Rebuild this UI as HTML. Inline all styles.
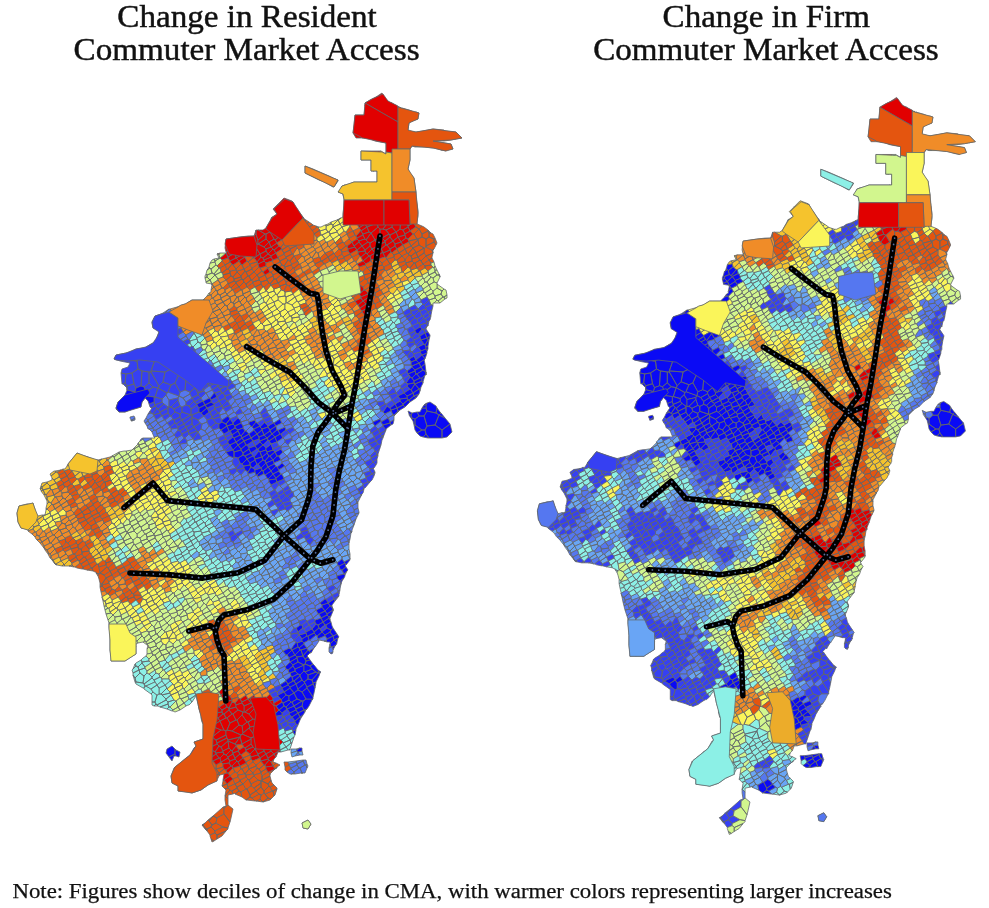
<!DOCTYPE html>
<html><head><meta charset="utf-8"><title>Change in Commuter Market Access</title>
<style>
html,body{margin:0;padding:0;background:#fff;}
svg{display:block;}
text{font-family:"Liberation Serif",serif;fill:#111;}
</style></head><body>
<svg width="989" height="908" viewBox="0 0 989 908">
<defs><path id="pRC" d="M190 783l-19-7 1 7 6 3 0 5 10 1zM190 783l2-5-18-10-3 8zM192 778l3-4 0-2-4-3-11-6-5 4-1 1zM191 769l-5-11-6 5zM208 778l-7-3-6-1-3 4-2 5-2 9 4 1 9-3 7-5 2-1zM70 546l-2-3-2-1-4 5 1 2zM71 549l-1-3-7 3 0 1 2 2zM216 781l-6-3-2 0 2 6zM93 571l-1-3-1 0-4 2zM99 574l-3-1 2 3zM102 586l0-1 0-1-2-1 0 4zM105 591l0-2-3-3-2 1 1 5zM200 750l3-3 2-11 0-1-2-1 0 5-9 3 2 4-2 2zM219 774l0-1-3-4 0-1-15 7 7 3 2 0zM216 781l1-1 2-4 1-1-1-1-9 4zM216 781l1 0 0-1zM224 780l-1 0 0 1zM227 784l-3-4-1 1-1 5zM222 786l3 3 3-1 0-1-1-3zM225 796l5-6-2-2-3 1 1 1zM230 790l-5 6 3 3 0-4 5-1-1-3zM91 568l1 0 5-4-2-3-6 3zM95 572l1 0 0 1 3 1 1-1-1-6-1-3-1 0-5 4 1 3zM105 589l6-3-2-3-7 2 0 1zM107 594l1 0 4-5-1-2 0-1-6 3 0 2zM115 590l-3-1-4 5 2 2 5-3 1-1zM223 767l0-3-2-2-5 3 0 3 0 1zM219 773l5-4-1-2-7 2zM227 773l-1-3-2-1-5 4 0 1 1 1 4-1zM235 784l-2-5-6 5 1 3zM86 545l6-3-2-3-5 3zM105 561l-2-1-5 4 1 3 7-2 0-2zM104 575l2 3 6-3-2-4zM109 582l5-3 0-1-2-3-6 3zM119 586l-4 4 1 2 6-2zM124 594l-1-1-5 4 3 4 5-4zM128 599l-1-2-1 0-5 4 0 1 1 1 6-2zM205 717l-4-2 0 3zM208 718l0-1-3 0-4 1 1 4zM202 722l1 2 0 10 2 1 5-9-2-8zM230 776l5-4-2-4-5 5zM61 480l-5 3 2 4 5-3 1-1zM58 487l0 1 2 3 1 0 4-4-2-3zM109 556l-4 5 1 2 6-2zM114 563l-2-2-6 2 0 2 1 2 1 1zM110 571l2 4 6-4 0-1-2-2zM123 593l1 1 6-4-3-3-5 3zM134 597l0-2-1-1-1-1-5 4 1 2zM131 604l5-4-2-3-6 2 0 2 2 3zM205 701l-3-3-2 0-3 2 1 4zM209 703l-4-2-7 3 1 5zM209 703l-10 6 2 6 4 2 3 0 2-3 0-10zM240 766l-7 2 2 4 2 1 4-4zM260 799l-4 2 7 1zM61 479l6-3-2-4-6 3 0 2zM69 480l0-1-2-3-6 3 0 1 3 3zM63 484l2 3 2 0 4-3-2-4-5 3zM72 484l-1 0-4 3 1 4 6-4 0-1zM91 526l5-3-2-4-6 4zM92 530l1 0 6-3-3-4-5 3 0 3zM101 531l-2-3 0-1-6 3 2 4zM134 597l2 3 6-3-1-2-7 0zM140 604l3-5-1-2-6 3 3 4zM242 769l6-3-2-3-6 3 1 3zM268 798l-3-4-1-1-3 2-1 4 3 3zM268 798l-5 4 7-2 1-1zM64 471l1 1 2 4 5-5 0-3zM69 479l6-2 0-1-3-5-5 5zM91 512l-1 1 2 3 6-3-2-4zM98 513l-6 3 2 3 6-3-1-3zM102 519l-2-3-6 3 2 4 7-3zM236 746l3 4 5-3-2-3-6 1zM243 758l7-3 0-1-4-3-5 4zM246 762l5-3 0-2-1-2-7 3zM246 763l2 3 5-4 0-1-2-2-5 3zM254 775l7-2 0-1-2-3-2-1-4 5 0 1zM268 798l3 1 3-3-1-5-1 0-7 3zM91 501l2 3 5-3-1-4zM101 505l-1-2-2-2-5 3 0 1 3 4zM104 508l-2-3-1 0-5 4 2 4 1 0zM147 578l-2-3-6 3 0 1 3 4zM150 581l-2-2-1-1-5 5 2 3 6-4zM256 765l0 1 1 2 2 1 5-4-3-4zM266 767l-1-2-1 0-5 4 2 3 5-3zM266 769l-5 3 0 1 1 3 6-4zM270 787l2 4 1 0 4-2 0-1-3-3zM273 791l1 5 1-1 2-6zM95 481l-2-2-5 4 3 4 4-5zM95 482l-4 5 2 3 6-3-3-4zM275 769l-6 3 1 3 0-1zM98 471l-2-3-7-3 1 7 2 3 5-2zM100 476l-3-3-5 2 0 2 1 2 2 2zM103 480l-7 3 3 4 1 0 4-5zM271 762l2 4 3-3-3-1 1-3zM273 766l2 3 2-2 3-2-4-2zM275 769l2-1 0-1zM310 823l-2-3-6 3 1 3zM303 826l0 2 5 1 3-5-1-1zM123 497l-1-1-5 6 1 2 6-3zM241 688l-2-3-6 3 0 1 1 3 2 1zM291 769l0-1-2-3-4 2 0 3 2 2zM118 491l1 3 1 1 5-5-2-3zM125 490l-5 5 2 1 1 1 5-3 0-1-2-2zM222 273l5-4-2-4-5 3 1 4zM223 275l7-2 0-2-2-2-1 0-5 4zM223 277l3 3 5-4-1-3-7 2zM234 279l-1-2-2-1-5 4 2 3 0 1 6-3zM236 282l-2-1-6 3 2 3 1 1 5-5zM231 288l1 2 1 0 6-3-3-4zM230 271l0 2 1 3 2 1 4-5 0-1-1-1zM237 272l-4 5 1 2 7-2 0-1zM242 279l-1-2-7 2 0 2 2 1zM243 280l-1-1-6 3 0 1 3 4 5-5zM247 287l-1-3-2-2-5 5 2 3 1 0zM237 272l4 4 4-5-1-2-7 2zM248 276l-2-4-1-1-4 5 0 1 1 2 1 1zM251 280l-2-4-1 0-5 4 1 2 2 2zM253 283l0-1-1-2-1 0-5 4 1 3zM244 269l1 2 1 1 6-3 0-1-2-3zM246 272l2 4 1 0 5-4-2-3zM257 275l-3-3-5 4 2 4 1 0zM298 261l-6 3-1 1 2 3 1 0 5-4zM294 268l1 3 6-3 1 0-2-4-1 0zM297 261l5-5-1-2-1 0-6 2zM304 238l-2-3-6 4 0 7 1 2 2 2 5-3zM330 261l2 2 6-3-1-3-1-1zM342 254l-5 3 1 3 6-2 0-1zM358 284l7-5-1-4-12 5-1 3 1 1zM359 267l0 2 2 2 2 1 4-5-2-2z"/><path id="pRD" d="M206 829l-3-4-1 0 3 4zM207 829l-1 0-1 0 2 2zM203 825l2-2-3 2zM203 825l3 4 1 0 4-2 1-2-3-4-1-1-3 3zM207 831l3 4 5-2 0-2-4-4-4 2zM209 821l4-5-5 4zM213 816l-4 5 3 4 4-2 1-5zM216 823l-4 2-1 2 4 4 8-4zM224 808l-1-1-1 1-9 8 4 2 7-4zM66 542l-1-3-6 2 0 1 3 4 0 1zM83 568l0-1-2-3-1-1-5 4 2 1 5 1zM68 543l5-5-2-3-6 3 0 1 1 3zM83 569l4 1 4-2-2-4-6 3 0 1zM89 564l6-3 0-2-2-2-6 3zM237 773l1 2 7-1-3-5-1 0zM57 472l2 3 6-3-1-1-1-2-2 1zM76 490l-6 4 2 2 6-2-1-3zM245 774l4-5-1-3-6 3zM253 774l0-1-4-4-4 5 1 1zM68 464l-1 2 2-1zM77 479l-2-2-6 2 0 1 2 4 1 0zM82 487l-2-3-6 2 0 1 2 3 1 1zM248 766l1 3 7-3 0-1-3-3zM253 773l4-5-1-2-7 3zM81 463l1-2-9-3-5 6 1 1 3 2zM80 484l5-5 0-1-1-2-1 0-5 3zM90 472l-6 4 1 2 7-1 0-2zM255 287l-2-4-6 4 3 3zM317 227l-8 6 5 1 6-4-2-2zM320 231l0-1-6 4 3 4 4-3z"/><path id="pRG" d="M211 839l1 3 2-1zM217 835l-2-2-5 2 0 1 1 3 3 2 3-2zM223 827l-8 4 0 2 2 2 9-4 2-2 0-1zM217 835l0 4 5-3 4-5zM224 814l-7 4-1 5 7 4 5 1 2-6zM224 808l0 6 6 8 1-4 2-9-5-4zM216 765l-3-4-4-2-8 0-6 13 0 2 6 1 15-7zM100 583l2 1 4-6-2-3-4-2-1 1-1 2 1 3zM102 584l0 1 7-2 0-1-3-4zM107 567l-1-2-7 2 1 6zM107 567l-7 6 4 2 6-4-2-3zM237 773l-2-1-5 4 3 3 5-2 0-2zM116 567l-2-4-6 5 2 3 6-3zM112 575l2 3 6-3 0-1-2-3zM132 593l-2-3-6 4 2 3 1 0zM118 570l6-3-2-3-6 3 0 1zM118 571l2 3 6-3-2-4-6 3zM128 574l-1-3-1 0-6 3 0 1 2 3 1 0zM128 574l-5 4 2 3 6-3zM125 581l0 3 2 2 6-4-2-4zM138 590l-2-4-1 0-5 4 2 3 1 1zM134 595l7 0-1-2-2-3-5 4zM124 567l2 4 1 0 5-4-2-3zM136 571l-3-3-1-1-5 4 1 3 7-2zM131 578l5-4-1-2-7 2zM133 582l6-3 0-1-3-4-5 4zM136 586l6-3-3-4-6 3 2 4zM138 590l6-4-2-3-6 3zM132 567l1 1 5-5-2-3-6 3 0 1zM220 640l-2-3-7 3 2 4 7-3zM210 626l5-5-1-2-6 2 0 2zM228 284l0-1-5 5 2 2 5-3zM249 316l-2-3-6 3 2 4 1 1zM245 323l0 1 3 3 5-3 0-1-2-3zM256 328l-3-4-5 3 0 1 2 4zM241 290l-2-3-6 3 2 4zM230 262l0-1-2-3-6 2 0 1 3 4zM227 269l1 0 4-5-2-2-5 3zM233 265l-1-1-4 5 2 2 6-1 0-1zM241 264l-2-3-6 4 3 4zM236 270l1 1 7-2-2-4-1-1-5 5zM250 265l0-1-2-2-1-1-5 4 2 4zM259 280l0-2-2-3-5 5 1 2zM253 283l2 4 6-3 0-2-2-2-6 2zM261 284l-6 3 3 5 1 0 4-5zM252 269l2 3 5-5-1-3-6 4zM254 272l3 3 5-4-2-3-1-1zM265 275l-2-3-1-1-5 4 2 3zM265 275l-6 3 0 2 2 2 6-2 0-1zM264 287l5-4-2-3-6 2 0 2 2 3zM262 271l1 1 5-4-2-2-6 2zM273 275l-2-3-1 0-5 3 2 4 6-3zM274 279l-1-3-6 3 0 1 2 3 1 1zM276 279l-2 0-4 5 1 1 7-2zM279 272l-2-3-1-1-5 4 2 3zM279 273l0-1-6 3 0 1 1 3 2 0 5-4zM284 277l-3-2-5 4 2 4 6-4zM278 283l2 3 6-2 0-2-2-3zM286 284l-6 2 0 1 1 3 3 1 3-6zM288 274l0-1-3-5-6 5 2 2 3 2zM286 282l6-3-2-4-2-1-4 3 0 2zM294 282l-2-3-6 3 0 2 1 1 2 1zM296 286l-1-3-1-1-5 4 2 3zM291 291l2 3 6-5-2-2-1-1-5 3zM293 268l-5 5 0 1 2 1 5-3 0-1-1-3zM298 276l-3-4-5 3 2 4zM295 283l5-4-2-3-6 3 2 3zM296 286l1 1 6-5-3-3-5 4zM297 287l2 2 6-2 0-1-2-4zM307 290l-2-3-6 2 2 4zM306 275l-2-3-1 0-5 4 2 3zM310 294l5-3 0-1-2-3-6 3 2 4zM310 268l-6 4 2 3 6-3zM312 272l2 3 6-4-1-3-1 0zM319 257l-6 2 0 2 2 3 6-3-1-3zM318 268l1 0 5-4-2-3-1 0-6 3 0 1zM320 258l1 3 1 0 6-4-3-4zM328 257l-6 4 2 3 1 0 5-3zM334 253l-2-3-7 3 3 4zM330 261l6-5-2-2 0-1-6 4zM346 261l-2-3-6 2 2 4 0 1zM358 254l-6 3 2 4 2 1 4-6zM347 234l6-3-3-5-4 6zM352 242l5-3 0-1-1-2-1-1-6 3 0 1zM389 201l7-5-5-16-13 0 8 19z"/><path id="pyM" d="M26 519l0-1 0-1-1 0-8-3 1 8 2 4zM26 519l-6 7 1 2 5 1zM53 560l-2-3-1 1 2 2zM55 564l-2-4-1 0zM29 509l0-2-2-3-8 2-2 7 0 1 8 3 1-1zM60 558l-1-1-6 3 2 4 1 0 5-3zM29 507l1-3-3 0zM29 509l-3 7 9-5 0-2-1-2zM26 516l-1 1 1 0 7 1 4-3-2-4zM33 518l4 2 6-4-1-1-4 1-1-1zM37 520l2 4 5-5-1-3zM80 535l-3-4-6 4 2 3zM82 538l-2-3-7 3 3 3zM91 554l5-5-2-3-5 3 0 2 1 2zM159 465l1 0 5-5-2-2-7 1zM168 463l-3-3-5 5 2 3 6-4zM170 468l-2-4-6 4 1 2zM175 463l-2-2-5 2 0 1 2 4z"/><path id="pyD" d="M33 529l1-2-8-9 0 1 0 10 2 1 0 1zM56 564l-1 0 1 1 1 0zM39 524l-2-4-4-2-7-1 0 1 8 9 5-2zM36 532l5-4 0-1-2-2-5 2-1 2 2 3zM64 564l-3-3-5 3 1 1 5 1zM62 566l3 0-1-1 0-1zM34 507l-1-4-3 1-1 3 0 2zM72 565l0-2-2-2-1-1-5 5 1 1 4 0zM42 488l0-1-1-1-1 3zM43 490l-1-2-2 1 1 1 0 1zM45 494l-2-4-2 1 3 4zM47 499l0-2-1-2-1-1-1 1 2 4zM49 502l-2-3-1 0 1 2 0 3zM47 509l5-5-1-1-2-1-2 2-1 4zM42 487l5-4 0-1-5 1-1 3zM50 488l0-2-3-3-5 4 0 1 1 2zM51 489l-1-1-7 2 2 4 1 1zM47 499l2 3 2 1 4-6-1-2-7 2zM52 478l0 2-5 2 0 1 3 3 6-3-2-3zM56 483l-6 3 0 2 1 1 1 1 6-2 0-1zM82 538l5-3-2-4-5 4zM55 471l-1 0-4 3 1 2 5-4zM59 475l-2-3-1 0-5 4 1 2 2 2 5-3zM61 479l-2-2-5 3 2 3 5-3zM61 470l-6 1 1 1 1 0zM69 465l-2 1-2 3-2 0 1 2 8-3 0-1zM80 484l-2-5-1 0-5 5 2 2zM72 468l0 3 3 5 6-5 0-8-9 4zM78 479l5-3-2-5-6 5 0 1 2 2zM88 483l-3-4-5 5 2 3zM82 461l0-6-5-2-4 5zM90 472l-1-7-7-4-1 2 0 8 2 5 1 0zM109 516l6-3 0-1-3-4-5 5zM109 516l2 4 6-3 0-1-2-3zM125 515l-1-2-7 3 0 1 2 2 1 1 5-4zM82 461l6-4-6-2zM82 461l7 4 7-5-8-3zM89 465l7 3 5-4-2-3-1-1-2 0zM101 464l-5 4 2 3 6-2 0-2-2-2zM99 461l2 3 1 1 5-5-1-2-4 1z"/><path id="pOD" d="M35 532l-2-3-5 2 4 3zM46 534l-2-3-1 0-4 5 1 2 6-2zM53 535l-2-4-5 3 0 2 2 2zM69 531l-7 3 0 1 3 3 6-3zM71 535l6-4-2-3-2-1-4 4zM83 528l-3-5-1 0-4 5 2 3zM139 552l1 1 6-3 0-1-3-3-5 3zM142 556l1 0 4-4-1-2-6 3zM154 548l-5 5 1 3 6-3zM153 560l5-4-2-3-6 3 0 1zM163 549l-1-1-6 5 2 3 7-4zM245 309l6-3-3-4-1-1-4 4zM254 299l0-1-6 4 3 4 5-5z"/><path id="pOL" d="M37 535l-1-3-1 0-3 2 3 3zM44 548l0-2-2-4-2 1zM49 554l-2-4-3-2 1 2 3 4zM51 543l-1 0-6 3 0 2 3 2 6-4 0-1zM55 549l-2-3-6 4 2 4 1 0zM55 549l-5 5 1 2 6-3zM53 546l2 3 7-3-3-4-6 3zM50 512l5-3-2-4-1-1-5 5zM52 490l-1-1-5 6 1 2 7-2zM52 504l1 1 6-3-3-5-1 0-4 6zM61 505l-2-3-6 3 2 4zM58 513l5-4 0-1-2-3-6 4zM58 488l-6 2 2 5 6-4zM54 495l1 2 1 0 6-1 0-3-1-2-1 0zM69 520l1 1 6-4 0-1-2-2-6 3zM78 519l-2-2-6 4 2 3 6-4zM75 528l4-5-1-3-6 4 1 3zM77 506l-6 2 0 2 3 3 4-5zM85 505l-2-3-6 2 0 2 1 2 2 1zM102 545l0 1 6-4-2-3-6 2 0 2zM110 546l0-1-2-3-6 4 2 3 1 0zM110 545l6-4-2-3 0-1-6 5zM136 574l7-2 0-2-1-2-1-1-5 4-1 1zM145 574l-2-2-7 2 3 4 6-3zM95 495l2 2 6-1 0-3-1-3-1 0zM103 496l-6 1 1 4 2 2 5-6zM108 501l0-1-1-2-2-1-5 6 1 2 1 0zM110 506l0-2-2-3-6 4 2 3 1 0zM149 567l-3-3-4 4 1 2 6-2zM143 570l0 2 2 2 6-4-2-2zM145 574l0 1 2 3 1 1 6-5-2-3-1-1zM109 491l-6 2 0 3 2 1 2 1 4-4zM154 574l6-3-3-4-5 4zM167 582l-1-1-5 5 2 3 1 0 5-3zM164 589l1 3 0 1 6-2 0-3-2-2zM118 504l0 1 2 3 1 1 5-4 0-1-2-3zM126 505l-5 4 3 4 5-5zM126 505l3 3 5-4-2-3-6 3zM295 271l0 1 3 4 5-4-2-4zM305 261l-5 3 2 4 6-3 0-1zM309 279l2 4 6-4-3-3zM309 254l-5 3 1 4 6-4zM313 259l-1-1-1-1-6 4 3 3 5-3zM315 264l-2-3-5 3 0 1 2 3 5-3zM352 309l-4-4-4 4 2 3zM317 238l-3-4-5-1-6 0-1 2 2 3 5 4 8-2zM317 240l-8 2 3 5 1 0 5-6zM315 249l0 1 1 2 2 1 5-3-2-4zM353 298l-6 3 0 1 1 2 7-3zM324 239l-5 3 2 4 5-4zM326 242l-5 4 2 4 5-4-1-4zM328 246l1 1 6-5-2-3-6 3zM339 235l2 2 0 1 6-4-1-2-2-1z"/><path id="pOM" d="M39 536l-2-1-2 2 1 2 1 1 3-1 0-1zM37 540l3 3 2-1-2-3zM51 557l0-1-1-2-1 0-1 0 2 4zM41 528l-5 4 1 3 2 1 4-5zM46 536l-6 2 0 1 2 3 6-4zM48 538l-6 4 2 4 6-3zM51 556l0 1 2 3 6-3-1-4-1 0zM51 531l-1-3-1-1-5 4 2 3zM50 543l1 0 5-6-2-2-1 0-5 3zM59 542l0-1-2-3-1-1-5 6 2 2zM72 565l-3 1 5 1zM54 535l5-5-1-2-7 3 2 4zM56 537l1 1 5-3 0-1-2-4-1 0-5 5zM57 538l2 3 6-2 0-1-3-3zM72 563l0 2 2 2 1 0 5-4-1-2-1-1zM82 569l1 0 0-1zM104 601l-2-4 1 4zM56 525l2 3 4-5-1-2-6 1zM60 530l6-2 0-2-1-2-3-1-4 5 1 2zM66 528l-6 2 2 4 7-3zM61 521l6-4-1-2-6 1 0 1zM65 524l4-4-1-3-1 0-6 4 1 2zM72 524l-2-3-1-1-4 4 1 2zM73 527l-1-3-6 2 0 2 3 3zM56 497l3 5 4-4-1-2zM65 499l-2-1-4 4 2 3 6-4zM67 501l-6 4 2 3 6-3zM69 505l-6 3 0 1 3 3 5-2 0-2-1-3zM68 517l6-3 0-1-3-3-5 2 0 3 1 2zM65 487l-4 4 1 2 6-1 0-1-1-4zM68 492l-6 1 0 3 1 2 2 1 5-5zM70 494l-5 5 2 2 6-3-1-2zM103 534l-5 5 2 2 6-2 0-1zM99 528l5-5-1-3-7 3 3 4zM108 527l-4-4-5 5 2 3 1 0zM109 530l-1-3-6 4 1 3 7-2zM111 534l-1-2-7 2 3 4zM104 523l4 4 4-4-1-3zM186 652l6-5-3-3-6 3 0 1 2 4zM138 563l7-3 0-1-2-3-1 0-6 4zM192 637l-5 3 2 3 6-3-1-3zM150 556l-1-3-2-1-4 4 2 3 5-2zM145 559l0 1 2 3 6-2 0-1-3-3zM101 476l4-4-1-3-6 2-1 2 3 3zM99 461l3-2-4 1zM102 465l2 2 6-2 0-2-2-3-1 0zM107 460l1 0 5-4-1 0-2 1-4 1zM313 247l-1 0-6 3 3 4 6-4 0-1zM324 264l-5 4 1 3 7-3-2-4z"/><path id="pYL" d="M117 653l3-3 0-2-10-1 0 3 1 7zM117 653l-6 4 0 4 6 0zM112 636l-2-1 0 2zM120 648l1-1 1-9 0-1-1-1-9 0-2 1 0 3 0 7zM120 650l-3 3 0 8 8 0zM126 649l-5-2-1 1 0 2 5 11 6-4zM118 597l-6 3 0 2 1 2 8-3zM173 684l1 1 4-3 0-1-2-4-6 4zM144 612l0-1-6 3 0 1 2 3 6-3zM176 677l2 4 6-4-2-2zM184 677l-6 4 0 1 4 2 4-4-1-2zM143 599l-3 5 1 3 6-3 0-1-1-3zM141 607l3 4 0 1 5-5-2-3zM152 611l-3-4-5 5 2 3zM140 593l1 2 1 2 6-4-1-3-1 0zM149 593l-1 0-6 4 1 2 3 1 5-4zM146 600l1 3 6-3-2-4zM147 604l2 3 6-3-2-3 0-1-6 3zM149 607l3 4 6-4-2-3-1 0zM152 611l3 4 5-4 0-1-2-3zM154 589l-2-3-5 4 1 3 1 0zM153 600l0 1 6-5-2-2-6 2zM153 601l2 3 1 0 5-5-2-3zM156 604l2 3 5-3 1-1-2-3-1-1zM161 599l1 1 5-3-2-4 0-1-6 4zM170 601l-2-4-1 0-5 3 2 3zM154 563l-1-2-6 2-1 1 3 3zM151 570l1 1 5-4-2-4-1 0-5 4 0 1zM124 513l1 2 7-2 0-1-3-4zM177 586l-6 2 0 3 2 2 1 0 4-4zM188 619l2 1 5-6-2-2-6 2 0 1zM198 607l-5 4 0 1 2 2 6-3-1-3zM122 472l1-1-2-3-1-1-5 6 1 2zM124 461l-6 4 2 2 1 1 6-3zM123 471l6-2 0-2-2-2-6 3zM126 476l4-5-1-2-6 2-1 1 3 4zM143 504l0 1 2 4 1 0 5-5-1-2-1-1zM146 509l1 2 7-2-2-4-1-1zM127 465l2 2 5-2 0-1-1-3-2-1zM129 467l0 2 1 2 1 0 6-3-3-3zM150 502l4-5-2-3-5 3 0 1 2 3zM151 504l1 1 6-3 0-1-3-4-1 0-4 5zM152 493l0 1 2 3 1 0 6-4-2-3-1 0zM163 497l-2-4-6 4 3 4zM253 655l1 1 5-5-1-2-7 2zM147 456l5-3-2-4-1 0-5 4zM159 476l1 3 7-4-4-4zM167 475l-7 4 2 3 1 0 6-3 0-1zM149 449l1 0 6-2 0-2-2-3-1 0-5 4zM152 453l2 4 1 0 5-6-1-1-1-1zM170 468l-7 2 0 1 4 4 4-4 0-1zM167 475l2 3 5-3-3-4zM162 442l-2-4-1-1-5 5 2 3zM237 364l0 1 3 3 6-3 0-1-2-2zM266 291l-2-4-1 0-4 5 1 2 7-3zM266 303l1 2 7-3-3-4-1-1zM273 316l1 0 6-3 0-1-3-3-5 3zM280 313l-6 3 2 4 1 0 4-4zM266 291l1 0 1 2 6-2 0-2-3-4zM268 295l2 2 1 1 5-4-2-3-6 2zM285 304l-2 0-6 5 3 3 5-3zM285 309l-5 3 0 1 1 3 2 1 5-5zM285 320l5-4-2-4-5 5zM274 291l2 3 1 1 4-5-1-3-6 2zM284 291l-3-1-4 5 1 2 7-1 0-4zM286 297l-1-1-7 1 0 3 5 4 2 0 1-1zM285 292l0 4 1 1 7-3-2-3zM287 303l8-6-2-3-7 3 0 6zM292 305l5-4-2-4-8 6zM294 309l2 4 1 0 4-4-1-3-6 2zM305 326l1 1 5-4-2-3-6 4zM295 297l2 4 1 1 6-3-1-2-2-3zM304 299l-6 3 2 3 6-2 0-2zM333 239l-3-4-5 4-1 0 2 3 1 0zM335 242l0 1 6-6-2-2-6 4zM337 231l0 1 2 3 5-4-2-4z"/><path id="pBC" d="M175 754l0-5-3-3-5 3-1 4 3 4zM175 754l-6 3 3 4 2-5 2 0zM175 754l1 2 3 1 1-5-4-2-1-1zM191 769l4 3 6-13-1-9-6-2-4 7-4 3zM296 628l2 4 5-4-1-3-2 0zM299 635l3 4 5-3-1-3zM330 606l-5 5 2 3 6-4 0-1-2-3zM331 616l2-5 0-1-6 4 0 1 2 2zM334 599l-6 4 2 3 1 0 1 0 0-1 3-4zM331 606l2 3-1-3zM333 610l0 1 0-1 0-1z"/><path id="pCD" d="M136 682l-1-4-2-3 2 7zM144 684l-1-1-7-1-1 0 1 2 7 4 1 0 1-2zM156 704l-1-2-3 0 0 3 2 1zM157 705l-1-1-2 2 4 0zM136 666l-1-2-2 5zM136 666l-3 3-1 1 1 3 6-3-1-3zM135 678l5-5-1-3-6 3 0 2zM135 678l1 4 7 1 1-7-4-3zM153 692l-2-3-5-3-1 0-1 2 0 1 7 5zM151 694l1 1 0 7 3 0 2-7-4-3zM136 666l2 1 4-4 0-1-1-2-5 3-1 1zM139 670l6-2 0-1-3-4-4 4zM139 670l1 3 4 3 3-3 0-2-2-3zM147 673l-3 3-1 7 1 1 8-6 0-1-3-3zM146 686l9-4-1-2-2-2-8 6 1 2zM155 702l1 2 1 1 9-5 0-1-4-4-1-1-2 0-2 1zM168 704l0-2-2-2-9 5 1 1 2 1zM169 707l-1-3-8 3 7 2zM172 711l1-1-3-3-1 0-2 2zM141 660l1 2 7-1 0-2-3-3-3 2zM151 663l-2-2-7 1 0 1 3 4zM149 674l3 3 4-4-1-3zM152 677l0 1 2 2 6-3-1-3-3-1zM161 678l-1-1-6 3 1 2 2 3 5-4 0-2zM159 694l2 0 6-6-2-3-6 3zM170 693l0-1-3-3 0-1-6 6 1 1zM166 699l5-4-1-2-8 2zM166 700l2 2 6-2-3-5-5 4zM176 701l-2-1-6 2 0 2 1 3 1 0zM167 688l0 1 6-5-3-3-5 4zM165 660l-6 2 0 1 2 4 1 1 5-6zM168 663l-1-1-5 6 1 2 1 0 6-4zM172 669l-1-3-1 0-6 4 2 3zM190 699l-1 0-5 4 2 3 2-1 1 0 3-3zM173 659l-2-4-1-1-5 6 2 2 1 1zM106 539l2 3 6-5-2-2-1-1-5 4zM113 549l5-2 0-2-2-4-6 4 0 1zM186 667l2 3 6-3 0-1-2-3-6 3zM204 681l-3-4-5 4 2 3 6-1zM114 538l2 3 7-2-3-5zM124 553l6-3-4-5-5 5 2 2zM126 557l1 2 7-3-3-4zM199 659l-3-3-1-1-5 5 2 2zM192 662l0 1 2 3 6-4-1-3zM194 666l0 1 3 3 5-4-1-4-1 0zM202 666l-5 4 1 2 2 1 5-4-2-2zM207 675l-6 1 0 1 3 4 5-4zM209 677l-5 4 0 2 1 1 6-3zM160 545l-2-3-1-1-5 5 2 2zM160 545l-6 3 2 5 6-5zM167 555l0 1 2 3 1 0 5-3-1-3-1-1zM290 740l-3-4-6 4 2 2 0 1zM291 743l-1-3-7 3 3 4zM291 743l-5 4 2 3 1 0 1-1 2-6zM285 733l2 2 6-3 0-1-1-2-7 2zM290 740l4-3 1-2-2-3-6 3 0 1zM290 740l1 3 1 0 1-3 1-3zM170 534l0 1 1 3 7-4-2-4zM178 534l-7 4 3 3 0 1 6-4 0-1zM184 530l-6 4 2 3 6-3zM187 522l-1-3-2-1-4 5 2 3zM190 527l0-1-2-3-1-1-5 4 2 4zM186 534l1 0 6-3 0-2-3-2-6 3zM206 551l-3-2-4 4 0 2 7-2zM207 555l-1-2-7 2 0 1 4 3zM203 560l1 2 6-3-1-3-2-1-4 4zM205 564l1 2 1 1 5-4-1-4-1 0-6 3zM213 551l-1-2-1 0-5 2 0 2 1 2 2 1zM216 556l-5 3 1 4 1 0 5-4zM159 450l1 1 6-1-1-4-2-1zM169 453l-1-1-5 6 2 2 6-4zM171 471l3 4 6-4-2-3-7 2zM184 479l-6 3 3 4 0 1 5-5zM194 494l-3-4-5 3 0 1 2 3 0 1zM186 468l0-2-2-2-1 0-5 4 2 3 1 1zM189 472l-3-4-5 4 1 2zM191 476l0-1-2-3-7 2 0 1 2 4zM188 483l5-5-2-2-7 3 2 3zM184 464l5-4-1-3-7 2 0 1 2 4zM193 468l-1-3-6 1 0 2 3 4zM191 475l7-4-3-2-2-1-4 4zM193 478l7-2-2-5-7 4 0 1zM191 449l-5 3 2 4 5-2 0-2zM189 460l2 1 4-5-2-2-5 2 0 1zM193 452l0 2 2 2 1 0 6-3-2-4-1 0zM204 457l-5 4 0 1 1 1 7-2 0-2-2-2zM223 486l-1-1-4 6 0 1 7-1-1-3zM224 488l1 3 0 1 2 1 5-4-1-2zM245 389l0 1 1 4 2 0 5-4-2-3zM253 390l-5 4 2 3 6-3zM260 401l0-1-2-2-6 3 0 1 1 2 2 1z"/><path id="pYD" d="M45 520l-1-1-5 5 0 1 2 2 7-3zM49 527l-1-3-7 3 0 1 2 3 1 0zM46 508l0 2 1-1zM46 510l-1 5-3 0 1 1 7-3 0-1-3-3zM43 516l1 3 1 1 6-4-1-3zM52 516l-1 0-6 4 3 4 5-4zM48 524l1 3 1 1 6-3-1-3-2-2zM58 528l-2-3-6 3 1 3zM133 650l-7-1 5 8 5-3 0-3zM55 509l-5 3 0 1 1 3 1 0 6-3zM60 517l0-1-2-3-6 3 1 4zM53 520l2 2 6-1-1-4zM60 516l6-1 0-3-3-3-5 4zM125 608l-6 2 2 5 6-3zM175 688l-1-3-1-1-6 5 3 3zM178 692l-3-4-5 4 0 1 1 2zM171 695l3 5 2 1 4-3-1-3-1-3zM130 604l-2-3-6 2 3 5zM133 608l0-1-2-3-1 0-5 4 2 4zM147 630l-3-4-5 4 2 3 6-2zM182 685l0-1-4-2-4 3 1 3zM178 692l5-4-1-3-7 3zM184 689l5-5-2-3-1-1-4 4 0 1 1 3zM195 693l0-1-3-4-6 4 2 3zM184 677l1 1 5-5-2-3-6 3 0 2zM190 674l0-1-5 5 1 2 1 1 6-4zM177 640l-1-2-7 1 0 2 4 3zM116 527l-2-3-2-1-4 4 1 3zM112 535l5-5 0-1-1-2-7 3 1 2 1 2zM114 537l0 1 6-4-3-4-5 5zM181 633l-2-4-5 4 2 3zM111 520l1 3 2 1 5-5-2-2zM120 520l-1-1-5 5 2 3 5-4zM202 651l-1 0-5 5 3 3 5-5zM123 524l4-5-2-3-5 4 1 3zM129 520l3-5 0-2-7 2 0 1 2 3zM158 556l-5 4 0 1 1 2 1 0 6-3zM161 560l-6 3 2 4 6-3 0-1zM161 560l2 3 6-4-2-3zM136 452l-1 2 3 4 1 0 4-5-2-2zM260 309l1 1 6-5-1-2-2-1-5 3 0 1zM269 309l-2-4-6 5 2 2 0 1zM260 294l2 4 1 0 5-3 0-2-1-2zM268 295l-5 3 1 4 2 1 4-6zM275 305l-1-3-7 3 2 4zM277 309l-2-4-6 4 3 3zM321 235l-4 3 0 2 1 1 1 1 5-3 1 0-3-4zM328 232l-2-3-6 2 1 4 1 0zM325 239l5-4 0-1-1-2-1 0-6 3zM326 226l5-2 0-2-3 2-3 1zM329 232l4-5 0-2-2-1-5 2 0 3 2 3zM330 234l7-2 0-1-4-4-4 5zM339 235l-2-3-7 2 0 1 3 4zM338 220l-1 0-6 2 0 2 2 1zM340 224l-2-4-5 5 0 2zM337 231l5-4-2-3-7 3zM338 220l3-2-4 2zM345 215l-2-1 0 2zM345 215l-2 1 0 1-2 1-3 2 2 4 12-8z"/><path id="pRL" d="M62 547l0-1-7 3 2 4 1 0 5-3 0-1zM75 554l-2 0-5 2 0 2 1 2 1 1 6-4 0-1zM76 557l-6 4 2 2 6-3zM70 546l1 3 7-2 0-2-2-2zM78 547l-7 2 2 5 2 0 4-5zM76 556l0 1 2 3 1 1 5-4-2-3zM79 561l1 2 1 1 6-4-2-3-1 0zM89 564l-2-4-6 4 2 3zM76 543l2 2 5-4-1-3-6 3zM83 541l-5 4 0 2 1 2 2 0 5-4-1-3zM85 557l2 3 6-3-2-3-1-1zM228 787l0 1 2 2 2 1 5-3 0-1-2-3zM232 791l1 3 2-1 0 1 4-3-2-3zM241 792l-2-1-4 3 7 3zM240 780l-2-3-5 2 2 5 5-3zM240 781l-5 3 2 3 6-3zM237 787l0 1 2 3 2 1 5-3-3-5zM75 501l-2-3-6 3 2 4 1 0 5-3zM77 504l-2-2-5 3 1 3 6-2zM78 508l-4 5 0 1 2 2 6-4-2-3zM82 512l-6 4 0 1 2 2 6-2 0-2zM78 519l0 1 1 3 1 0 6-3-2-3zM86 520l-6 3 3 5 5-5zM91 529l0-3-3-3-5 5 2 3zM88 535l2 2 5-2 0-1-2-4-1 0zM243 784l5-5-2-2-6 3 0 1zM255 801l1 0 4-2 1-4-2-1-7 4zM74 487l-6 4 0 1 2 2 6-4zM73 498l2 3 5-4 0-2-2-1-6 2zM82 512l6-4-2-3-1 0-5 4zM90 513l1-1-3-4-6 4 2 3zM84 517l2 3 6-4-2-3-6 2zM88 523l6-4-2-3-6 4zM98 539l5-5-1-3-1 0-6 3 0 1 2 3zM261 781l-3-1-7 4 0 2 3 2 7-5zM254 788l2 3 5-4 0-4zM256 791l3 3 2 1 3-2 0-2-3-4zM88 508l5-3 0-1-2-3-5 4zM93 505l-5 3 3 4 5-3zM261 781l1 0 0-1 0-4-1-3-7 2 0 1 4 4zM261 787l3 4 5-5-1-2-6-3-1 0 0 2zM272 791l-2-4-1-1-5 5 0 2 1 1zM100 516l2 3 7-3-2-3-1-1zM127 559l0 1 3 3 6-3-2-3 0-1zM141 567l-3-4-5 5 3 3zM150 582l-6 4 2 4 1 0 5-4zM269 772l-1 0-6 4 0 4 8-4 0-1zM262 780l0 1 6 3 3-4-1-4zM268 784l1 2 1 1 4-2-2-2-1-3zM103 480l-2-4-1 0-5 5 0 1 1 1zM100 487l1 3 1 0 4-3-1-5-1 0zM107 487l-1 0-4 3 1 3 6-2 0-1zM107 498l1 2 6-2-3-4zM110 504l5-3-1-3-6 2 0 1zM118 505l0-1-1-2-2-1-5 3 0 2 2 2zM106 472l-1 0-4 4 2 4 5-5zM105 482l6-2-2-5-1 0-5 5 1 2zM106 487l1 0 6-4-2-2 0-1-6 2zM109 490l0 1 2 3 6-4-2-4zM111 494l3 4 5-4-1-3-1-1zM120 495l-1-1-5 4 1 3 2 1 5-6zM270 284l-1-1-5 4 2 4 5-6zM271 285l3 4 6-2 0-1-2-3zM289 286l-2-1-3 6 1 1 6-1 0-2zM355 301l-7 3 0 1 4 4 5-5z"/><path id="pOC" d="M63 550l-5 3 1 4 1 1 6-4-1-2zM60 558l1 3 7-3 0-2-2-2zM66 554l2 2 5-2-2-5-6 3zM102 597l5-3-2-3-4 1 1 4zM110 596l0 1 2 3 6-3-3-4zM85 531l-2-3-6 3 3 4zM90 539l0-2-2-2-1 0-5 3 1 3 2 1zM109 582l0 1 2 3 0 1 6-4-3-4zM119 586l0-1-1-2-1 0-6 4 1 2 3 1zM116 592l-1 1 3 4 5-4-1-3zM87 535l1 0 4-5-1-1-6 2zM117 583l1 0 4-5-2-3-6 3 0 1zM122 578l-4 5 1 2 6-1 0-3-2-3zM122 590l5-3 0-1-2-2-6 1 0 1zM83 502l0-1-2-4-1 0-5 4 0 1 2 2zM135 586l-2-4-6 4 0 1 3 3zM78 494l2 1 4-5-2-3-5 4zM84 490l-4 5 0 2 1 0 6-3-2-4zM89 497l-2-3-6 3 2 4 6-3zM86 505l5-4-2-3-6 3 0 1 2 3zM91 487l-6 3 2 4 6-4zM206 669l-1 0-5 4 1 3 6-1 0-3zM157 578l-3-4-6 5 2 2 7-2zM158 582l-1-3-7 2 0 1 2 4zM160 586l-2-4-6 4 2 3 1 1zM200 648l-3-4-5 3 2 4 6-2zM207 659l-2-5-1 0-5 5 1 3 1 0zM207 659l-6 3 1 4 1 1 6-5zM211 665l-1-2-1-1-6 5 2 2 1 0 5-3zM211 666l-5 3 1 3 6-2zM158 582l7-3 0-1-3-3-5 3 0 1zM214 659l-1-3-6 3 2 3 1 1zM217 663l0-1-1-2-2-1-4 4 1 2zM213 671l5-5-1-3-6 2 0 1 2 4zM220 681l0 1 2 3 6-3-2-4zM223 688l2 1 5-5-1-2-1 0-6 3zM230 684l-5 5 1 2 7-2 0-1-2-4zM234 692l-1-3-7 2 2 4 2 1zM202 626l-5 3 0 1 1 3 1 0 6-3zM206 632l-1-2-6 3 2 3 6-3zM223 659l-6 3 0 1 1 3 7-3 0-1-1-2zM228 682l1 0 5-6-2-2-6 2 0 2zM236 680l-2-4-5 6 1 2 1 0 5-3zM131 498l-3-4-5 3 1 4zM213 629l-3-3-5 4 1 2 7-2zM244 680l6-4-1-3-2-1-5 5 1 1zM247 683l6-3-2-3-1-1-6 4zM247 684l2 3 1 1 5-4-2-4-6 3zM133 475l-2-4-1 0-4 5 1 3 6-3zM135 479l-2-3-6 3 2 4zM131 486l6-4-2-3-6 4zM131 486l3 4 6-4-2-3-1-1zM140 486l-6 4 2 4 1 0 5-4zM141 476l-2-3-6 2 0 1 2 3zM138 483l2 3 6-3-2-4-1-1zM275 687l-2-2-2-1-4 4 1 3 6-3zM147 471l-2-3-6 3 0 2 2 3 6-4zM148 460l-1-2-7 1 0 3 2 2 1 1zM145 468l5-4-2-4-5 5zM253 323l6-3-2-4-6 3 0 1zM261 310l-1-1-5 4 2 3 6-4zM263 313l0-1-6 4 2 4 6-4zM267 319l-2-3-6 4 2 3 1 1zM286 350l5-5-2-3-5 4 0 1zM291 356l5-3-2-4-6 3 0 2 2 2zM294 334l-6 5 1 2 7-2 0-2zM312 338l-2-4-6 3 0 2 2 1zM294 256l6-2-1-4-2-2-4 6zM300 264l5-3-1-4-2-1-5 5 1 0 1 3zM330 302l-2-4-6 2 0 2 2 2zM330 302l-6 2 3 5 5-5zM342 319l-6 4 0 1 1 3 1 0 6-4zM306 250l-5 4 1 2 2 1 5-3zM309 242l-5-4 0 9 2 3 6-3zM347 302l-6 3-1 0 2 4 2 0 4-4 0-1zM354 313l0-1-2-3-6 3 2 3zM321 246l-2-4-1-1-5 6 2 2zM327 268l6-3-1-2-2-2-5 3zM357 304l-5 5 2 3 6-3 0-1-2-3zM353 278l8-7-2-2-6 2zM312 173l1-1 0-3-8-3 0 7 4 2zM312 173l-3 2 4 2zM356 262l1 2 6-3-2-4-1-1zM312 173l1 4 6 3 2-2-8-6zM319 180l5 2 2-1 0-2-5-1zM326 181l-2 1 2 1zM313 172l8 6 5 1 3-1 0-1 0-1-16-7zM329 178l-3 1 0 2 0 2 7 4zM333 187l1 0 4-6-1-1-8-3 0 1zM342 187l0-1-2 4 2-1zM342 189l-2 1-2 2 5 2 0 1 6-3zM329 177l8 3-8-4zM337 180l1 1 0-1z"/><path id="pyC" d="M61 561l3 3 0 1 5-5-1-2zM91 554l2 3 6-4-2-3-1-1zM93 557l2 2 6-2 0-1-2-3zM97 564l1 0 5-4-2-3-6 2 0 2zM94 546l2 3 1 1 5-5-2-2zM99 553l5-4-2-3 0-1-5 5zM99 553l2 3 6-2-2-5-1 0zM107 554l-6 2 0 1 2 3 2 1 4-5zM260 666l2 3 1 0 5-4-1-3-7 3zM265 673l6-4-2-3-1-1-5 4zM276 678l0-1-3-4-5 4 2 3zM259 651l3 3 0 1 6-3 0-1-2-3zM262 655l2 3 0 1 6-5-2-2zM270 655l0-1-6 5 3 3 5-4zM317 321l0-3-1-1-2-1-5 4 2 3 1 0zM316 331l5-4-2-3-6 3zM333 265l2 2 5-3-2-4-6 3zM340 264l-5 3 0 1 2 4 6-4-3-3zM343 195l1 4 0 3 4 1 1-11zM342 187l3-2-3 1zM342 187l0 2 7 3 4-2-4-6-4 1zM353 190l6 0-4-8-1 0-5 2z"/><path id="pGM" d="M111 626l-2-3 0 1 0 3zM111 626l-2 1 1 8 2 1 9 0-4-6zM108 608l-2-2-2 0 1 4zM108 608l-3 2 1 4 5-1-1-1-1-4zM113 615l-2-2-5 1 2 6zM109 623l6-3 0-3-2-2-5 5zM137 641l-6-3-4-1-5 1-1 9 5 2 7 1 3-4 0-2 2-1zM133 650l3 1 0-5zM148 645l-1-1-1-2-1-1-2 1 4 3zM152 653l0-1-2-4-1-1-2 2 0 5zM166 673l-5 5 1 1 7 0 0-3zM171 666l5-3-3-4-5 4 2 3zM174 673l0 1 6-4 0-1-1-1-1-1-6 2zM155 615l-3-4-6 4 2 4zM156 618l-1-3-7 4 2 3 6-2zM158 621l-2-1-6 2 0 1 2 2 2 2zM176 663l5-4-2-3-6 3zM181 659l-5 4 2 4 1 1 5-6zM184 662l-5 6 1 1 6-2 0-1-2-3zM180 669l0 1 2 3 6-3-2-3zM164 619l-2-3-6 2 0 2 2 1 1 1zM164 619l-5 3 2 5 6-4zM164 631l1 1 1 0 6-2-2-5-1 0zM173 646l1 1 1 1 6-3 0-1-2-4-2 0-4 4zM183 647l-2-2-6 3 2 4 6-4zM166 608l-6 2 0 1 3 3 5-2 0-1zM174 618l4-3-1-3-7 2 0 1 2 3zM174 618l1 4 6-2 0-3-2-1-1-1zM186 640l1 0 5-3-2-4-5 4zM133 540l0 2 1 2 1 1 6-3 0-1-1-3-3-1zM137 537l3 1 5-4-2-3-1-1-5 4zM141 515l-1-2-1-1-5 3 2 4zM145 519l2 4 5-4 0-1-1-2-2 0zM163 549l4-4-1-3 0-1-6 4 2 3zM170 548l-1-2-2-1-4 4 2 3 5-3zM160 530l2 4 5-4-2-4zM162 534l1 3 7-2 0-1-2-3-1-1zM171 538l-1-3-7 2 3 4 0 1zM166 542l1 3 2 1 5-5-3-3zM170 520l4-5-2-3-6 3zM180 523l-2-1-5 5 3 3 6-4zM199 556l-5 3 2 4 7-3 0-1zM196 563l0 1 2 2 7-2-1-2-1-2zM201 570l3 5 5-5-2-3-1-1zM177 504l-1 0-6 3 2 5 6-3zM189 512l-6 4 1 2 2 1 6-3zM172 486l1 1 5-5-2-2-5 1 0 3zM175 489l0 2 2 2 1 1 5-5-2-2 0-1zM207 344l0-2-2-4-5 5 1 2zM201 347l2 3 2 0 3-5-1-1-6 1zM207 353l5-2 0-1-2-4-2-1-3 5zM230 368l-4 4 2 3 5-4 0-2zM235 361l-5 3-1 1 1 3 3 1 4-4 0-1-1-2zM238 379l2 4 1 0 5-4-2-3-6 2zM327 268l2 4 6-4 0-1-2-2zM329 272l0 5 1 2 6 6 2-1-1-12-2-4zM345 288l0 10 2 3 6-3zM343 268l-6 4 1 12 6 0 1-13-1-3zM345 271l-1 13 7-1 1-3 1-2 0-7-1-2z"/><path id="pYM" d="M106 606l0-2-1-3-1 0-1 0 1 5zM104 601l1 0 5-4 0-1-2-2-1 0-5 3zM112 602l0-2-2-3-5 4 1 3zM113 605l0-1-1-2-6 2 0 2 2 2 1 0zM110 612l6-4-3-3-4 3zM117 608l-1 0-6 4 1 1 2 2 5-5zM113 604l0 1 3 3 1 0 4-6 0-1zM121 602l-4 6 1 2 1 0 6-2-3-5zM149 647l-1-2-1 4zM127 612l2 4 1 0 6-5-3-3zM131 617l1 1 6-3 0-1-2-3-6 5zM140 618l-2-3-6 3 2 4 6-2zM140 620l-6 2 2 4 6-3 0-1zM166 673l3 3 5-3-2-4zM169 676l0 3 1 2 6-4-2-3 0-1zM136 611l5-4-1-3-1 0-6 3 0 1zM146 615l-6 3 0 2 2 2 6-3zM142 622l0 1 2 3 6-3 0-1-2-3zM150 623l-6 3 3 4 5-5zM176 677l6-2 0-2-2-3-6 4zM165 632l-5 5 1 2 7-1-2-6zM169 641l0-2 0-1-1 0-7 1 0 2 2 3 3 1zM166 632l2 6 1 0 4-6-1-2zM174 633l-1-1-4 6 0 1 7-1 0-2zM172 630l6-4-3-4-5 3zM173 632l1 1 5-4-1-3-6 4zM182 633l-1 0-5 3 0 2 1 2 2 0 5-3zM178 626l5-4-2-2-6 2zM113 484l0-1-6 4 2 3 6-4zM116 475l-1-2-1 0-5 2 2 5 0 1 6-6zM119 478l-2-3-6 6 2 2 0 1 6-5zM121 482l-2-3-6 5 2 2 6-2zM121 484l-6 2 2 4 1 1 5-4zM132 512l5-3-2-4-1-1-5 4zM118 465l-1-5-2 0-5 3 0 2 2 2zM118 465l-6 2 0 2 2 4 1 0 5-6zM127 479l-1-3-1 0-6 2 0 1 2 3zM135 505l2 4 6-4 0-1-3-3zM145 509l-2-4-6 4 2 3 1 1zM152 518l6-1 0-2-2-3-1-1-4 5zM159 518l-1-1-6 1 0 1 3 4zM163 523l0-1-1-2-3-2-4 5 1 3zM158 529l2 1 5-4-2-3-7 3 0 1zM158 502l-6 3 2 4 5-4 0-1zM154 509l1 2 1 1 5-4-2-3zM156 512l2 3 6-3-2-4-1 0zM164 512l-6 3 0 2 1 1 3 2 4-5zM162 520l1 2 7-2-4-5zM165 526l6-2 0-2-1-2-7 2 0 1zM167 530l1 1 5-4-2-3-6 2zM176 530l-3-3-5 4 2 3zM165 502l-1-4-1-1-5 4 0 1 1 2zM159 505l2 3 1 0 5-3-2-3-6 2zM164 512l6-5-2-2-1 0-5 3zM164 512l2 3 6-3-2-5zM167 491l-1 0-5 2 2 4 1 1 5-4 0-1zM164 498l1 4 6-5-2-3zM167 505l1 0 5-5-2-3-6 5zM154 442l5-5-1-1-4 1 1 1-4 0 0 1 2 3zM202 505l4-5 0-1-1-1-6 2 0 1 1 3zM214 342l-4 4 2 4 5-4-1-3zM277 295l-1-1-5 4 3 4 4-2 0-3zM274 302l1 3 2 4 6-5-5-4zM292 305l-5-2-1 0-1 1 0 5 3 3 6-3 0-1zM300 306l0-1-2-3-1-1-5 4 2 3zM328 298l2 4 6-4 0-13-6 4z"/><path id="pGL" d="M109 623l2 3 6 4 0-7-2-3zM117 623l0 7 4 6 1 1 2-3 2-8 0-2-3-5-1 0zM162 616l1-2-3-3-5 4 1 3zM161 627l1 2 2 2 5-6-2-2zM158 607l2 3 6-2-3-4zM170 614l-2-2-5 2-1 2 2 3 6-4zM170 615l-6 4 3 4 5-5zM167 623l2 2 1 0 5-3-1-4-2 0zM136 560l6-4-2-3-1-1-5 5zM175 608l-1-1-6 4 0 1 2 2 7-2 0-1zM168 597l5-4-2-2-6 2 2 4zM173 593l-5 4 2 4 5-5-1-3zM176 596l-1 0-5 5 1 2 2 1 5-4 0-1zM183 609l0-2-2-3-6 4 2 3zM177 612l1 3 1 1 5-6-1-1-6 2zM181 617l6-2 0-1-2-3-1-1-5 6zM183 622l5-3-1-4-6 2 0 3zM192 622l-2-2-2-1-5 3 2 4 1 1zM180 590l-2-1-4 4 1 3 1 0 6-3 0-1zM185 599l-4 5 2 3 5-3-2-5zM184 610l1 1 5-4-2-3-5 3 0 2zM187 614l6-2 0-1-2-4-1 0-5 4zM191 607l5-4-2-3-6 4 2 3zM191 607l2 4 5-4-1-4-1 0zM204 603l-4 5 1 3 1 0 5-4 0-1-1-1zM151 516l4-5-1-2-7 2 0 1 2 4zM127 465l4-5-1-3-6 4zM194 559l-6 5 2 2 6-2 0-1zM198 578l6-3-3-5-5 5 0 1 1 2zM128 454l5-5-1 1-6 1 1 3zM133 449l1 0 5-3 0-1-1-2 0 1zM139 446l-5 3 2 3 5-1 0-2zM176 504l-1-3-2-1-5 5 2 2zM183 516l-2-4-5 4 1 2zM139 445l6-2 0-1-2-3-3 2-2 2zM147 446l-2-3-6 2 0 1 2 3zM141 451l2 2 1 0 5-4-1-3-1 0-6 3zM171 497l2 3 2 1 4-4-1-3-1-1zM182 500l-3-3-4 4 1 3 1 0 5-2zM148 446l5-4-2-3-6 3 0 1 2 3zM178 494l1 3 7-3 0-1-3-4zM188 497l-2-3-7 3 3 3zM240 369l0-1-3-3-4 4 0 2zM244 376l1-2-2-2-2-1-4 4 1 3zM241 357l-5 5 1 2 7-2 0-1-2-4zM248 367l-1 0-4 5 2 2 6-2-1 0zM253 375l-6 4 1 3 2 0 5-4zM263 379l-6 3 0 1 3 4 5-5zM277 401l-3-4-5 4 2 3zM274 396l6-2-1-4-2-1-5 4zM279 404l7-3-4-6-4 7zM296 406l-1-3-1-2-6 4 2 2zM302 324l-1-4-1-1-5 4 2 4zM299 315l0 2 1 2 1 1 5-3 0-1-2-2zM324 289l6 0 6-4-6-6-11 3 0 2 2 3zM345 298l-6 3 2 4 6-3 0-1zM419 297l5-5-1-2-7 3zM427 296l-2-3-1-1-5 5 2 3 6-3z"/><path id="pCB" d="M157 685l-2-3-9 4 5 3zM157 695l2-1 0-6-2-3-6 4 2 3zM165 685l-3-4-5 4 2 3zM270 735l7 2 8-4 0-2-1-3-1 0zM158 449l1 1 4-5-1-3-6 3 0 2zM163 445l2 1 6-3-3-4-6 3zM172 445l-1-2-6 3 1 4 1 1zM178 468l5-4-2-4-6 4zM172 352l4 6 16-12-2-3zM190 341l7-2 0-1-3-5-5 7zM195 359l-3 5 16-6-2-5zM197 338l6-3-5-9-3-2-2 7 1 2z"/><path id="pRM" d="M224 808l4-3 0-1 0-5-3-3 0 4 1 6-3 1zM73 538l-5 5 2 3 6-3 0-2zM82 552l-1-3-2 0-4 5 1 2 6-2zM82 552l7-1 0-2-3-4-5 4zM84 557l1 0 5-4-1-2-7 1 0 2zM86 545l3 4 5-3-1-4-1 0zM238 775l0 2 2 3 6-3 0-2-1-1zM249 780l-1-1-5 5 3 5 1 0 4-3 0-2zM246 777l2 2 1 1 5-4 0-1-1-1-7 1zM254 776l-5 4 2 4 7-4zM130 563l-3-3-5 4 2 3 6-3zM105 508l-1 0-5 5 1 3 6-4zM109 516l-7 3 1 1 1 3 7-3zM112 469l0-2-2-2-6 2 0 2 1 3 1 0zM109 475l5-2-2-4-6 3 2 3zM352 284l-1-1-7 1 1 4 8 10 5-4zM368 283l-1-4-2 0-7 5 5 3z"/><path id="pGD" d="M121 615l-2-5-1 0-5 5 2 2 6-1zM115 617l0 3 2 3 5-4-1-3zM145 668l2 3 6-4-2-4-6 4zM147 671l0 2 2 1 6-4-2-3zM178 707l-2-6-6 6 3 3zM172 711l1 0 2 1 5-2-2-3-5 3zM122 619l1 0 6-3-2-4-6 3 0 1zM123 619l3 5 5-7-1-1-1 0zM126 626l8-4-2-4-1-1-5 7zM136 626l-2-4-8 4-2 8 12-7zM136 627l-12 7-2 3 0 1 5-1 12-7zM141 633l-2-3-12 7 4 1 10-4zM131 638l6 3 5-5-1-2zM145 641l-1-3-2-2-5 5 1 2 5-1zM149 659l4-4-1-2-5 1-1 2zM151 663l6-4-2-4-2 0-4 4 0 2zM153 667l6-4 0-1-2-3-6 4zM153 667l2 3 6-3-2-4zM161 667l-6 3 1 3 3 1 4-4-1-2zM164 670l-1 0-4 4 1 3 1 1 5-5zM178 707l6-4-3-4-1-1-4 3zM180 710l6-4-2-3-6 4zM139 630l5-4-2-3-6 3 0 1zM141 633l0 1 1 2 2 2 5-4 0-2-2-1zM149 634l-5 4 1 3 1 1 5-4 0-1zM151 638l-5 4 1 2 7-3zM154 641l-7 3 1 1 1 2 1 1 6-2 0-2zM150 648l2 4 6-4-2-2zM158 648l-6 4 0 1 1 2 2 0 5-4-1-2zM162 655l-2-4-5 4 2 4zM163 655l-1 0-5 4 2 3 6-2zM178 692l1 3 7-3-2-3-1-1zM186 692l-7 3 1 3 1 1 7-3 0-1zM181 699l3 4 5-4-1-3zM155 629l-1-2-2-2-5 5 0 1 2 1 6-2zM149 632l0 2 2 3 5-3-1-4zM151 637l0 1 3 3 5-4-2-3-1 0zM160 637l-1 0-5 4 2 3 5-3 0-2zM161 641l-5 3 0 2 2 2 1 1 4-5zM163 644l-4 5 1 2 6-2 0-1 0-3zM160 651l2 4 1 0 6-2-3-4zM170 654l-1-1-6 2 2 5zM178 667l-2-4-5 3 1 3zM192 688l-2-4-1 0-5 5 2 3zM115 553l-2-4-6 5 2 2zM112 561l4-5-1-3-6 3zM120 560l-2-4-2 0-4 5 2 2zM122 564l-2-4-6 3 2 4zM161 627l-2-5-1-1-4 6 1 2zM156 634l1 0 5-5-1-2-6 2 0 1zM164 631l-2-2-5 5 2 3 1 0 5-5zM166 648l7-2 0-2-4-3-3 4zM166 649l3 4 5-6-1-1-7 2zM177 652l-2-4-1-1-5 6 1 1 1 1zM187 681l2 3 1 0 6-4-2-2-1-1zM196 681l0-1-6 4 2 4 5-3 1-1zM195 692l4-3-2-4-5 3zM113 549l2 4 6-4-3-2zM179 655l0 1 2 3 6-3 0-2-1-2-1 0zM189 659l-2-3-6 3 3 3 0 1zM186 666l6-3 0-1-2-2-1-1-5 4zM197 670l-3-3-6 3 2 3 0 1zM197 670l-7 4 3 3 1 1 4-6zM201 676l-1-3-2-1-4 6 2 2 0 1 5-4zM116 541l2 4 6-3 0-1-1-2zM121 549l0 1 5-5-2-3-6 3 0 2zM126 557l5-5-1-2-6 3zM179 640l2 4 5-4-1-3-1 0zM195 655l-1-2-7 1 0 2 2 3 1 1zM211 681l-6 3 3 5 1 0 4-5-1-3zM124 527l0-1-1-2-2-1-5 4 1 2zM117 530l3 4 6-3-2-4-7 2zM123 539l4-6 0-1-1-1-6 3zM128 533l-1 0-4 6 1 2 7-3zM124 541l0 1 2 3 7-3 0-2-2-2zM133 542l-7 3 4 5 4-6zM138 549l-3-4-1-1-4 6 1 2zM134 556l0 1 5-5-1-3-7 3zM130 522l-1-2-2-1-4 5 1 2 6-2zM130 524l-6 2 0 1 2 4 1 1 5-6zM127 532l0 1 1 0 6-2 0-1-2-4zM134 531l-6 2 3 5 2 2 4-3 0-3zM143 546l0-1-2-3-6 3 3 4zM134 515l-2 0-3 5 1 2 6-3zM138 523l0-1-2-3-6 3 0 2 2 2zM132 526l2 4 6-4-2-3zM134 531l3 3 5-4-1-3-1-1-6 4zM146 534l-1 0-5 4 1 3 6-2 0-2zM141 541l0 1 2 3 6-4-2-2zM143 546l3 3 6-3-3-5-6 4zM146 550l1 2 2 1 5-5-2-2-6 3zM132 515l2 0 5-3-2-3-5 3 0 1zM138 522l6-3-2-3-1-1-5 4zM140 526l1 1 6-4-2-4-1 0-6 3 0 1zM142 530l1 1 6-3 0-3-2-2-6 4zM151 530l-2-2-6 3 2 3 1 0 5-3zM154 534l-3-3-5 3 1 3 7-2zM147 537l0 2 2 2 6-3 0-2-1-1zM149 541l3 5 5-5-2-3zM165 552l-7 4 3 4 6-4 0-1zM110 463l5-3-1-3-1-1-5 4zM141 515l1 1 5-4 0-1-1-2-1 0-5 4zM147 512l-5 4 2 3 1 0 4-3zM155 523l-3-4-5 4 2 2zM156 526l-1-3-6 2 0 3 2 2 5-3zM158 529l-2-2-5 3 0 1 3 3zM155 536l7-2-2-4-2-1-4 5 0 1zM155 538l2 3 1 1 5-5-1-3-7 2zM158 542l2 3 6-4-3-4zM165 552l2 3 6-3-3-3zM114 457l5-4 0-1-7 4 1 0zM119 453l-5 4 1 3 2 0 5-3zM122 457l-5 3 1 5 6-4zM169 546l1 2 7-2-3-4 0-1zM173 552l1 1 4-5 0-2-1 0-7 2 0 1zM127 454l-1-3-2 0-5 1 0 1 3 4zM130 457l-2-3-1 0-5 3 2 4zM174 542l3 4 1 0 4-5-2-3zM185 545l-2-4-1 0-4 5 0 2 1 0 7-2zM136 452l-2-3-1 0-5 5 2 3 5-3zM133 461l5-3-3-4-5 3 1 3zM177 520l0-2-1-2-2-1-4 5 1 2zM171 524l2 3 5-5-1-2-6 2zM139 458l1 1 7-1 0-2-3-3-1 0zM178 509l-6 3 2 3 2 1 5-4 0-1-2-2zM177 518l0 2 1 2 2 1 4-5-1-2zM198 485l6-3-3-4-1-1-3 7zM204 482l5-4-1-2-7 2zM251 306l1 2 7-2 0-1-2-3-1-1zM252 308l0 1 2 3 1 1 5-4-1-3zM251 294l7-2-3-5-5 3 0 1zM254 299l6-5-1-2-1 0-7 2 3 4zM257 302l5-4-2-4-6 5 2 2zM259 305l5-3-1-4-1 0-5 4zM432 305l1 1 0-1zM438 301l-1-1-3 3 6 0z"/><path id="pCM" d="M170 681l-1-2-7 0 0 2 3 4zM139 604l-3-4-5 4 2 3zM136 611l2 3 6-3-3-4zM177 652l-6 3 2 4 6-3 0-1zM118 556l5-4-2-2 0-1-6 4 1 3zM120 560l6-3-2-4-1-1-5 4zM120 560l2 4 5-4 0-1-1-2zM183 648l-6 4 2 3 6-3zM170 601l-6 2-1 1 3 4 5-5zM175 556l-5 3 1 4 7-2-1-1zM178 548l-4 5 1 3 6-2 1-1-3-5zM175 556l2 4 6-4-2-2zM177 560l1 1 1 2 1 0 5-3-2-4zM297 750l3-2-4 1zM186 546l-7 2 3 5 5-4 0-1zM182 553l-1 1 2 2 6-3 0-2-2-2zM182 526l-6 4 2 4 6-4zM186 534l-6 3 0 1 2 3 1 0 6-3-2-4zM189 538l-6 3 2 4 6-4zM193 545l-2-4-6 4 1 1 1 2zM187 549l2 2 6-3-2-3-6 3zM191 556l6-5-1-2-1-1-6 3 0 2zM205 564l-7 2 0 1 3 3 5-4zM194 532l-1-1-6 3 2 4 5-3zM194 535l-5 3 2 3 5-3zM191 541l2 4 5-4-2-3zM207 567l2 3 7-3 0-1-3-3-1 0zM268 665l1 1 6-3 0-2-2-2-1-1-5 4zM188 523l5-4-1-3-6 3 1 3zM201 530l-3-4-5 3 0 2 1 1 7-1zM194 532l0 3 2 3 6-4 0-1-1-2zM202 534l-6 4 2 3 1 1 5-4 0-1zM282 661l-1-2-6 2 0 2 2 3 5-4zM178 482l-5 5 2 2 6-3zM178 468l-3-4 0-1-5 5 1 2zM181 472l-1-1-6 4 2 3 6-3 0-1zM182 475l-6 3 0 2 2 2 6-3zM181 487l2 2 6-3-1-3-2-1zM186 493l5-3 0-2-2-2-6 3zM196 498l-2-4-6 4 2 2 1 1zM199 501l0-1-2-2-1 0-5 3 1 3 1 0zM199 490l-1-4-7 2 0 2 3 4zM197 498l5-5-2-3-1 0-5 4 2 4zM200 477l0-1-7 2 2 4 2 2zM243 493l-2-3-6 2 0 2 2 3 6-3zM245 508l5-4-2-3-6 3 1 3zM198 342l-1-3-7 2 0 2 2 3 1 1zM200 343l-2-1-5 5 2 3 6-3 0-2zM203 350l-8 8 0 1 11-6 1 0-2-3zM208 358l-16 6-3 5 8 5 1 0 1-1 11-13zM205 338l-2-3-6 3 0 1 1 3 2 1zM208 358l2 2 1 1 5-5-2-2zM213 364l6-3-2-3-1-2-5 5zM213 365l2 3 6-3-2-4-6 3zM214 376l4 3 7-8-2-3-8 6zM221 365l1 1 5-5-2-3-6 3zM227 361l-5 5 1 1 6-2 1-1zM233 371l-5 4 0 1 2 2 6-3zM237 375l-1 0-6 3 0 1 2 3 6-3 0-1zM244 386l-2-1-4 5 1 2 6-2 0-1zM235 361l-2-4-6 4 3 3zM241 371l-1-2-7 2 3 4 1 0zM242 385l2 1 4-4-1-3-1 0-5 4zM252 386l-2-4-2 0-4 4 1 3 6-2zM262 390l-2-3-7 3 3 4zM256 394l2 4 5-5-1-3zM271 404l2 5 1 0 5-5-1-2-1-1zM275 411l1 0 6-3-3-4-5 5zM278 402l4-7-1 0-1-1-6 2 0 1 3 4zM409 308l6-3 0-2-1-3-2-1-4 6z"/><path id="pXG" d="M215 752l-6-4-6-1-3 3 1 9 8 0 7-5 0-1zM209 759l4 2 6-3-3-4zM219 758l-6 3 3 4 5-3-1-4zM224 780l6-4-2-3-1 0-3 1-1 6zM216 740l-4-3-7-1-2 11 6 1 8-4 0-1zM217 744l-8 4 6 4 4-6zM221 747l-2-1-4 6 1 1 7-1 0-1zM216 753l0 1 3 4 1 0 4-4-1-2zM223 764l6-1 1-2-2-3-7 4zM228 773l5-5-1-2-1 0-5 4 1 3zM224 730l-3 0-9 7 4 3 10-5 0-4zM226 735l-10 5 1 3 10-5zM228 740l-1-2-10 5 0 1 2 2 2 1 7-6zM221 747l2 4 6-3-1-7zM242 726l1 7 6-5 1-1-2-5-1 0zM243 733l-1 1 9 4 4-2-6-8zM253 747l2 2 8-6 4-7 0-1-1-1-11 2-4 2 0 1 0 5zM244 712l-1 0-1 3 5 7 1 0 5-3-4-5-4-2zM265 720l-12-1-5 3 2 5 16-3 0-2 0-2zM255 736l11-2 0-10-16 3-1 1zM274 754l-6 4 0 1 1 1 2 2 3-3 2-2zM239 261l6-4 0-4-9 5zM268 268l-5 4 2 3 5-3zM359 228l6-4-1-15-7 2-4 5zM361 153l8 4-1-6-7 0 0 1zM377 154l4-3-1 0-3 0zM401 156l1-12-9-1-1 5 4 5z"/><path id="pXC" d="M233 779l-3-3-6 4 3 4zM224 754l-4 4 1 4 7-4 0-1-2-2zM226 770l5-4-2-3-6 1 0 3 1 2zM212 726l-2 0-5 9 0 1 7 1 9-7zM223 751l0 1 1 2 2 1 5-5-2-2zM226 755l2 2 5-3 0-1-1-2-1-1zM228 757l0 1 2 3 5-2 0-1-2-4zM235 759l-5 2-1 2 2 3 1 0 5-5zM237 761l-5 5 1 2 7-2-2-4zM229 748l2 2 1 1 4-5 0-1-1-1-7-3zM233 753l5-2 1-1-3-4-4 5zM233 754l2 4 5-4-2-3-5 2zM243 758l-2-3-1-1-5 4 0 1 2 2 1 1zM240 766l6-3 0-1-3-4-5 4zM227 730l-1 1 0 4 1 3 1 2 12-3 1-2-9-4zM228 741l7 3 5-7-12 3zM240 737l-5 7 1 1 6-1zM244 747l-5 3-1 1 2 3 1 1 5-4 0-1-1-2zM241 735l1-1 1-1-1-7-3-1-7 6zM242 744l9-5 0-1-9-4-1 1-1 2zM251 739l-9 5 2 3 1 1 6-4zM245 748l1 2 7-3-2-3zM246 750l0 1 4 3 5-5-2-2zM258 755l0-1-3-5-5 5 0 1 1 2zM221 695l0 1 2 3 5-4-2-4zM264 751l-1-8-8 6 3 5zM260 758l6-4-2-3-6 3 0 1zM266 754l-6 4 1 3 7-2 0-1zM261 761l3 4 1 0 4-5-1-1zM273 766l-2-4-2-2-4 5 1 2zM271 751l0-8-4-7-4 7 1 8 2 3zM274 754l-3-3-5 3 2 4zM359 267l6-2 1-1-3-3-6 3z"/><path id="pRB" d="M242 797l4 3 4-3 0-2-3-6-1 0-5 3zM252 798l-2-1-4 3 1 0 8 1zM254 788l-3-2-4 3 3 6 6-4zM250 795l0 2 2 1 7-4-3-3zM209 703l1-2 1-5 0-4-2-3-1 0-6 3 0 6 3 3zM289 765l0-1-1-2-4 0 1 5zM294 773l-3 1 4 0z"/><path id="pyL" d="M92 542l1 0 4-4-2-3-5 2 0 2zM94 546l6-3 0-2-2-2-1-1-4 4zM107 554l6-5-3-3-5 3zM107 513l5-5-2-2-5 2 1 4zM115 512l5-4-2-3-6 3zM117 516l7-3-3-4-1-1-5 4 0 1zM272 645l-6 2 0 1 2 3 6-3 0-1zM268 651l0 1 2 2 0 1 5-3 0-1-1-3z"/><path id="pCC" d="M188 696l1 3 1 0 6-4-1-2-7 2zM192 702l4-6 1 4 3-2-4-3-6 4zM196 695l4 3 2 0 0-6-1-3-2 0-4 3 0 1zM271 669l-6 4 0 1 3 3 5-4 0-1-1-2zM209 570l2 4 6-3 0-2-1-2zM219 574l-2-3-6 3 3 3zM250 636l1 0 4-4-1-2-6 2 0 1zM258 637l-1-5-2 0-4 4 2 3zM254 644l1 0 5-4-2-3-5 2-1 2zM269 666l2 3 1 1 5-4-2-3zM277 666l-5 4 1 2 6-1 0-2zM257 622l-2-4-7 2 1 2 3 3zM252 626l2 3 5-3-2-4-5 3zM254 629l0 1 1 2 2 0 4-3-1-2-1-1zM259 626l1 1 5-5-2-3-6 3zM201 519l6-3 1-1-2-3 0-1-7 4 1 0zM204 522l1 1 4-4-2-3-6 3zM266 622l6-3-2-3-7 2 0 1 2 3zM274 622l-2-3-6 3 2 3zM276 626l0-2-1-1-1-1-6 3 0 1 3 3zM214 513l-6 2-1 1 2 3 1 0 6-3zM212 508l2 3 5-2 0-2-1-3zM217 518l2 2 6-5-3-3-5 4zM216 501l2 3 6-3 0-2-3-2-1-1zM218 504l1 3 7-3 0-1-2-2zM227 507l-1-3-7 3 0 2 3 2zM227 519l6-4-2-4-1 0-5 4zM236 519l-1-1-2-3-6 4 2 2zM221 497l4-5 0-1-7 1 0 2 2 2zM224 499l5-3-2-3-2-1-4 5zM233 515l6-3 0-1-3-3-5 3zM236 507l0 1 3 3 4-4-1-3zM261 375l-3-4-5 4 2 3 6-2zM294 416l-2-4-1 0-5 4 2 3zM297 408l-1-2-6 1 0 2 1 3 1 0 5-3z"/><path id="pXy" d="M220 721l-2-3-8-4-2 3 0 1 2 8 2 0zM220 721l-8 5 9 4 3 0zM260 268l6-2 0-3-2-2-6 3 1 3zM264 260l0 1 2 2 6-2 1-1-2-3zM271 256l5-3-2-3-1-1-5 5zM265 234l1 0 4-2 1-2-4-4-1 2-3 2-5 0zM271 247l2 2 1 1 5-4-2-3zM274 250l2 3 6-4-1-2-2-1zM272 217l0 1-1 1zM271 230l10-4 1-2 3-6-1-2-10 0-2 1-1 2-4 7zM275 240l6-5 0-9-10 4-1 2 4 7zM277 243l6-4-2-4-6 5zM284 216l1-2-7-10-5 5 4 5-3 2zM288 241l4-2-10-15-1 2 0 9 2 4 3 2zM303 233l-1-2-17-13-3 6 10 15 4 0 6-4zM285 214l3-1 2-5 2-5 0-2-8-3-6 6zM293 202l-1-1 0 2zM292 203l-2 5 5-2-2-4zM298 210l-3-4-5 2-2 5 4 0zM298 214l2-1-2-3-6 3zM347 246l1 3 7-2-1-1-2-4zM350 254l7-4-2-3-7 2 0 2zM361 230l-5 6 1 2 6-3 0-1-2-3zM365 239l-2-4-6 3 0 1 2 2zM365 224l-6 4 2 2 0 1 6-4z"/><path id="pYG" d="M144 586l-6 4 2 3 6-3zM169 572l-7 1 0 2 3 3 4-4zM169 586l2 2 6-2 0-1-2-4zM174 567l-3-4-5 4 3 4zM171 574l1 3 6-2 0-1-2-3zM180 578l-5 3 2 4 5-2 0-2zM184 585l-2-2-5 2 0 1 1 3 2 1zM178 561l-7 2 3 4 5-4zM174 567l2 3 6-3-2-4-1 0zM176 570l0 1 2 3 6-3-1-4-1 0zM188 578l-1-3-1-1-6 4 2 3zM190 582l-2-4-6 3 0 2 2 2 1 1zM188 589l5-4-1-2-2-1-5 4zM180 563l2 4 1 0 5-3-2-4-1 0zM190 566l-2-2-5 3 1 4 1 0 5-3zM187 575l6-4-3-3-5 3 1 3zM215 607l-5 4 2 3 0 1 6-3 0-2zM245 655l-3-4-5 4 2 3zM253 680l6-3-1-3-2-1-5 4zM253 680l2 4 1 0 5-5-1-2-1 0zM143 490l5-4-2-3-6 3 2 4zM206 579l0-1-2-3-6 3 1 3zM212 588l-1-1-4 7 1 1 7-2zM215 607l6-4-2-3-6 2 0 2zM223 607l-2-4-6 4 3 3zM250 663l6-5-2-2-1-1-5 4zM250 663l2 2 6-3-2-3 0-1zM258 662l-6 3 0 1 3 3 5-3 0-1zM255 669l0 2 1 2 2 1 4-5-2-3zM270 680l-2-3-6 4 1 2 7-2zM215 593l5-5-2-2-6 2zM216 595l1 1 6-3-3-5-5 5zM252 641l1-2-2-3-1 0-6 4 2 3 1 0zM246 629l6-3 0-1-3-3-4 5zM217 346l2 0 5-4-3-4-5 5zM219 346l1 3 6-2 0-1-2-4zM219 335l2 2 7-1 0-1-2-4-1 0zM231 340l-2-1-5 3 2 4 6-3 0-2zM226 347l1 3 2 0 4-4-1-3-6 3zM247 353l-2-3-6 3 0 1 2 3 1 0zM248 354l-1-1-5 4 2 4 6-5zM250 356l-6 5 0 1 2 2 6-4zM253 349l-2-2-6 3 2 3 1 1zM256 353l0-1-2-2-1-1-5 5 2 2zM252 360l6-4-2-3-6 3zM258 370l0 1 3 4 5-5-1-1zM285 388l-4 7 1 0 6-1 0-1-2-4zM281 383l2 4 1 0 6-5-2-3-7 3zM284 387l1 1 1 1 7-2-3-5zM288 393l6-3-1-3-7 2zM290 397l1 0 5-5-2-2-6 3 0 1zM296 379l-6 3 3 5 5-5 0-1zM297 353l2 2 6-1 0-1-2-4-1-1zM303 364l1 0 5-4-2-4-6 4zM305 354l2 2 6-3-2-4-6 4zM315 357l-1-4-1 0-6 3 2 4zM315 357l-6 3 2 4 2 1 3-6zM301 293l-2-4-6 5 2 3 6-3zM342 227l8-3 3-8-1 0-12 8zM342 227l2 4 2 1 4-6 0-2z"/><path id="pGC" d="M198 684l-1 1 2 4 2 0 4-5-1-1zM201 689l1 3 6-3-3-5zM194 651l-2-4-6 5 1 2 7-1zM221 696l0-1-2-3-8 4-1 5zM209 703l1 1 2 0 11-4 0-1-2-3-11 5zM185 626l-2-4-5 4 1 3zM187 629l-1-2-1-1-6 3 2 4 1 0zM185 637l5-4 0-1-2-2-1-1-5 4 2 4zM207 672l0 3 2 2 6-4-2-2 0-1zM218 677l-2-3-1-1-6 4 2 4 1 0zM197 630l0-1-2-3-1-1-6 5 2 2zM215 673l1 1 5-4-3-4-5 5zM224 673l-2-3-1 0-5 4 2 3 6-3zM226 676l-2-2-6 3 2 4 6-3zM186 599l2 5 6-4-1-1 0-1zM198 617l0 1 2 4 6-4-3-4zM202 601l0-1-5 3 1 4 2 1 4-5zM202 611l1 3 7-3-3-4zM203 614l3 4 6-4-2-3zM212 614l-6 4 2 3 6-2 0-2-2-2zM197 578l-1-2-8 2 2 4 2 1zM193 585l6-2 0-2-1-3-1 0-5 5zM207 606l0 1 3 4 5-4-2-3zM198 567l-5 4 3 4 5-5zM167 491l2 2 6-2 0-2-2-2-1-1zM184 504l-2-2-5 2 1 5 1 0zM185 505l-1-1-5 5 2 2 6-2 0-2zM181 511l0 1 2 4 6-4-2-3zM190 500l-2-2 0-1-6 3 0 2 2 2 1 1zM192 504l-1-3-1-1-5 5 2 2zM206 353l2 5 6-4 0-1-2-2-5 2zM220 351l0-2-1-3-2 0-5 4 0 1 2 2zM216 356l1 2 5-5-2-2-6 2 0 1zM225 358l0-2-1-2-2-1-5 5 2 3zM226 347l-6 2 0 2 2 2 2 1 3-4zM229 350l-2 0-3 4 1 2 6-2 1-1zM225 356l0 2 2 3 6-4-2-3zM254 365l0-2-2-3-6 4 0 1 1 2 1 0zM255 367l-1-2-6 2 2 5zM255 378l2 4 6-3 0-1-2-2zM266 382l-1 0-5 5 2 3 6-3 0-1zM262 390l1 3 1 0 6-2 0-2-2-2zM263 378l6-3-3-4 0-1-5 5 0 1zM263 379l2 3 1 0 5-3-2-4-6 3zM274 382l-2-3-1 0-5 3 2 4zM268 387l2 2 6-3 0-1-2-3-6 4zM270 389l0 2 2 2 5-4-1-3zM269 375l6-4-2-3-7 3zM286 323l2 4 1 1 5-6-2-1zM309 320l-3-3-5 3 1 4 1 0zM346 312l-2-3-2 0-4 4 2 3zM346 312l-6 4 2 3 6-3 0-1zM355 316l-1-3-6 2 0 1 3 4 0 1zM364 275l-1-3-2-1-8 7-1 2z"/><path id="pXO" d="M212 704l-2 0 0 10 12-2 0-2-3-3zM210 714l8 4 5-4-1-2zM224 714l-1 0-5 4 2 3 6-3zM219 707l3 3 5-3-2-4zM222 710l0 2 1 2 1 0 5-4 0-1 0-1-2-1zM229 710l-5 4 2 4 1 0 5-4zM228 695l-5 4 0 1 2 2 7-2 0-1-2-3zM227 707l2 1 3-6 0-2-7 2 0 1zM232 702l-3 6 0 1 7-2 0-2-1-2zM229 709l0 1 3 4 1 0 5-4-2-3zM235 703l1 2 6-2 0-1-2-3-1-1zM240 699l2 3 6-3-2-4zM264 712l-4-6-1-1-1 0-9 9 4 5 12 1zM280 750l-2-3-7-4 0 8 3 3zM280 750l-6 4 2 3 2-5 3 0zM281 740l-4-3-7-2-3 0 0 1 4 7 7 4 5-5zM270 694l-7 6-1 3 11-3 0-2zM274 705l0-2-1-3-11 3-2 3 4 6zM218 254l1 1 1-2-3 1zM222 260l6-2 0-1-2-4-6 5zM235 246l2-2-4-6-7 1-1 9 1 4zM235 253l0-7-9 6 1 1-1 0 2 4zM230 261l6-3-1-5-7 4 0 1zM239 261l-3-3-6 3 0 1 2 2 1 1zM247 247l-10-3-2 2 0 7 1 5 9-5zM237 244l10 3 1-5 0-6-8 1-7 1zM260 254l-5-8-8 1 6 11 1 0zM261 257l-1-3-6 4 3 4zM264 261l0-1-1-2-2-1-4 5 1 2zM258 240l-2-6-2 2-6 6-1 5 8-1 3-2zM361 298l-6 3 2 3 1 1 5-4zM363 301l-5 4 2 3 6-4zM360 308l0 1 2 2 6-3-2-4zM370 310l-2-2-6 3 0 1 3 4zM364 290l-1-3-5-3-6 0 6 10 1 0zM368 293l-3-3-1 0-5 4 2 3 7-3zM400 119l-8 10 10 1 4-10z"/><path id="pXY" d="M230 723l-3-5-1 0-6 3 4 9 2 1 1-1zM227 718l3 5 6-3-3-6-1 0zM239 725l-2-5-1 0-6 3-3 7 5 1zM251 759l2 2 7-3-2-3-7 2zM239 725l3 1 5-4-5-7-5 5zM242 703l2 3 7-3-3-4-6 3zM244 712l1 0 9-7-3-2-7 3zM251 703l3 2 4 0 1 0-5-10-6 4zM396 232l2 5 7-2 0-1-2-4-3-1zM406 238l-1-3-7 2 3 5zM416 227l-2-4-1 0-5 3 0 1 2 4z"/><path id="pRY" d="M82 487l2 3 1 0 6-3-3-4zM89 497l0 1 2 3 6-4-2-2-1-1zM260 758l-7 3 0 1 3 3 5-4zM92 477l-7 1 0 1 3 4 5-4zM99 487l-6 3 1 4 1 1 6-5-1-3zM213 644l-4 3 1 4 1 0 5-3zM209 637l0 1 1 2 1 0 7-3-3-4-1-1zM217 648l4-4-1-3-7 3 3 4zM215 621l-5 5 3 3 5-3-1-4zM215 633l6-4-2-3-1 0-5 3 0 1 1 2zM222 629l-1 0-6 4 3 4 5-4 0-1zM218 637l2 3 6-3-3-4zM226 638l0-1-6 3 0 1 1 3 1 0 6-3zM230 643l-1-2-1 0-6 3 2 3 6-3zM230 644l-6 3 0 2 2 2 6-4zM231 633l-5 5 2 3 1 0 4-4zM233 637l-4 4 1 2 6-2 0-2-1-2zM229 324l-6 3 2 4 1 0 5-3zM229 324l2 4 1 0 5-5-2-2zM240 328l-1 0-5 3 0 2 1 1 1 0 5-3zM237 308l-3-2-5 4 1 2 7-2zM239 313l-1-1-1-2-7 2 0 2 1 2 1 0zM243 320l-6 3 2 5 1 0 5-4 0-1-1-2zM242 331l6-3 0-1-3-3-5 4 1 3zM274 265l6-3 0-1-2-3-5 2-1 1zM277 269l5-4-2-3-6 3 2 3zM285 267l-1-1-2-1-5 4 2 3 0 1 6-5zM301 309l1 0 6-3-2-3-6 2 0 1zM308 306l-6 3 2 4 6-5zM310 308l-6 5 0 1 2 2 6-5zM278 257l0 1 2 3 6-3 0-1-2-3zM286 258l-6 3 0 1 2 3 2 1 4-6zM288 260l-4 6 1 1 6-2 1-1-2-3zM291 265l-6 2 0 1 3 5 5-5zM290 249l6-3 0-7-4 0-4 2 0 5zM297 248l-1-2-6 3 0 1 2 4 1 0zM367 333l-2-3-5 5 1 2zM368 334l-1-1-6 4 3 4 5-4zM298 214l-6-1-4 0-3 1-1 2 1 2 17 13 2-2 1-4 0-4-2-4zM303 217l-3-4-2 1zM305 221l1-1-3-2 0-1zM305 221l0 4 4-3-3-2zM305 225l-1 4 9-4-1-1-3-2zM316 226l-3-1-9 4-2 2 1 2 6 0 8-6zM337 257l5-3 0-2-1-2-2-1-5 5 2 2zM343 242l-2-4 0-1-6 6 2 2zM337 246l2 3 2 1 5-4-2-3-1-1-6 3zM342 252l6-1 0-2-1-3-1 0-5 4zM401 219l7 7 5-3-3-7-10 0zM410 231l3 3 1 0 5-5-3-2zM417 222l1-6-6-2-2 2 3 7 1 0zM422 226l-5-2 0-2-3 1 2 4 3 2z"/><path id="pOY" d="M87 494l2 3 5-3-1-4zM211 651l2 3 5-1 0-3-1-2-1 0zM216 660l4-5-2-2-5 1 0 2 1 3zM220 655l-4 5 1 2 6-3-2-4zM224 647l-2-3-1 0-4 4 1 2 6-1zM218 650l0 3 2 2 1 0 5-4-2-2zM221 655l2 4 1 1 5-5-3-4zM232 674l2 2 6-2 0-1-1-4-2 0zM232 647l-6 4 3 4 5-4-2-3zM239 658l-5 4 0 1 1 1 7-1zM242 663l-7 1 0 2 2 3 2 0 4-3zM239 669l1 4 7-2 0-1-3-4-1 0zM240 673l0 1 2 3 5-5 0-1zM236 641l-6 2 0 1 2 3 0 1 6-4zM224 607l-1 0-5 3 0 2 2 2 6-3 0-1zM231 619l6-4-3-4-5 4zM240 633l6-4-1-2-2-1-5 2 0 2 1 3zM170 309l6 9 6-1-5-10zM182 317l-1 11 2 4 12-9-3-8zM193 331l2-7 0-1-12 9 3 3zM182 317l10-2 1-2-6-9-1 0-1 0-8 3zM187 304l0-1-1 1zM208 331l-2-3-4-2-4 0 5 9zM211 335l-3-4-5 4 2 3zM213 340l0-2-2-3-6 3 2 4zM187 304l6 9 3-2-1-11-3 0-5 3zM196 311l6-2 1-1 1-3 0-6-1 1-8 0zM215 303l0-2-2-3-1 0-8 7-1 3zM222 313l0-1-5 4 0 1 1 2 6-2 0-1zM226 320l-5 4 0 1 1 2 1 0 6-3-2-3zM228 335l0 1 1 3 2 1 4-6-1-1zM229 310l-1-1-6 4 2 3 6-2 0-2zM230 314l-6 2 0 1 2 3 1 1 4-5zM231 316l-4 5 2 3 6-3 0-1-3-4zM251 345l-2-3-6 4 2 4 6-3zM252 335l-5 4 2 3 5-3 0-2-1-1zM254 339l-5 3 2 3 6-1 0-2zM258 345l-1-1-6 1 0 2 2 2 1 1zM261 350l-1-4-2-1-4 5 2 2zM257 330l-1-2-6 4 2 3 1 1zM257 342l0 2 1 1 2 1 5-4-2-4-1 0zM261 350l1 0 6-4-3-4-5 4zM261 335l5-4-2-2-6 1 2 5zM262 338l1 0 5-3 1-1-2-3-1 0-5 4zM263 338l2 4 6-4-3-3zM278 360l4-3-2-4-6 4 1 2zM267 331l2 3 6-2 0-1-2-4-1 0zM268 335l3 3 1 1 4-6-1-1-6 2zM277 334l-1-1-4 6 1 2 6-2zM279 339l-6 2 0 1 3 4 5-4 0-1-1-2zM284 347l0-1-3-4-5 4 0 1 1 2zM277 350l3 3 6-3-2-3-7 2zM282 357l6-3 0-2-2-2-6 3zM290 356l-2-2-6 3 3 3 1 1zM290 367l5-3-1-3-7 2 0 2 1 2zM297 368l0-1-2-3-5 3 1 5zM284 346l5-4 0-1-1-2-7 2 0 1zM328 337l-1-3-1-1-5 5 2 3 5-3zM304 299l2 2 5-4-1-3-1 0-6 3zM306 303l2 3 5-5-2-4-5 4zM316 305l-1-4-2 0-5 5 2 2zM312 311l1 1 6-3-2-4-1 0-6 3zM322 327l2 3 0 1 6-4 0-1-2-3-1 0zM333 331l-3-4-6 4 2 2 1 1zM336 338l-2-4-6 3 0 1 3 3zM311 283l-6 3 0 1 2 3 6-3zM311 297l7-3-3-3-5 3zM313 301l2 0 4-4-1-3-7 3zM317 305l5-3 0-2-2-2-1-1-4 4 1 4zM324 304l-2-2-5 3 2 4zM321 311l6-2-3-5-5 5zM333 331l4-4-1-3-6 2 0 1zM334 334l7-3 0-1-3-3-1 0-4 4zM341 345l3 4 5-4-1-4-7 3zM321 287l-2-3-6 3 2 3zM315 291l3 3 6-5-3-2-6 3zM330 289l-6 0-6 5 1 3 1 1zM322 300l6-2 2-9-10 9zM356 341l-2-3-6 3 1 4 1 1zM358 345l0-1-2-3-6 5 2 3zM304 247l-5 3 1 4 1 0 5-4zM359 319l-3-3-1 0-4 5 1 2 1 0 6-3zM332 250l5-4 0-1-2-2 0-1-6 5zM334 254l5-5-2-3-5 4 2 3zM400 279l1 3 1 0 6-2 0-2-3-3zM386 160l-1 2 17 1 0-6-1-1-5-3zM406 174l-2 3 2 4 9 5-1-8-4-5zM410 153l0-4-5-6-3 1-1 12 1 1zM402 157l0 6 1 2 7-5 0-7zM410 173l-2-4 2-9-7 5 3 9zM417 145l-2 2 2 0zM426 140l-7 0-2 5 0 2 8 0z"/><path id="pYC" d="M151 596l6-2 0-1-2-3-1-1-5 4zM181 644l0 1 2 2 6-3 0-1-2-3-1 0zM157 593l6-4-2-3-1 0-5 4zM159 596l6-4-1-3-1 0-6 4 0 1zM196 656l5-5-1-2-6 2 0 2 1 2zM162 575l0-2-1-1-1-1-6 3 3 4zM158 582l2 4 1 0 5-5-1-2zM188 630l6-5-2-3-6 5 1 2zM157 567l3 4 1 1 4-5-2-3zM166 567l-1 0-4 5 1 1 7-1 0-1zM198 618l0-1-3-3-5 6 2 2zM195 626l5-4-2-4-6 4 2 3zM200 622l-5 4 2 3 5-3 0-1zM124 501l2 3 6-3 0-1-1-2zM163 563l0 1 2 3 1 0 5-4-1-4-1 0zM174 567l-5 4 0 1 0 2 2 0 5-3 0-1zM201 611l-6 3 3 3 5-3-1-3zM208 623l0-2-2-3-6 4 2 3zM210 626l-2-3-6 2 0 1 3 4zM213 630l-7 2 1 1 2 4 5-5zM119 478l6-2-3-4-6 3 1 0zM129 483l-2-4-6 3 0 2 2 3zM123 487l2 3 1 1 5-5-2-3zM128 493l6-3-3-4-5 5zM131 498l5-4-2-4-6 3 0 1zM132 500l7-1 0-2-2-3-1 0-5 4zM132 501l2 3 1 1 5-4-1-2-7 1zM198 593l-2-3-6 3 3 5zM196 603l1 0 5-3-1-3-8 2 1 1zM139 497l0 2 1 2 7-3 0-1-2-3zM147 498l-7 3 3 3 6-3zM198 593l3 3 5-3-2-4zM145 494l2 3 5-3 0-1-2-2-5 2zM241 648l1 3 7-3-2-5-1 0-5 4zM242 651l3 4 1 1 5-5-2-3zM248 659l5-4-2-4-5 5 1 2zM149 487l1 2 7-2-3-5zM150 489l0 2 2 2 6-3-1-3zM249 648l2 3 7-2 0-1-3-4-1 0zM160 479l-6 3 3 5 5-5zM157 487l1 3 1 0 5-5-1-3-1 0zM161 493l5-2-1-5-1-1-5 5zM152 453l-5 3 0 2 1 2 6-3zM163 482l1 3 1 1 6-2 0-3-2-2zM165 486l1 5 1 0 5-5-1-2zM169 494l2 3 6-4-2-2-6 2zM218 494l-5 2 0 2 1 3 2 0 4-5zM208 345l2 1 4-4-1-2-6 2 0 2zM221 338l0-1-2-2-6 3 0 2 1 2 2 1zM234 346l-1 0-4 4 3 3 4-3zM232 353l-1 1 2 3 6-3 0-1-2-3-1 0zM239 354l-6 3 2 4 1 1 5-5zM243 372l4-5-1-2-6 3 0 1 1 2zM259 320l-6 3 0 1 3 4 5-5zM258 330l6-1 0-3-2-2-1-1-5 5 1 2zM262 324l2 2 7-2-4-5zM264 329l2 2 1 0 5-4-1-3-7 2zM294 360l-3-4-1 0-4 5 1 2 7-2zM269 309l-6 4 2 3 7-4zM272 312l-7 4 2 3 6-3zM271 324l5-4-2-4-1 0-6 3zM277 320l-1 0-5 4 1 3 1 0 5-3 0-2zM278 324l-5 3 2 4 6-3 0-1zM283 332l0-1-2-3-6 3 0 1 1 1 1 1zM281 341l7-2-2-4-1-1-5 5zM288 352l6-3-2-4-1 0-5 5zM299 356l0-1-2-2-1 0-5 3 3 4zM301 360l-2-4-5 4 0 1 1 3zM285 320l-2-3-2-1-4 4 1 2 7-1zM285 321l-7 1 0 2 3 3 5-4zM281 327l0 1 2 3 5-4-2-4zM285 334l1 1 5-4 0-1-2-2-1-1-5 4 0 1zM288 339l6-5-3-3-5 4zM296 339l-7 2 0 1 2 3 1 0 6-3 0-1zM292 345l2 4 6-3 0-1-2-3zM300 346l-6 3 2 4 1 0 5-5zM307 356l-2-2-6 1 0 1 2 4zM292 321l0-3-1-2-1 0-5 4 0 1 1 2zM295 323l-1-1-5 6 2 2 6-3zM291 330l0 1 3 3 4-4-1-3zM302 334l-2-3-2-1-4 4 2 3zM304 339l0-2-2-3-6 3 0 2 2 2zM298 342l2 3 6-3 0-2-2-1-6 2zM300 346l2 2 1 1 5-4-2-3-6 3zM288 312l2 4 1 0 5-3-2-4zM291 316l1 2 7-1 0-2-2-2-1 0zM300 319l-1-2-7 1 0 3 2 1 1 1zM297 327l1 3 2 1 5-5-2-2-1 0zM302 334l6-3 0-1-2-3-1-1-5 5zM304 337l6-3-2-3-6 3zM312 323l-1 0-5 4 2 3 5-3zM330 313l1 2 0 1 7-3-4-5-4 4zM340 316l-6 3 2 4 6-4zM333 305l5-5-2-2-6 4 2 2zM341 305l-2-4-1-1-5 5 2 2 5-2zM338 313l4-4-2-4-5 2-1 1zM338 300l1 1 6-3 0-10-1-4-6 0-2 1 0 13z"/><path id="pGB" d="M215 685l-2-1-4 5 2 3 5-4zM211 692l0 4 8-4-3-4zM212 681l1 3 2 1 5-3 0-1-2-4zM222 685l-2-3-5 3 1 3zM216 688l3 4 4-4-1-3zM210 295l-1-2-2 3zM207 277l0-2-1-1-1 2 0 2zM210 280l-3-3-2 1 1 4zM210 280l-4 2 0 1 6 1 0 1 0-1zM210 268l-1-1-1 2-1 1zM210 268l-3 2-1 4 1 1 5-2-1-4zM212 273l-5 2 0 2 3 3 5-5-1-1zM215 275l-5 5 2 4 6-4 0-1zM215 262l-5 1-1 4 1 1 1 1 5-4zM216 265l-5 4 1 4 2 1 5-6-2-2zM220 268l-1 0-5 6 1 1 6-3zM215 275l3 4 5-2 0-2-1-2-1-1z"/><path id="pRO" d="M225 702l-2-2-11 4 7 3 6-4zM236 693l-2-1-4 4 2 3 6-2 0-2zM232 700l0 2 3 1 4-5-1-1-6 2zM222 619l0-1-5 4 1 4 1 0 5-4 0-1zM226 625l-2-3-5 4 2 3 1 0zM229 630l-2-5-1 0-4 4 1 3zM231 632l-1-1-1-1-6 2 0 1 3 4 0 1 5-5zM232 328l2 3 5-3-2-5zM354 352l6-2 0-2-2-3-6 4zM364 341l-3-4-5 4 2 3zM358 345l2 3 6-3-2-4-6 3zM362 352l0 1 2 2 6-3-1-3zM353 323l1 3 1 1 5-5-1-2zM355 327l2 2 6-2-2-4-1-1zM357 330l1 3 2 2 5-5-2-3-6 2zM356 316l6-4 0-1-2-2-6 3 0 1 1 3zM365 316l-3-4-6 4 3 3zM360 322l1 1 6-4 0-1-2-2-6 3 0 1zM363 327l6-4 0-1-2-3-6 4zM361 297l-2-3-1 0-5 4 2 3 6-3zM382 263l0 2 2 2 6-3-3-5zM394 257l-7 2 3 5 1 0 4-4zM405 261l-7 2 0 1 2 3 1 0 5-3 0-1zM402 256l3 4 4-5-1-1-1-1zM419 271l1 0 5-3 0-2-2-2-6 4zM423 264l2 2 6-1 0-2-2-3zM425 268l3 3 5-4-2-2-6 1zM433 253l-1-3-6-3-2 1 0 5 2 3zM426 256l3 4 3-2 0-1 1-4zM429 260l2 3 3-1-2-4zM405 200l3-1-2-16-10 13zM400 216l10 0 2-2 1-1 0-11-2-2-3-1-3 1-8 14zM432 250l1 3 0-3 1-1zM412 214l6 2 0-3 0-2-5 2zM408 199l8-7-1-6-9-5 0 2zM408 199l3 1 5-3 0-5zM411 200l2 2 4 1-1-6zM417 145l2-5-4-2-8 0-2 5 5 6 2-3 3 1zM387 114l5 1 9-5 0-1-1-2-2 0-1-1zM392 115l8 4 6 1 1-1-6-9zM412 121l-4-2-1 0-1 1-4 10 2 5 1 0 4-4-1-1 1-7zM405 135l2 3 8 0 0-6-6-1zM401 109l0 1 6 9 1 0 1-3 0-6-7-2zM423 131l-7 1-1 0 0 6 4 2 7 0 2-2zM434 148l-2-10-4 0-2 2-1 7 8 1zM409 116l5-4-5-2zM408 119l4 2 6-4 1-4-3-1-2 0-5 4zM412 121l6-2 0-2zM428 138l4 0 11-6 1-2-11-1-10 2zM443 132l-11 6 2 10 7 2 4-2 0-5-12-2 11 0zM445 148l-4 2 5 1 1-1zM445 148l2 2 6-1-2-5-6-1zM443 132l1 9 7-1 5-1-11-8-1-1zM456 139l6-1-6-6-11-1z"/><path id="pOG" d="M147 563l-2-3-7 3 3 4 1 1 4-4zM195 640l-6 3 0 1 3 3 5-3 0-1zM190 633l2 4 2 0 4-4-1-3-7 2zM199 633l-1 0-4 4 1 3 6-3 0-1zM201 637l-6 3 2 3 5-2 1-1zM197 643l0 1 3 4 5-4-3-3zM207 647l-2-3-5 4 0 1 1 2 1 0zM210 651l-1-4-2 0-5 4 2 3 1 0zM213 656l0-2-2-3-1 0-5 3 2 5zM165 578l0 1 1 2 1 1 5-3 0-2-1-3-2 0zM175 581l-3-2-5 3 2 4zM201 636l0 1 2 3 6-2 0-1-2-4zM209 638l-6 2-1 1 3 3 5-4zM213 644l-2-4-1 0-5 4 2 3 2 0zM218 666l3 4 1 0 4-5-1-2zM222 670l2 3 6-4-4-4zM232 674l-2-5-6 4 0 1 2 2zM236 681l-5 3 2 4 6-3 0-1zM238 695l0 2 1 1 1 1 6-4-2-3zM232 660l-7 2 0 1 1 2 8-2 0-1zM235 664l-1-1-8 2 4 4 5-3zM230 669l2 5 5-5-2-3zM240 674l-6 2 2 4 7-2-1-1zM244 680l-1-2-7 2 0 1 3 3zM239 685l2 3 6-4 0-1-3-3-5 4zM244 692l5-5-2-3-6 4zM246 695l6-3 0-1-2-3-1-1-5 5zM246 695l2 4 6-4-2-3zM252 691l6-3 0-1-2-3-1 0-5 4zM252 692l2 3 6-3 0-1-2-3-6 3zM137 494l2 3 6-3 0-1-2-3-1 0zM266 688l-3-4-5 3 0 1 2 3zM262 695l6-4-1-3-1 0-6 3 0 1zM137 468l-6 3 2 4 6-2 0-2zM137 482l1 1 5-5-2-2-6 3zM145 493l5-2 0-2-1-2-1-1-5 4zM228 615l-2-4-6 3 0 2 2 2 0 1zM140 462l0-3-1-1-1 0-5 3 1 3zM145 468l-2-3-1-1-5 4 2 3zM141 476l2 2 1 1 6-3 0-1-3-3zM144 479l2 4 6-4-1 0-1-3zM152 479l-6 4 2 3 1 1 5-5zM240 633l2 3 6-3 0-1-2-3zM242 638l2 1 0 1 6-4-2-3-6 3zM151 465l-1-1-5 4 2 3 6-4zM147 471l0 1 3 3 5-3-2-5zM155 472l-5 3 0 1 1 3 6-4zM151 479l1 0 2 3 6-3-1-3-2-1zM163 470l-1-2-7 4 2 3 2 1 4-5zM204 310l-2-1-6 2-3 2-1 2 3 8 0 1 3 2 4 0 8-6 0-1zM202 326l4 2 6-3 0-1-2-4zM214 328l0-1-2-2-6 3 2 3zM213 312l-2-1-7-1 6 9 7-2 0-1zM217 317l-7 2 0 1 2 4 6-4 0-1zM212 324l0 1 2 2 7-2 0-1-3-4zM222 327l-1-2-7 2 0 1 1 3 3 1zM202 309l2 1 7 1 6-5 0-1-2-2-12 5zM217 306l-6 5 2 1 7-3zM220 309l-7 3 4 4 5-4-2-2zM224 317l-6 2 0 1 3 4 5-4zM235 334l-4 6 1 1 6-2 0-1-2-4zM218 294l-1-3-1-1-5 5 1 3 1 0zM215 301l6-2 0-1-1-3-2-1-5 4zM223 302l-2-3-6 2 0 2 2 2zM217 305l0 1 3 3 0 1 5-5-2-3zM227 306l-2-1-5 5 2 2 0 1 6-4zM220 284l-6 3 2 3 1 1 5-3zM222 288l-5 3 1 3 2 1 5-3 0-2-2-2zM225 292l-5 3 1 3 6-3 0-1zM230 297l-3-2-6 3 0 1 2 3 7-4zM231 302l-1-4-7 4 2 3 2 1zM234 304l-1-1-2-1-4 4 1 3 1 1 5-4zM228 283l-2-3-6 3 0 1 2 4 1 0zM230 287l-5 3 0 2 2 2 5-4-1-2zM233 290l-1 0-5 4 0 1 3 2 5-2 0-1zM233 303l4-6-2-2-5 2 0 1 1 4zM239 301l-1-4-1 0-4 6 1 1zM242 305l-2-3-1-1-5 3 0 2 3 2zM238 312l7-3-2-4-1 0-5 3 0 2zM240 315l1 1 6-3-2-4-7 3 1 1zM251 319l-2-3-5 5 1 2 6-3zM254 337l6-2-2-5-1 0-4 6zM254 337l0 2 3 3 5-4-1-3-1 0zM241 290l-6 4 0 1 2 2 1 0 5-2 0-1-1-4zM245 297l-2-2-5 2 1 4 1 1zM247 301l-1-3-1-1-5 5 2 3 1 0zM251 306l-6 3 2 4 5-4 0-1zM249 316l5-4-2-3-5 4zM257 316l-2-3-1-1-5 4 2 3zM250 290l-3-3-5 3 1 4 7-3zM243 294l0 1 2 2 1 1 5-4-1-3zM248 302l6-4-3-4-5 4 1 3zM303 297l6-3-2-4-6 3 0 1zM300 279l3 3 5-3-2-4zM308 279l-5 3 2 4 6-3-2-4zM301 268l2 4 1 0 6-4-2-3-6 3zM314 275l-2-3-6 3 2 4 1 0 5-3zM319 284l0-2-2-3-6 4 2 4zM310 268l2 4 6-4-3-3zM315 250l-6 4 2 3 1 1 4-6zM318 253l-2-1-4 6 1 1 6-2zM318 253l1 4 1 1 5-5-2-3zM323 250l2 3 7-3-3-3-1-1zM352 257l-5 4 1 3 1 0 5-3zM349 264l3 4 5-4-1-2-2-1zM352 269l1 2 6-2 0-2-2-3-5 4zM350 224l0 2 3 5 6-3-6-12zM377 179l1 1 13 0 13-3 2-3-3-9-1-2-17-1-10 6-1 3 3 0 0 7zM392 148l-4 3-2 9 10-7z"/><path id="pCL" d="M166 608l2 3 6-4-1-3-2-1zM178 600l-5 4 1 3 1 1 6-4zM184 597l-6 2 0 1 3 4 4-5zM185 560l1 0 5-4-2-3-6 3zM188 564l6-5-3-3-5 4zM193 545l2 3 1 1 4-4-1-3-1-1zM200 545l-4 4 1 2 2 2 4-4-2-4zM260 640l-5 4 3 4 4-4-1-4zM194 519l-1 0-5 4 2 3 5-4zM195 522l-5 4 0 1 3 2 5-3-2-4zM218 559l-5 4 3 3 5-4-2-2zM279 655l-2-1-4 5 2 2 6-2zM169 479l2 2 5-1 0-2-2-3-5 3zM189 512l3 4 5-4 0-1-2-3zM200 515l-1 0-2-3-5 4 1 3 1 0zM201 519l-1-4-6 4 1 3 1 0zM198 526l6-4-3-3-5 3zM206 526l-1-3-1-1-6 4 3 4zM202 533l7-2 0-2-3-3-5 4 0 1zM211 534l-2-3-7 2 0 1 2 3zM230 564l-1-2-3-2-4 2 1 4zM212 523l-2-4-1 0-4 4 1 3zM214 526l-2-3-6 3 3 3zM211 534l6-4-1-1-1-2-1-1-5 3 0 2zM221 523l6-4-2-4-6 5 1 2zM245 374l-1 2 2 3 1 0 6-4-2-3zM257 383l0-1-2-4-5 4 2 4zM260 387l-3-4-5 3-1 1 2 3zM264 393l-1 0-5 5 2 2 6-2zM267 400l0-2-1 0-6 2 0 1 3 4zM255 367l-5 5 1 0 2 3 5-4 0-1-1-2zM270 391l-6 2 2 5 1 0 5-5zM267 398l0 2 2 1 5-4 0-1-2-3zM288 405l-2-4-7 3 3 4 0 1zM281 395l4-7-1-1-1 0-4 3 1 4zM282 395l4 6 4-4-2-3z"/><path id="pXB" d="M219 692l2 3 5-4-1-2-2-1zM272 717l7-7-3-4-2-1-10 7 1 8 1 0z"/><path id="pXR" d="M233 714l3 6 1 0 5-5 1-3-5-2zM236 707l2 3 5 2 1 0 0-6-2-3-6 2zM249 714l9-9-4 0-9 7zM242 265l5-4-2-4-6 4 2 3zM256 234l0-4-2 6zM248 242l6-6-6 0zM264 247l-6-3-3 2 5 8 6-3 0-2zM260 254l1 3 2 1 5-4-2-3zM263 258l1 2 7-3 0-1-3-2zM258 230l-2 0 0 4 2 6 7-6zM266 239l0-5-1 0-7 6 0 4zM269 242l-3-3-8 5 6 3zM269 242l-5 5 2 2 5-2zM266 251l2 3 5-5-2-2-5 2zM271 257l2 3 5-2 0-1-2-4-5 3zM270 232l-4 2 0 5 3 3 5-3zM269 242l2 5 6-4-2-3-1-1zM369 296l-1-2-7 3 0 1 2 3 6-4zM359 242l0-1-2-2-5 3 2 4zM355 247l2 3 5-4-3-4-5 4zM365 251l0-1-3-4-5 4 1 2zM361 257l5-4-1-2-7 1 0 2 2 2zM367 254l-1-1-5 4 2 4 6-5zM369 256l-6 5 3 3 5-3 0-1-1-4zM362 246l6-4-2-2-1-1-6 2 0 1zM365 250l5-4 0-3-2-1-6 4zM370 246l-5 4 0 1 1 2 1 1 5-5zM375 253l-3-4-5 5 2 2 1 0zM371 260l7-2-1-2-2-3-5 3zM370 243l0 3 2 3 6-3 0-1-3-5zM375 253l5-4-2-3-6 3zM375 253l2 3 6-4-2-3-1 0zM377 256l1 2 1 1 6-2-2-4 0-1zM378 227l-7 6 4 7 5-3 0-8zM380 237l-5 3 3 5 7-3 0-1-3-3zM378 245l0 1 2 3 1 0 5-4-1-3zM381 249l2 3 0 1 7-3 0-1-3-4-1 0zM390 250l-7 3 2 4 1 1 5-6zM380 229l0 8 2 1 7-4-3-4-3-1zM385 241l5-4 0-2-1-1-7 4zM386 245l1 0 6-4-3-4-5 4 0 1zM390 249l5-3 0-2-2-3-6 4zM397 249l-2-3-5 3 0 1 1 2 1 1zM389 234l1 1 6-3-4-5-6 3zM390 235l0 2 3 4 5-4-2-5zM401 242l-3-5-5 4 2 3zM395 244l0 2 2 3 6-4-2-3zM396 232l4-3 1-10-1-3-3-2-1 0-3 2-1 1 0 10zM403 245l6-3 0-1-1-2-2-1-5 4zM408 227l0-1-7-7-1 10 3 1zM410 231l-2-4-5 3 2 4zM406 238l2 1 5-5-3-3-5 3 0 1zM363 126l-9 0-1 7 3 5 6 0zM396 214l1 0 8-14-9-4-7 5zM371 125l-3 0-5 1-1 12 1 0 7 1zM369 157l5 6 3-9 0-3-9 0zM363 126l5-1-5-10-8 0-1 11zM381 133l2-5-6-6-6 3-1 14 5 2zM381 133l-6 8 5 1zM366 107l-1-2 0 2zM368 125l3 0 6-3 3-7 0-1-14-7-1 0-1 8-1 0zM390 139l-5-10-2-1-2 5-1 9 6 1 0 1zM393 143l-2-4-1 0-4 5 0 6 2 1 4-3zM380 114l0-3-10-11-5 3 0 2 1 2zM393 143l9 1 3-1 2-5-2-3-1 0-13 4zM383 128l2 1 7 0 8-10-8-4-5-1-7 1-3 7z"/><path id="pXL" d="M273 766l-7 1 0 2 2 3 1 0 6-3z"/><path id="pGG" d="M182 593l-6 3 2 3 6-2zM188 589l-3-3-1-1-4 5 2 2zM182 593l2 4 6-4-2-4-6 3zM184 597l1 2 1 0 7-1-3-5zM196 576l0-1-3-4-6 4 1 3zM212 615l2 2 6-1 0-2-2-2zM220 616l-6 1 0 2 1 2 2 1 5-4zM198 566l-2-2-6 2 0 2 3 3 5-4zM211 600l5-5-1-2-7 2 1 2 1 2zM213 602l6-2 0-1-2-3-1-1-5 5zM140 462l-6 2 0 1 3 3 5-4zM211 574l-2-4-5 5 2 3zM217 596l2 3 6-3-2-3zM227 600l0-1-1-2-1-1-6 3 0 1 2 3zM237 589l-5 4 2 3 6-4zM240 592l-6 4 0 2 1 1 1 1 5-4 0-1-1-2zM239 604l1 3 6-4-2-3zM260 360l-2-3 0-1-6 4 2 3zM262 363l-2-3-6 3 0 2 1 2 2 1 5-4zM262 364l-5 4 1 2 7-1 0-2zM278 375l-1 0-5 4 2 3 6-3 0-1zM274 382l2 3 5-2 0-1-1-3zM276 386l1 3 2 1 4-3-2-4-5 2zM286 401l2 4 6-4 0-1-3-3-1 0zM297 393l-1-1-5 5 3 3 5-4zM295 364l2 3 6-3-2-4zM304 364l-1 0-6 3 0 1 2 2 6-3zM306 367l5-3-2-4-5 4 1 3zM314 367l-1-2-2-1-5 3 2 3zM309 374l1 0 6-3 0-1-2-3-6 3 0 1zM304 313l-2-4-1 0-4 4 2 2 5-1zM306 316l0 1 3 3 5-4-1-4-1-1zM317 279l5-4-2-4-6 4 0 1zM319 282l11-3-1-2-7-2-5 4zM322 275l7 2 0-5-2-4-7 3zM423 278l-5 4 0 1 2 3 1 0 4-4-1-3zM423 290l1 2 1 1 6-4-2-4-6 4zM427 296l6-3 0-2-2-2-6 4zM429 300l6-2 0-2-2-3-6 3 0 1zM433 305l0-2 1 0 3-3-2-2-6 2 2 5 1 0zM429 275l-1-3-6 3 0 1 1 2 1 1zM435 296l6-2 1-3-5-3-4 3 0 2zM435 298l2 2 1 1 5-4-2-3-6 2zM438 301l2 2 5-4-1-2-1 0zM435 272l0-2-1-2-1-1-5 4 0 1 1 3zM431 277l2 1 4-3-2-3-6 3zM439 275l-2 0-4 3 1 4 3 1 3-6zM437 288l5 3 2-2-7-5zM443 297l1 0 3-2-1-5-2-1-2 2-1 3zM444 297l1 2 2-1 0-3zM435 270l0 2 2 3 2 0 0-1-2-4zM439 275l1 2 0-1-1-2z"/><path id="pOO" d="M241 688l-5 5 2 2 6-3zM263 700l-1-5-2-3-6 3 5 10 1 1 2-3zM268 691l-6 4 1 5 7-6zM231 619l-2-4-1 0-6 4 2 2zM224 622l2 3 1 0 6-3-2-3-7 2zM227 625l2 5 1 1 4-7-1-2zM238 630l0-2-2-3-2-1-4 7 1 1zM237 615l-6 4 2 3 6-4zM232 341l0 2 1 3 1 0 6-3 0-1-2-3zM234 346l2 4 1 0 5-4-2-3zM237 350l2 3 6-3-2-4-1 0zM236 334l2 4 5-4-1-3-1 0zM238 338l0 1 2 3 6-3-2-4-1-1zM306 342l2 3 1 0 5-4-2-3-6 2zM311 348l6-2 0-2-2-3-1 0-5 4zM311 348l0 1 2 4 1 0 5-4-2-3zM319 349l-5 4 1 4 7-4 0-1zM322 353l-7 4 1 2 1 0 6-2 0-2zM313 327l-5 3 0 1 2 3 6-3zM312 338l5-4-1-3-6 3zM328 349l-6 3 0 1 1 2 7-2 0-1zM323 355l0 2 2 3 1 0 5-4-1-3zM324 331l0-1-5 4 1 3 1 1 5-5zM331 341l-3-3-5 3 0 1 1 2 2 2zM344 349l-7 3 1 1 1 3 7-3zM346 353l-7 3 2 4 2 1 5-5zM344 364l2 4 1 0 5-5-2-2-6 2zM349 371l1 0 5-3-2-4-1-1-5 5zM344 337l-1-2-7 3 3 4 1 0zM359 360l0 1 5-5 0-1-2-2-5 4 0 1zM369 348l-2-3-1 0-6 3 0 2 2 2 7-3zM371 311l1 4 1 1 5-5-1-2-1-1zM375 318l6-1-2-5-1-1-5 5zM383 304l0 1 2 3 6-4-3-4zM389 315l6-3-2-4-7 3 1 1zM383 294l6-3 0-2-2-3-6 4zM386 298l5-5-2-2-6 3 2 2zM384 281l8-1-1-2-3-3-5 3 0 1zM384 283l3 3 6-4-1-2-8 1zM393 282l-6 4 2 3 6-3 0-1zM386 271l2 4 6-5-2-2zM394 270l-6 5 3 3 5-4-2-3zM406 183l0-2-2-4-13 3 5 16z"/><path id="pMB" d="M294 773l0-1-3-3-4 3 3 2 1 0zM291 768l6-3 0-1-1-2-7 2 0 1zM299 768l-2-3-6 3 0 1 3 3zM302 773l-2-5-1 0-5 4 0 1 1 1 6-1zM302 773l-1 0 2 0zM298 752l-3 4 5-1zM303 761l0-1-7 1 0 1 1 2zM299 768l1 0 5-3-2-4-6 3 0 1zM306 765l-1 0-5 3 2 5 1 0 2 0 2-5zM306 765l1-1-1-4-2 0-1 1 2 4zM306 765l1 3 1-2-1-2zM132 420l-1 0 0 1 1 0zM131 420l1 0 3-2-1-2-4 1 0 1zM132 420l0 1 3-1 0-2zM154 416l0-1-1-1-2-1-3 1-1 2-1 2 2 2zM175 450l-6 3 2 3 6-4zM168 438l0 1 3 4 5-6-2-2zM179 443l-2-5-1-1-5 6 1 2zM172 445l3 5 5-5 0-1-1-1zM177 453l5-4-2-4-5 5 2 2zM170 416l-5 4 2 3 6-4-2-3zM178 428l-7 1 0 2 3 4 4-5zM184 438l-2-3-5 3 2 5zM180 444l0 1 2 4 1 1 5-5-1-2zM162 399l0 3 2 2 4 3 1 0 0-7-3-5zM189 434l-4 4 2 3 6-2zM214 472l0-2-3-2-5 4 2 2zM166 395l3 5 9-2 1-2-11-4-1 1zM207 461l1 3 1 0 5-5 0-2-2 0-5 2zM214 459l-5 5 2 2 6-3zM219 467l-2-4-6 3 0 2 3 2zM215 475l1 0 5-4-2-4-5 3 0 2zM220 483l5-5-2-3-6 2 0 2zM186 402l-3-4-4-2-1 2 0 2 2 6 2 1 4-2zM201 437l6-3-2-3-4-2-3 3zM203 442l6-3 0-2-2-3-6 3 0 2zM214 457l4-5-1-2-2 0-5 2 2 5zM214 457l0 2 7-2-3-5zM221 457l-7 2 3 4 6-3zM217 463l2 4 6-3 0-1-2-3zM221 471l1 0 5-3-2-4-6 3zM225 478l2 1 4-5-1-1-6 1-1 1zM234 478l-1-3-2-1-4 5 2 2 5-2zM236 482l0-1-2-2-5 2 0 2 2 3zM156 350l2 1 2-1-4-10-3 3-2 1zM190 392l-5-2-5 2-1 4 4 2 7-4zM190 394l-7 4 3 4 6-4zM198 420l2 3 2 1 5-2 0-2-3-4zM207 422l-5 2-1 5 4 2 4-5zM209 426l-4 5 2 3 6-4-2-3zM213 430l-6 4 2 3 6-3zM209 437l0 2 2 2 6-3-1-3-1-1zM211 441l0 1 2 3 1 0 5-3-1-4-1 0zM219 442l-5 3 1 5 2 0 4-5zM218 452l6-2-2-4-1-1-4 5zM221 457l5-5-1-2-1 0-6 2zM229 456l-3-4-5 5 2 3zM223 460l2 3 7-2 2-3-5-2zM233 464l-1-3-7 2 0 1 2 4 1 0zM233 464l-5 4 1 2 7-2zM155 321l-1-3-2 4 0 1zM165 325l-10-4-3 2 1 5 5 2zM166 325l-1 0-7 5 1 2-2 5-1 3 4 10 9-1 1-3 0-6-2-8zM216 435l5-5-2-2-6 2 2 4zM217 438l1 0 6-3 0-1-3-4-5 5zM242 478l6-3 0-1 0-2-3-2-4 5zM248 474l0 1 2 3 1 0 5-3-1-3zM257 475l-1 0-5 3 2 4 6-3-1-2zM155 321l10 4 1 0 0-1-2-10-1-1-2 1-6 2-1 2zM220 415l6-2 0-1-3-4-4 5zM220 417l2 3 6-4-2-3-6 2zM164 314l5-5-6 4zM166 324l10-6-6-9-1 0-5 5zM186 335l-3-3-13 8 0 6 16-10zM186 336l-16 10-1 3 19-10zM232 408l-6 4 0 1 2 3 6-4zM228 416l2 3 7-3 0-1-2-2-1-1zM194 333l-1-2-7 4 0 1 2 3 1 1zM195 350l0 8 8-8-2-3zM215 368l-2-3-14 8-1 1 5 1 11 1 1-2zM231 406l4-5 0-1-2-3-5 4 2 4zM238 406l0-1-3-4-4 5 1 2zM247 420l-2-5-5 5 1 2zM243 426l6-2 0-2-1-2-1 0-6 2 0 1zM243 428l2 3 1 0 5-5-2-2-6 2zM249 434l5-4 0-1-2-2-1-1-5 5zM223 368l0-1-1-1-1-1-6 3 0 6z"/><path id="pYY" d="M180 578l-2-3-6 2 0 2 3 2zM229 655l-5 5 1 2 7-2 0-2zM186 574l-1-3-1 0-6 3 0 1 2 3zM190 593l6-3 0-1-3-4-5 4zM193 599l8-2 0-1-3-3-5 5zM235 652l-1-1-5 4 3 3 5-4zM237 654l-5 4 0 2 2 2 5-4-2-3zM201 586l-5 3 0 1 2 3 6-4zM206 605l1 1 6-2 0-2-2-2-1-1zM238 644l-6 4 2 3 1 1 6-4 0-1zM235 652l2 2 0 1 5-4-1-3zM247 672l2 1 6-2 0-2-3-3-5 4 0 1zM251 677l5-4-1-2-6 2 1 3zM204 589l6-3 0-1-3-3 0-1-6 5zM206 593l1 1 4-7-1-1-6 3zM246 643l-2-3 0-1-6 5 3 3zM210 585l6-4-2-2-7 3zM211 587l1 1 6-2-2-5-6 4 0 1zM234 611l0-1-2-2-6 2 0 1 2 4 1 0zM241 621l-5 4 2 3 5-2zM234 610l6-3-1-3-1-1-6 4 0 1zM246 615l4-4-2-3-6 2 3 4zM205 498l0-1-3-4-5 5 2 2zM208 489l-2-3-6 4 2 3 6-3zM210 493l-2-3-6 3 3 4zM213 496l-3-3-5 4 0 1 1 1 7-1zM206 499l0 1 3 4 5-3-1-3zM218 494l0-2 0-1-3-1-5 3 3 3zM214 328l-6 3 3 4 4-4zM218 332l-3-1-4 4 2 3 6-3zM225 331l-2-4-1 0-4 5 1 3zM229 339l-1-3-7 1 0 1 3 4zM231 328l-5 3 2 4 6-2 0-2-2-3zM258 356l0 1 6-4-2-3-1 0-5 2 0 1zM258 357l2 3 6-4-2-3zM266 356l-6 4 2 3 6-3zM270 364l-2-3 0-1-6 3 0 1 3 3zM265 369l1 1 0 1 7-3 0-1-2-3-1 0-5 3zM271 379l1 0 5-4-2-4-6 4zM273 367l6-4-1-3-3-1-4 5zM279 364l0-1-6 4 0 1 2 3 6-3 0-2zM281 368l-6 3 2 4 1 0 5-3zM285 334l-2-2-6 2 2 5 1 0zM332 381l-1 0-5 5 2 2 5-2zM333 331l-6 3 1 3 6-3zM333 345l1 1 5-4-3-4-5 3zM330 326l6-2 0-1-2-4-1 0-5 4zM319 227l-3-1 1 1 1 1zM318 228l2 2 0 1 6-2 0-3-1-1-4 2-2 0zM396 300l6-3 0-1-2-3-6 3 0 1zM403 286l1 0 6-3-2-3-6 2z"/><path id="pCO" d="M283 742l-5 5 2 3 6-3-3-4zM286 747l-6 3 1 2 7-2zM287 736l0-1-2-2-8 4 4 3zM239 579l-6 2 2 5 5-5zM235 586l2 3 6-4-2-3-1-1zM243 585l-6 4 3 3 0 1 5-4zM251 611l5-4-1-3-7 2 0 2 2 3zM257 595l-1-2-7 2 3 4 5-3zM252 599l0 1 3 4 5-5-3-3zM255 604l1 3 1 0 5-4-2-4zM262 603l-5 4 2 3 6-3-2-4zM265 607l-6 3 2 5 1 0 5-4zM260 599l6-4-2-2-7 2 0 1zM260 599l2 4 1 0 5-4-1-3-1-1zM263 603l2 4 6-3-2-5-1 0zM268 585l-6 3 2 5 6-5zM267 596l5-4-1-3-1-1-6 5 2 2zM267 596l1 3 1 0 6-2 0-3-3-2zM266 557l0-2-3-4-5 5 1 2zM259 559l4 5 4-6-1-1-7 1zM265 542l-7 1 1 2 1 3 1 0 5-4zM261 548l2 3 6-3-2-3-1-1zM263 551l3 4 5-3 0-1-2-3zM267 558l1 0 5-3-2-3-5 3 0 2zM268 533l-6 4 3 3 5-3zM267 545l6-5-2-2-1-1-5 3 0 2 1 2zM269 548l7-4-3-3 0-1-6 5zM269 548l2 3 6-3-1-4zM265 516l1-1-2-3-1-1-5 4 1 3zM265 516l-6 2 0 1 3 3 5-3zM262 522l0 1 2 2 6-2 0-1-2-3-1 0zM264 525l0 1 2 4 5-5-1-2zM266 530l1 0 1 2 6-2-2-5-1 0zM271 538l5-5-1-3-1 0-6 2 0 1 2 4zM273 541l6-4-2-3-1-1-5 5 2 2zM274 530l1 0 5-4-2-3-6 2zM283 530l-6 4 2 3 6-4 0-1zM276 518l2 5 6-4 0-1-2-2 0-1zM297 459l5-3 1-1-2-3 0-1-6 5 0 1zM302 456l-5 3 2 3 0 1 7-3zM318 453l-2-4-2-1-5 4 0 1 1 2 2 0zM323 448l-2-3-5 4 2 4zM313 404l-2 0-4 5 1 1 1 1 6-3zM333 437l-2-4-6 4 2 2 6 0zM327 439l-1 2 3 3 5-3-1-2zM308 397l0 1 2 2 6-3-3-4-1-1zM318 401l-2-4-6 3 0 1 1 3 2 0zM333 425l-4 5 2 3 6-3-2-4zM338 434l1-1-2-3-6 3 2 4zM334 441l1 1 6-5-3-3-5 3 0 2zM344 441l-2-3-1-1-6 5 2 2 1 1zM317 386l-6 3 0 1 1 2 1 1 6-3 0-1zM322 393l-6 4 2 4 6-5zM322 407l3 5 5-4-1-3zM330 418l0 2 1 3 2 1 4-5-2-3zM333 424l0 1 2 1 5-3 0-2-2-2-1 0zM335 426l2 4 6-4 0-1-3-2zM345 429l-2-3-6 4 2 3 6-2zM320 378l-5 4 2 4 5-5zM328 389l-6 4 2 3 0 1 6-4zM329 404l6-3-1-1-1-3-7 3zM358 398l-7 2 0 1 2 3 6-3 0-1zM362 418l0 1 3 3 5-5-2-2zM366 410l0 1 2 4 5-5 0-1zM370 417l1 1 5-4-3-4-5 5zM367 399l1 1 6-2 0-2-2-3-1 0-5 4 0 1zM369 388l6-2-1-4-2-1-5 5zM371 393l1 0 5-4-2-3-6 2 0 1zM375 386l2 3 6-3-2-4zM386 364l0-1-3-3-5 3 1 2zM380 367l1 3 6-4-1-2-7 1zM384 374l5-4-2-4-6 4 1 1zM394 338l-6 2 0 1 3 4 4-5zM395 340l-4 5 2 3 6-3-2-4z"/><path id="pLB" d="M289 764l7-2 0-1-8 1zM298 752l2 3 3 0-1-4zM173 459l-2-3-6 4 3 3 5-2zM167 451l1 1 1 1 6-3-3-5zM171 456l2 3 6-3-2-3 0-1zM175 464l6-4 0-1-2-2 0-1-6 3 0 2 2 2zM188 445l-5 5 3 2 5-3-1-3zM202 468l1 0 5-4-1-3-7 2zM211 468l0-2-2-2-1 0-5 4 3 4zM224 383l6-4 0-1-2-2-10 3 0 1z"/><path id="pDB" d="M266 724l0 10 1 1 3 0 13-7-2-4-3-1-12-1zM266 722l12 1 5-6-1-2-10 2-6 3zM278 723l3 1 5-3-2-4-1 0zM283 728l1 0 4-3 0-2-1-2-1 0-5 3zM285 731l7-2 0-1-4-3-4 3zM284 717l5-3 1-1-3-4-5 4 0 2 1 2zM286 721l1 0 5-4-3-3-5 3zM287 721l1 2 7-1 0-1-3-4zM126 405l3-1 0-1-5-7-5 5zM126 374l-5-1 1 11 1 0 2-1zM127 390l0-4-2-3-2 1 4 4zM132 373l-6 1-1 9 2 3 7-2zM136 388l-2-4-7 2 0 4 8 2zM151 413l-1-2-2 3zM126 374l6-1 6-4-1-8-1 0-21-4-1 2 6 2 10 2-2 4-6 2-1 4zM142 371l-4-2-6 4 2 11 2 4 5-2zM155 406l0-1-1-3-5 2 1 3 1 1zM151 413l2 1 4-6-2-2-4 2 1 0-2 3zM158 409l-1-1-4 6 1 1 6-2 0-1zM162 416l-2-3-6 2 0 1 2 4zM136 361l-6-9-4 1-10 2-1 2zM149 383l0-11-7-1-1 15 3 1zM146 392l7-5-4-4-5 4zM154 397l1 0 3-9-5-1-7 5 0 4zM155 397l-1 0 0 5 1 3 7-3 0-3zM157 408l1 1 6-5-2-2-7 3 0 1zM168 407l-4-3-6 5 2 3 8-4zM168 408l-8 4 0 1 2 3 6-3zM168 413l-6 3 2 4 1 0 5-4zM173 419l-6 4 3 4 5-4-1-3zM178 430l-4 5 2 2 1 1 5-3 0-1-2-3zM185 438l-1 0-5 5 1 1 7-1 0-2zM139 357l-3-8-6 3 6 9 1 0zM158 388l1-2-8-14-2 0 0 11 4 4zM158 388l-3 9 7 2 4-4 1-2zM174 409l-3-2-2 0-1 0 0 1 0 5 2 3 1 0 4-4zM180 414l-5-2-4 4 2 3 1 1 6-3zM174 420l1 3 1 1 6-4-2-3zM182 420l-6 4 2 3 6-3zM184 424l-6 3 0 1 0 2 2 1 6-4zM186 427l-6 4 2 3 6-3zM182 434l0 1 2 3 1 0 4-4-1-3zM147 351l-3-3-8 1 3 8zM151 372l0-1 7-20-2-1-9 1-8 6-2 4 1 8 4 2 7 1zM163 382l2-10-14-1 0 1 8 14zM168 392l3-7-8-3-4 4-1 2 9 5zM178 400l0-2-9 2 0 7 2 0zM174 409l6-3-2-6-7 7zM182 412l0-5-2-1-6 3 1 3 5 2zM182 412l-2 2 0 3 2 3 9-5zM182 420l2 4 8-6 0-1 0-2-1 0zM192 418l-8 6 2 3 6-3zM192 424l-6 3 2 4 6-4zM194 427l-6 4 1 3 8-3zM198 432l-1-1-8 3 4 5zM201 437l-3-5-5 7 1 2 7-2zM151 344l-5 3-2 1 3 3 9-1zM169 349l-9 1-2 1-7 20 14 1 14-7-3-7-4-6zM182 367l-3-2-14 7-2 10 8 3 4-2zM171 385l-3 7 11 4 1-4-5-9zM191 415l0-6-2-3-3-1-4 2 0 5zM200 423l-2-3-6-3 0 1 0 6 2 3zM201 429l1-5-2-1-6 4 3 4 1 1zM180 392l5-2 2-21-5-2-7 16zM194 401l-2-3-6 4 0 3 3 1zM194 402l0-1-5 5 2 3 6-4 0-1zM192 415l7-3 0-4-2-3-6 4 0 6zM198 420l6-4-3-3-2-1-7 3 0 2zM229 470l1 3 1 1 2 1 4-4 0-1-1-2zM195 388l2-10 0-4-8-5-2 0-2 21 5 2zM198 395l0-2-3-5-5 4 0 2 2 4zM192 398l2 3 0 1 7-4-3-3zM201 398l-7 4 3 2 6-3zM204 416l3 4 5-2 0-1-2-5-1 0zM216 423l-3-4-1-1-5 2 0 2 2 4 2 1zM213 430l6-2 0-4-3-1-5 4zM225 437l-1-2-6 3 1 4 7-3zM228 443l0-2-2-2-7 3 2 3 1 1zM224 450l1 0 5-5-2-2-6 3zM225 450l1 2 7-2-3-5zM238 458l-4-1 0 1-2 3 1 3 3 4 4-5zM240 463l-4 5 1 2 7-2 0-2-2-2zM237 470l0 1 3 3 1 1 4-5-1-2zM204 391l0-1-7-12-2 10 3 5zM206 393l-2-2-6 2 0 2 3 3zM210 412l5-3 0-1-1-3-7 3 2 4zM215 409l-5 3 2 5 6-4zM213 419l7-2 0-2-1-2-1 0-6 4 0 1zM222 422l0-2-2-3-7 2 3 4 3 1zM232 434l-2-3-1 0-5 3 0 1 1 2zM228 441l5-4-1-2 0-1-7 3 1 2zM203 375l-5-1-1 0 0 4 7 12 5-4zM211 400l0 2 3 2 5-3-2-4zM222 406l-3-5-5 3 0 1 1 3zM219 413l4-5-1-2-7 2 0 1 3 4zM183 332l-2-4-13 4 2 8zM188 339l-19 10 3 3 18-9 0-2-1-1zM195 358l0-8-2-3-1-1-16 12 3 7 3 2 5 2 2 0 3-5 3-5zM203 375l6 11 1 0 8-5 0-1 0-1-4-3zM218 381l-8 5 2 4 6-4zM220 389l-2-3-6 4 2 3 1 0 6-2zM217 397l5-4-1-2-6 2zM219 401l6-3 0-2-2-3-1 0-5 4zM227 401l-2-3-6 3 3 5zM223 408l7-3-2-4-1 0-5 5zM232 408l-1-2-1-1-7 3 3 4zM230 419l3 4 5-5-1-2zM253 441l-6 4 2 3 6-2zM251 453l2 3 1 1 5-6-1-2-1 0zM226 386l-2-3-6-3 0 1 0 5 2 3zM222 393l1 0 5-4-1-2-1-1-6 3 1 2zM231 394l-2-4-1-1-5 4 2 3zM233 397l-2-3-6 2 0 2 2 3 1 0zM260 442l0-1-1-2-6 2 2 5z"/><path id="pLD" d="M297 751l0-1-1-1-5 0 0 4zM289 750l1 0 0-1zM216 555l-2-4-1 0-4 5 1 3 1 0 5-3zM195 482l-6 4 2 2 7-2 0-1-1-1zM182 449l-5 4 2 3 0 1 7-5-3-2zM188 456l-2-4-7 5 2 2 7-2zM192 463l-1-2-2-1-5 4 2 2 6-1zM198 486l1 4 1 0 6-4 0-1-2-3-6 3zM199 462l0-1-3-5-1 0-4 5 1 2zM200 463l-1-1-7 1 0 2 1 3 2 1zM202 468l-2-5-5 6 3 2zM200 476l6-4-3-4-1 0-4 3zM201 478l7-2 0-2-2-2-6 4 0 1zM193 439l-6 2 0 2 1 2 2 1 4-4 0-1zM194 442l-4 4 1 3 6-3 0-1zM191 449l2 3 6-3-2-3zM202 453l-6 3 3 5 5-4zM208 476l1 2 1 1 5-4-1-3-6 2zM212 482l5-3 0-2-1-2-1 0-5 4zM201 439l-7 2 0 1 3 3 6-3zM197 445l0 1 2 3 1 0 4-3-1-4zM200 449l2 4 6-3 0-1-3-3-1 0zM210 452l-2-2-6 3 2 4 1 0zM223 475l1-1-2-3-1 0-5 4 1 2zM231 486l-2-3-6 3 1 2 7-1zM204 446l1 0 6-4 0-1-2-2-6 3zM205 446l3 3 5-4-2-3zM218 379l10-3 0-1-2-3-1-1zM231 394l5-5-1-2-6 3zM225 371l1 1 4-4-1-3-6 2 0 1zM239 393l3 4 4-3-1-4-6 2zM252 402l-6 3 0 1 2 3 2 0 3-5zM251 412l1 1 1 2 6-2-2-5zM250 397l0 1 2 3 6-3-2-4zM263 405l-3-4-5 4 2 3zM257 408l2 5 1 0 5-6-2-2zM270 416l5-5-1-2-1 0-6 2 0 1zM270 416l2 3 6-3 0-1-2-4-1 0z"/><path id="pLM" d="M298 752l-1-1-6 2 1 4 3-1zM303 761l1-1-1 0zM199 553l-2-2-6 5 3 3 5-3 0-1zM273 673l3 4 4-5-1-1-6 1zM280 685l6-4 0-1-3-3-5 3zM217 544l-1-1-7 1 2 5 1 0zM213 551l1 0 6-2-2-5-1 0-5 5zM222 553l-2-4-6 2 2 4zM216 543l1 1 1 0 5-2 0-3-1-2-6 3zM223 553l5-5-2-2-6 3 2 4zM189 486l6-4-2-4-5 5zM242 504l6-3 0-1-3-4-5 5zM243 493l6-4-2-3-6 3 0 1zM245 496l6-4-1-3-1 0-6 4 0 1zM248 500l5-3 0-1-1-4-1 0-6 4zM251 505l5-5-3-3-5 3 0 1 2 3zM232 382l0 1 3 2 5-2-2-4zM240 383l-5 2 0 2 1 2 2 1 4-5-1-2zM265 407l6-3-2-3-2-1-4 5zM267 411l6-2-2-5-6 3zM273 423l1 0 6-4-2-3-6 3 0 1zM408 305l4-6-1-2-6 3 1 5zM419 297l-5 3 1 3 6-1 0-2zM421 302l-6 1 0 2 3 4 5-5z"/><path id="pGY" d="M193 585l3 4 5-3-2-3zM201 596l0 1 1 3 0 1 7-4-1-2-1-1-1-1zM209 597l-7 4 2 2 2 2 4-6zM199 583l2 3 6-5-1-2-7 2zM224 607l5-3-2-4-6 3 2 4zM232 608l0-1-2-3-1 0-5 3 2 3zM224 581l-6 5 2 2 6-2zM220 588l3 5 5-4 1-1-2-2-1 0zM225 596l1 1 5-4-3-4-5 4zM232 593l-1 0-5 4 1 2 7-1 0-2zM234 598l-7 1 0 1 2 4 1 0 5-5zM235 586l-6 2-1 1 3 4 1 0 5-4zM236 600l2 3 1 1 5-4 0-1-3-3zM248 608l0-2-1-3-1 0-6 4 2 3zM206 485l6-2 0-1-2-3-1-1-5 4zM206 485l0 1 2 3 5-4-1-2zM343 335l-2-4-7 3 2 4zM344 323l-6 4 3 3 5-3 0-1zM349 331l-3-4-5 3 0 1 2 4zM381 382l0-1-3-3-4 4 1 4zM381 370l-1-3-6 3 2 4 6-3zM402 297l-6 3 3 5 5-5zM425 282l-4 4 2 3 6-4-2-3zM424 279l1 3 2 0 4-5-2-2zM427 282l2 3 5-3-1-4-2-1zM434 282l-5 3 2 4 2 2 4-3 0-4 0-1z"/><path id="pyY" d="M247 658l-1-2-1-1-6 3 3 5zM247 670l5-4 0-1-2-2-6 3zM250 332l-2-4-6 3 1 3 1 1zM250 332l-6 3 2 4 1 0 5-4zM286 375l0-1-2-2-1 0-5 3 2 3zM282 357l-4 3 1 3 0 1 6-4zM287 365l0-2-1-2-1-1-6 4 2 2zM288 367l-1-2-6 1 0 2 2 4 1 0zM348 316l-6 3 2 4 7-3zM351 320l-7 3 2 3 6-3-1-2zM353 323l-1 0-6 3 0 1 3 4 5-5zM400 279l-2-1-5 4 2 3 6-3zM395 285l0 1 2 2 6-2-1-4-1 0zM404 286l-1 0-6 2 0 1 3 4 5-4zM405 274l-2-2-1 0-5 2 1 4 2 1 5-4z"/><path id="pyG" d="M243 666l1 0 6-3-2-4-1-1-5 5zM263 683l-1-2-1-2-5 5 2 3 5-3zM258 674l1 3 1 0 5-3 0-1-2-4-1 0zM260 677l1 2 1 2 6-4-3-3zM151 465l5-6-1-2-1 0-6 3 2 4zM153 467l6-2-3-6-5 6zM162 468l-2-3-1 0-6 2 2 5zM150 449l2 4 6-4-2-2zM163 458l-3-7-5 6 1 2zM348 264l-1-3-1 0-6 4 3 3 1 0zM349 264l-1 0-4 4 1 3 7-2 0-1zM359 190l6 1 10-9-20 0zM374 171l-3-1 0 1zM361 153l0 7 10 0 0 10 3 1 1-3-1-5-5-6zM377 154l-3 9 1 5 10-6 1-2 2-9-2-1 0 4-5-3z"/><path id="pBB" d="M282 713l-3-3-7 7 10-2zM282 702l-6 4 3 4 5-4-1-3zM284 706l-5 4 3 3 5-4-1-2zM289 700l-6 3 1 3 2 1 5-5zM287 709l3 4 6-3 0-1-2-3zM119 410l-3-1 3 3zM126 405l-7-4-1 1-2 6 0 1 3 1zM126 405l-7 5 0 2 6 0 2-1zM129 404l-3 1 1 6 6-2zM127 390l-2 5-1 1 5 7 4-2 3-6-1-3zM133 401l-4 2 0 1 4 5 8-2 0-1zM133 401l8 5 1-4 3-4 1-2-10-1zM136 395l10 1 0-4-2-5-3-1-5 2-1 4zM154 402l0-5-8-1-1 2 3 3 1 3zM197 404l0 1 2 3 6-3-2-4zM207 408l-2-3-6 3 0 4 2 1zM209 412l-2-4-6 5 3 3zM229 456l5 2 0-1 0-5-1-2-7 2zM205 405l6-3 0-2-1-2-1 0-6 3zM214 404l-3-2-6 3 2 3 7-3zM221 430l6-4-1-2-4-2-3 2 0 4zM224 434l5-3-2-5-6 4zM230 445l6-3-2-4-1-1-5 4 0 2zM233 450l5-5-2-3-6 3zM233 450l1 2 7-2 0-1-3-4zM243 453l-2-3-7 2 0 5 4 1 5-3zM245 456l-2-1-5 3 2 5 2 1 5-5zM242 464l2 2 6-1 0-2-3-4zM244 468l1 2 3 2 3-5-1-2-6 1zM251 467l-3 5 0 2 7-2 0-2-2-2zM215 393l-1 0-4 5 1 2 6-3zM226 424l4-5-2-3-6 4 0 2zM227 426l6-2 0-1-3-4-4 5zM227 426l2 5 1 0 5-3 0-2-2-2zM232 435l6-4 0-1-3-2-5 3 2 3zM238 445l6-4-2-3-6 4zM238 445l3 4 5-4-2-4zM249 449l0-1-2-3-1 0-5 4 0 1 2 3zM251 453l-2-4-6 4 0 2 2 1zM251 453l-6 3 2 3 6-3zM251 467l2 1 4-4-2-4-5 3 0 2zM233 424l2 2 6-3 0-1-1-2-2-2-5 5zM235 428l3 2 5-2 0-2-2-3-6 3zM246 431l-1 0-4 5 1 2 7-4zM242 438l2 3 7-3-2-4zM251 438l-7 3 2 4 1 0 6-4zM257 434l-3-4-5 4 2 4zM259 439l0-2-2-3-6 4 2 3zM255 446l2 3 1 0 5-4-3-3zM259 451l1 1 6-2 0-2-3-3-5 4zM262 457l1 3 2 1 4-5-2-3zM273 460l-3-4-1 0-4 5 1 2zM249 422l0 2 2 2 1 1 4-5-1-2zM257 423l-1-1-4 5 2 2 6-3zM254 429l0 1 3 4 5-4 0-1-2-2 0-1zM259 437l5-2-2-5-5 4zM260 441l7-3-3-3-5 2 0 2zM263 445l5-5-1-2-7 3 0 1zM260 427l2 2 6-2 0-1-3-3 0-1zM270 431l0-1-2-3-6 2 0 1 2 5zM267 438l5-4-2-3-6 4zM269 441l6-4-3-3-5 4 1 2zM271 444l6-2-2-5-6 4zM268 427l2 3 6-4-2-3-1 0-5 3zM277 430l-1-4-6 4 0 1 2 3zM415 425l0-6-3-1-1 0 2 3 1 4zM422 430l-7-5-1 0 1 5 2 3zM426 434l-1-4-3 0-5 3 3 3 3 1zM426 434l-3 3 5 1 1 0zM415 425l7 5 3 0 2-4-3-10-5 0-4 3zM419 416l5 0 3-5-1-3-4 0-2 4-3 0zM426 434l3 4 9 0 4 0 0-8-7-5-8 1-2 4zM424 416l3 10 8-1 4-10-3-2-9-2zM426 405l0 3 1 3 9 2 1-5-1-2-6-4-3 1zM435 425l7 5 8-6-5-6-6-3zM442 430l0 8 5-1 5-5-2-8zM439 415l2-2-1-1-3-4-1 5zM445 418l-4-5-2 2zM422 355l3 4 2-6z"/><path id="pBM" d="M298 752l4-1 0-3-2 0-3 2 0 1zM281 700l1 2 1 1 6-3 0-4-3-1zM286 707l1 2 7-3-2-4-1 0zM286 695l3 1 5-3-4-5-6 4zM294 693l4-3 0-1-2-5-6 3 0 1zM302 706l2 4 3-1 2-3 3-6 1-1-7 0-3 2zM285 667l1 2 2 1 5-4 0-1-3-3zM293 666l-5 4 1 3 1 0 5-2 0-2zM290 673l1 3 1 1 6-3-3-3zM298 689l0 1 4 2 5-4 0-1-2-4zM289 658l6-3-3-5-5 5zM297 658l0-1-2-2-6 3 0 1 1 3zM295 669l0 2 3 3 2 1 4-4 0-6zM313 683l0 1 2 4 1-5 0-1zM299 648l5-4 0-1-2-2-5 2 1 4zM319 628l-1-3-2-1-4 5 2 3zM314 633l2 2 1 1 5-4-2-3-1-1-5 4zM318 639l7-3 0-1-3-3-5 4zM320 629l5-4-2-3-5 3 1 3zM329 618l-6 4 2 3 1 0 5-3-1-2zM338 638l1-1-2-3-4 2 1 4zM271 471l-6 4 2 3 1 1 5-5zM276 479l0-1-3-4-5 5 1 1zM268 467l3 4 5-5-2-2zM266 448l0 2 1 2 6-2 0-1-2-5zM267 453l2 3 1 0 5-4-2-2-6 2zM270 456l3 4 4-4-2-4zM281 460l-2-4-2 0-4 4 1 3zM285 466l-3-3-5 4 2 3zM281 449l-6 3 2 4 2 0 4-4zM277 430l-5 4 3 3 5-3-2-4zM283 438l-2-4-1 0-5 3 2 5zM280 419l-6 4 2 3 6-3zM383 412l2 2 6-3 0-1-1-2-3-2zM398 411l-1-3-6 2 0 1 2 4 1 0zM398 411l-4 4 0 1 1-1 4-4zM395 404l2 4 6-3 0-1-3-3zM403 405l-6 3 1 3 1 0 1-1 5-3zM412 418l-1-3-2-1 0 1 2 3zM400 401l3 3 5-4-1-2-7 1zM403 405l2 2 3-3 2-2-1-2-1 0-5 4zM412 413l-4-2 1 3 2 1zM411 415l1 3 3 1 4-3-2-4-5 1zM408 400l1 0 5-4-1-3-6 3 0 2zM414 396l-5 4 1 2 6-4zM426 408l0-3-2 0-2 3zM408 384l6-1 0-2-2-3-2-1-4 6zM410 389l1 1 4-6-1-1-6 1-1 2zM411 390l2 3 6-4-4-5zM419 389l-6 4 1 3 5-2 1-3zM414 396l2 2 3-4zM426 405l1-2-2 1-1 1zM412 367l-5 4 1 3 7-3 0-1zM408 374l1 1 1 2 2 1 4-4-1-3zM416 374l-4 4 2 3 6-3-3-4zM420 378l-6 3 0 2 1 1 7-3 0-3zM415 384l4 5 2-2 2-4-1-2zM419 389l1 2 1-4zM416 360l-2-4-5 3 2 3zM412 366l7-3-3-3-5 2 0 3zM421 367l-2-4-7 3 0 1 3 3zM415 371l1 3 1 0 6-4-2-3-6 3zM419 363l2 4 4-3-1-5 1 0zM418 347l3 4 5-2 0-2-1-2-1-1z"/><path id="pOy" d="M239 633l-1-3-7 2 0 1 2 4 2 0zM236 639l6-1 0-2-2-3-1 0-4 4zM236 641l2 3 6-5-2-1-6 1zM269 349l-1-3-6 4 2 3zM269 349l-5 4 2 3 5-2zM274 357l-2-3-1 0-5 2 2 4 0 1zM271 364l4-5-1-2-6 4 2 3zM268 346l5-4 0-1-1-2-1-1-6 4zM276 346l-3-4-5 4 1 3 7-2zM272 354l5-4 0-1-1-2-7 2 2 5zM274 357l6-4-3-3-5 4zM312 338l2 3 1 0 5-4-1-3-2 0zM317 344l6-2 0-1-2-3-1-1-5 4zM324 344l-1-2-6 2 0 2 2 3zM326 346l-2-2-5 5 3 3 6-3 0-1zM319 309l-6 3 1 4 2 1 5-6zM316 317l1 1 6-2-2-5zM319 323l6-3-2-4-6 2 0 3zM321 327l1 0 5-4-2-3-6 3 0 1zM352 349l-2-3-1-1-5 4 2 4zM349 331l2 3 6-4 0-1-2-2-1-1zM351 334l2 3 5-4-1-3zM356 341l5-4-1-2-2-2-5 4 1 1zM349 239l0-1-2-4-6 4 2 4 1 1z"/><path id="pMC" d="M263 683l0 1 3 4 1 0 4-4-1-3zM271 684l2 1 5-6-2-1-6 2 0 1zM281 646l7-2-2-4-1-1-5 5zM225 530l-6 3 0 1 3 3 4-5zM233 542l-2-1-5 3 0 2 2 2 6-3 0-1zM283 637l2 2 1 1 5-3 0-3-1-1-7 3zM288 644l6-3 0-1-3-3-5 3zM231 526l-2-3-6 3 2 3zM241 542l0-1-3-4-5 5 1 2zM242 544l-1-2-7 2 0 1 1 3 1 1zM283 452l-4 4 2 4 6-4zM289 459l-2-3-6 4 1 2 6-2zM290 448l-1-2-8 1 0 2 2 3zM295 456l-2-4-2-1-4 5 2 3 6-2zM290 409l0-2-2-2-6 4 2 3zM284 412l2 4 5-4-1-3zM395 352l2 4 1 0 5-4 0-1-1-2-7 2zM406 355l-3-3-5 4 1 3 2 0zM409 359l-2-3-1-1-5 4 2 4zM411 362l-2-3-6 4 1 2 7 0zM407 371l5-4 0-1-1-1-7 0 0 3zM402 348l0 1 1 2 7-1 0-2-3-3zM417 347l-1-2-1-1-5 4 0 2 1 1 1 1z"/><path id="pDC" d="M268 691l2 3 6-3-2-3zM230 537l1 4 2 1 5-5-3-3zM290 633l1 1 7-1 0-1-2-4-2 0zM298 633l-7 1 0 3 3 3 5-5zM243 532l-1-2-7 4 3 3 5-4zM304 629l-1-1-5 4 0 1 1 2 7-2 0-1zM309 625l-2-4-5 4 1 3 1 1zM272 500l1 0 6-3 0-1-2-3-6 4zM288 485l-5 4 1 3 6-3 0-1zM403 352l3 3 1 1 4-5-1-1-7 1zM414 356l0-2-2-2-1-1-4 5 2 3zM414 342l0-2-2-2-1-1-5 4 1 2zM407 345l3 3 5-4-1-2-7 1zM417 347l-5 5 2 2 6-2 1-1-3-4zM421 340l-1-3-6 3 0 2 1 2 1 1z"/><path id="pDO" d="M276 691l-6 3 3 4 5-2 0-1-1-3zM315 620l-2-2-6 3 2 4 6-3zM292 503l-2-2-7 2 2 4 7-3zM285 507l0 2 2 2 1 0 5-4 0-1-1-2zM306 526l-6 3 1 3 7-2 0-1zM301 532l0 1 3 3 5-3-1-3zM309 533l-5 3 0 1 2 3 5-3-1-4zM306 540l0 1 2 3 2 1 4-5-2-2-1-1zM357 489l2 3 5-3 0-1-1-3zM359 492l0 1 2 2 1-1 1-1 1-4zM361 496l1-2-1 1zM363 484l5-2-2-4-6 2 1 2zM371 458l6-3 0-1-1-2-1-1-5 5zM373 462l4-3 1-3-1-1-6 3 0 1zM369 444l7-3-2-4-6 3 0 1zM372 448l1 0 5-4-2-3-7 3zM380 448l1-3-3-1-5 4 2 3 1 1zM377 454l0 1 1 1 0-2z"/><path id="pDM" d="M273 698l0 2 1 3 7-4-3-3zM322 632l5-4-1-3-1 0-5 4zM263 445l3 3 5-4-2-3-1-1zM273 449l6-3-2-4-6 2zM275 452l6-3 0-2 0-1-2 0-6 3 0 1zM260 413l1 2 6-3 0-1-2-4zM403 378l0 1 6-4-1-1-1-3-6 4zM415 330l-3-4-5 3 2 5 6-3zM409 334l2 3 1 1 4-5-1-2zM416 333l-4 5 2 2 6-3 0-1-2-2zM421 340l-5 5 1 2 1 0 6-3zM411 313l0-2-2-3-6 4 0 1 2 3zM411 313l-6 3 2 3 6-4zM407 319l3 3 5-4-1-2-1-1zM412 326l6-3-1-4-2-1-5 4zM409 308l2 3 7-2-3-4zM414 316l5-5-1-2-7 2 0 2 2 2zM415 318l2 1 5-3-2-5-1 0-5 5zM418 309l1 2 1 0 6-2 0-2-2-2-1-1zM425 319l5-3-2-4-5 4 1 2zM421 300l0 2 2 2 1 1 5-5-2-3zM424 305l2 2 5-2-2-5z"/><path id="pXM" d="M281 699l-7 4 0 2 2 1 6-4-1-2z"/><path id="pDD" d="M288 725l4 3 4-4-1-2-7 1zM292 728l0 1 1 2 3-1 0-1 2-4-2-1zM175 423l-5 4 1 2 7-1 0-1-2-3zM258 464l-1 0-4 4 2 2 6-2zM237 415l6-2-3-5-5 5zM227 387l5-4 0-1-2-3-6 4 2 3zM229 390l6-3 0-2-3-2-5 4 1 2zM257 423l3 3 0 1 5-5-2-3zM263 419l7-3-3-4-6 3 1 2zM265 422l0 1 7-3 0-1-2-3-7 3zM268 426l5-3-1-3-7 3zM422 355l-2-3-6 2 0 2 2 4zM419 323l-1 0-6 3 3 4 5-3 0-2zM422 329l-4 5 2 2 5-3-1-3zM424 318l-1-2-1 0-5 3 1 4 1 0zM426 323l1-1-2-3-1-1-5 5 1 2zM420 327l2 2 2 1 3-4 1 0-2-3-6 2zM425 333l3-1-2-3 1-3-3 4zM428 312l-2-3-6 2 2 5 1 0zM430 316l-5 3 2 3 2-1 1-1 1-4zM428 326l1-5-2 1-1 1zM432 305l-1 0-5 2 0 2 2 3 4-2 1-4zM431 315l1-5-4 2 2 4zM430 316l1 0 0-1z"/><path id="pBD" d="M295 735l1-5-3 1 0 1zM292 717l6-4-2-3-6 3-1 1zM300 717l-2-4-6 4 3 4zM296 724l2 1 2-5 1-2-1-1-5 4 0 1zM282 688l6-3 0-1-2-3-6 4zM292 702l5-3-3-6-5 3 0 4 2 2zM294 706l8-5-5-2-5 3zM294 706l2 3 6-3 1-5-1 0zM298 713l6-3-2-4-6 3 0 1zM304 710l-6 3 2 4 3-2 2-3zM300 717l1 1 2-3zM288 684l5-3-1-4-1-1-5 4 0 1zM294 681l-1 0-5 3 0 1 2 2 6-3zM297 699l5 2 1 0 3-2-4-7-4-2-4 3zM304 710l1 2 0-1 2-2zM300 675l-2-1-6 3 1 4 1 0 6-5zM300 676l-6 5 2 3 6-4zM296 684l2 5 7-6-1-1-2-2zM307 688l-5 4 4 7 7 0 0-2zM290 662l3 3 5-3-1-4zM293 666l2 3 9-4-6-3-5 3zM304 682l4-3 0-4-3-3-1-1-4 4 0 1 2 4zM305 683l2 4 6-3 0-1-1-3-4-1-4 3zM313 684l-6 3 0 1 6 9 1-4 1-5zM295 655l2 2 6-1-2-6-1 0zM304 665l1-1 1-3-1-2-2-3-6 1 0 1 1 4zM304 671l1 1 7-3-2-3-5-2-1 1zM312 669l-7 3 3 3 8-3zM308 675l0 4 4 1 6-7-2-1zM319 673l-1 0-6 7 1 3 3-1 3-6 1-3zM301 650l6-2-3-4-5 4 1 2zM303 656l5-6-1-2-6 2zM308 650l-5 6 2 3 3-2-1-1 3-3 1 0-2-2zM305 659l1 2 4-1-2-3zM306 661l-1 3 5 2 3-2-3-4zM310 666l2 3 4 3 2 1 1 0-1-3-4-5-1-1zM309 651l2 2 3-5zM320 673l1-1-3-2 1 3zM330 653l2 1 1-2zM325 635l5-3 1-2-4-2-5 4zM333 636l-3-4-5 3 0 1 2 3zM330 644l4-4-1-4-6 3-1 2 1 1 3 0zM334 640l-4 4 1 3 1 0 4-2 1-2zM332 647l1 3 2-4 1-1zM331 630l2-2-1-2-1-4-5 3 1 3zM337 634l-4-6-2 2-1 2 3 4zM337 643l0-1 1-4-4 2zM233 437l1 1 6-3-2-4-6 4zM234 438l2 4 6-4-1-2-1-1zM247 459l3 4 5-3 0-1-1-2-1-1zM261 468l-6 2 0 2 1 3 1 0 5-5zM262 470l-5 5 1 2 6-3-1-3zM238 431l2 4 1 1 4-5-2-3-5 2zM249 448l0 1 2 4 6-4-2-3zM260 452l-1-1-5 6 1 2 7-2zM255 460l2 4 1 0 5-4-1-3-7 2zM266 463l-1-2-2-1-5 4 3 4zM261 468l1 2 1 1 5-4-2-4zM263 471l1 3 1 1 6-4-3-4zM266 450l-6 2 2 5 5-4 0-1zM274 463l-1-3-7 3 2 4 6-3zM271 471l2 3 6-3 0-1-2-3-1-1zM278 430l2 4 1 0 5-4-1-3zM417 374l3 4 2 0 3-3 1 0 0-3-3-2zM422 378l0 3 1 2 0-1 2-7zM422 355l-6 5 3 3 6-4zM421 367l2 3 3 2-1-8zM426 372l0 3 0-2zM427 353l0-2-1-2-5 2-1 1 2 3zM420 327l-5 3 0 1 1 2 2 1 4-5zM420 336l0 1 1 3 6-2-2-5zM421 340l3 4 1 1 3-5-1-2zM425 345l1 2 2-1 1-6-1 0zM426 347l0 2 1 2 1-2 0-3zM427 338l3-2 0-1-2-3-3 1zM428 340l1 0 1-4-3 2z"/><path id="pCG" d="M207 582l7-3 0-2-3-3-5 4 0 1 1 2zM249 648l5-4-2-3-5 2zM220 574l-1 0-5 3 0 2 2 2 5-3 0-1zM221 578l-5 3 2 5 6-5zM248 632l6-2 0-1-2-3-6 3zM222 562l-1 0-5 4 0 1 1 2 6-2 0-1zM217 569l0 2 2 3 1 0 4-4-1-3zM193 504l-1 0-5 3 0 2 2 3 6-4 0-1zM223 567l1 3 2 1 5-5-1-2-7 2zM228 573l5-3 1-1-2-3-1 0-5 5zM245 589l-5 4 1 2 7-2-2-4zM268 625l-2-3-1 0-5 5 1 2 2 1 5-4zM266 636l6-3-1-4-6 4zM166 450l-6 1 3 7 5-6-1-1zM200 504l-1-3-6 3 2 3zM231 566l1 0 4-4-1-3-1-1-5 4 1 2zM245 574l-1 0-2-3-6 3 3 4zM228 508l-1-1-5 4 0 1 3 3 5-4zM249 555l6-3-2-3-6 2 0 2 1 1zM224 501l2 2 5-2-1-5-1 0-5 3zM231 501l-5 2 0 1 1 3 1 1 5-4-1-3zM233 504l-5 4 2 3 1 0 5-3 0-1-2-3zM257 541l-6 4 2 3 6-3-1-2zM227 493l2 3 1 0 5-2 0-2-2-3-1 0zM237 497l-2-3-5 2 1 5 1 0 5-3zM237 498l-5 3 1 3 1 0 5-4zM239 512l1 2 6-3-1-3-2-1-4 4zM392 375l0-1-2-4-1 0-5 4 1 1 1 3zM391 330l-2-3-2 0-4 3 1 4 1 0 6-3zM392 333l-1-2-6 3 1 3zM386 337l0 1 2 2 6-2 0-1-2-4zM398 329l-2-2-5 3 0 1 1 2 6-2zM398 331l-6 2 2 4 6-3zM394 337l0 1 1 2 2 1 5-4-1-2-1-1zM397 341l2 4 1 0 4-5-2-3zM389 315l2 3 7-1 0-2-2-3-1 0zM400 319l-2-1-4 5 2 2 5-2zM412 286l2 3 1 1 5-4-2-3-6 2z"/><path id="pYO" d="M239 618l-6 4 1 2 2 1 5-4-1-3zM235 599l-5 5 2 3 6-4-2-3zM242 610l-2-3-6 3 0 1 3 4zM242 610l-5 5 2 3 1 0 5-4zM241 621l2 5 2 1 4-5-1-2zM293 387l1 3 7-5-3-3zM299 370l-2-2-6 4 3 3 5-4zM299 371l-5 4 2 4 5-5zM301 374l-5 5 2 2 6-3-2-4zM305 353l6-4 0-1-2-3-1 0-5 4zM313 365l1 2 6-4-3-4-1 0zM320 364l0-1-6 4 2 3 7-2zM319 376l1 2 7-2 0-2-3-5zM329 378l-5 4 1 3 1 1 5-5zM320 363l0 1 5-4-2-3-6 2zM326 360l-1 0-5 4 3 4 1 1 6-4zM324 369l3 5 6-3-1-5-2-1zM334 374l-1-3-6 3 0 2 2 2zM332 381l5-2-2-5-1 0-5 4 2 3zM340 382l-3-3-5 2 1 5zM340 382l-7 4 3 3 5-4zM339 393l5-4-1-3-2-1-5 4 2 3zM332 356l-1 0-5 4 4 5 2 1 1-1 1-6zM341 372l0-1-2-4-4-2-2 0-1 1 1 5 1 3 1 0zM337 379l6-4-2-3-6 2zM345 379l0-1-1-2-1-1-6 4 3 3zM333 345l-2-4-5 5 2 2zM328 349l2 3 6-2-2-4-1-1-5 3zM337 352l-1-2-6 2 0 1 1 3 1 0 6-3zM332 356l2 3 5-3-1-3zM341 360l-2-4-5 3-1 6 2 0zM343 361l-2-1-6 5 4 2 5-3 0-1zM346 368l-5 3 0 1 2 3 1 1 5-5-2-3zM340 342l-1 0-5 4 2 4 5-5 0-1zM344 349l-3-4-5 5 1 2zM348 356l-5 5 1 2 6-2 1-1-2-4zM370 377l-2-3 0-1-5 5 1 3 6-2zM357 357l5-4 0-1-2-2-6 2 0 1zM374 370l6-3-1-2-1-2-1 0-5 4zM388 300l6-3 0-1-1-2-2-1-5 5zM391 304l5-4-2-3-6 3zM393 294l1 2 6-3-3-4z"/><path id="pyy" d="M256 658l0 1 6-5-3-3-5 5zM256 659l2 3 6-4-2-3 0-1zM267 662l-3-3 0-1-6 4 2 3zM319 324l0-1-2-2-5 2 1 4zM316 331l1 3 2 0 5-4-2-3-1 0z"/><path id="pMM" d="M280 685l-2-5 0-1-5 6 2 2zM280 672l-4 5 0 1 2 1 0 1 5-3 0-1-1-3zM282 662l-5 4 2 3 6-3zM279 669l0 2 1 1 2 1 4-4-1-2 0-1zM286 669l-4 4 1 3 6-3-1-3zM283 676l0 1 3 3 5-4-1-3-1 0zM277 640l-1 0-4 3 0 2 2 2 5-3zM274 647l0 1 1 3 6-3 0-2-1-2-1 0zM275 651l0 1 2 2 2 1 4-4-2-3zM286 655l-3-4-4 4 2 4zM154 430l-1-2-4 1 3 3zM158 436l-1-2-1-4-2 0-2 2 2 5zM216 540l6-3-3-3-5 3zM226 532l-4 5 1 2 7-2-2-4zM310 640l2 2 6-2 0-1-1-3-1-1zM326 641l1-2-2-3-7 3 0 1 1 1 0-1 5 1zM232 489l1 0 5-4-2-3-5 4 0 1zM233 489l2 3 6-2 0-1-2-3-1-1zM247 486l0-1-1-2-2-1-5 4 2 3zM246 483l4-5-2-3-6 3 0 1 2 3zM253 483l0-1-2-4-1 0-4 5 1 2zM250 489l5-4-2-2-6 2 0 1 2 3zM252 492l5-3 0-1 0-2-2-1-5 4 1 3zM268 479l-1-1-6 3 3 5 5-4 0-2zM276 466l1 1 5-4 0-1-1-2-7 3 0 1zM285 440l-2-2-6 4 2 4 2 0 4-4zM288 445l-3-3-4 4 0 1 8-1zM282 409l0-1-6 3 2 4 6-3zM278 415l0 1 2 3 6-3-2-4zM288 419l-2-3-6 3 2 4 1 1zM393 415l-2-4-6 3 3 4zM394 415l-1 0-5 3 2 4 4-2 0-4zM402 337l7-3-2-5-2 0-4 6zM410 322l-3-3-5 4 2 3z"/><path id="pDL" d="M280 685l-5 2-1 1 2 3 1 1 5-4zM277 692l1 3 6-3-2-4zM235 534l-2-4-5 3 2 4zM294 640l0 1 2 1 1 1 5-2 0-2-3-4zM316 624l-1-2-6 3 3 4zM275 490l4-5-2-3-6 3 0 1 3 4zM284 493l0-1-1-3-6 4 2 3zM277 482l2 3 1 1 6-4-2-3zM281 434l2 4 6-5-3-3zM288 445l4-5 0-2-7 2 0 2zM293 427l-7 3 3 3 1 1 5-4zM387 406l3 2 5-4-3-4-6 4zM398 396l-6 4 3 4 5-3 0-2zM404 393l-2-4-1-1-5 5 2 3zM402 389l5-3 1-2-2-1-1-1-5 4 1 2zM404 393l6-4-3-3-5 3zM407 371l-3-3-6 3 2 4 1 0zM405 382l1 1 4-6-1-2-6 4z"/><path id="pBL" d="M278 695l0 1 3 3 0 1 5-5-2-3zM284 692l6-4 0-1-2-2-6 3zM287 655l5-5-1-1-2-1-6 3 3 4zM291 649l1 1 6-3-1-4-1-1zM299 648l-1-1-6 3 3 5 5-5zM308 636l-1 0-5 3 0 2 2 2 5-3zM318 625l5-3-2-4-6 2 0 2 1 2zM318 614l1 0 6-3-3-4-6 3zM327 615l0-1-2-3-6 3 2 4zM323 622l6-4 0-1-2-2-6 3zM325 611l5-5-2-3-6 2 0 2zM329 617l0 1 1 2 0-2 1-2zM269 482l2 3 6-3-1-3-7 1zM273 474l3 4 5-4-2-3zM277 482l7-3 0-1-2-4-1 0-5 4 0 1zM395 404l-5 4 1 2 6-2zM400 399l7-1 0-2-3-3-6 3zM407 396l6-3-2-3-1-1-6 4z"/><path id="pYy" d="M240 618l1 3 7-1-1-3-1-2-1-1zM246 615l1 2 6-3-2-3-1 0zM323 316l7-3 0-1-3-3-6 2zM323 316l2 4 6-5-1-2zM331 315l-6 5 2 3 1 0 5-4-2-3zM354 353l0-1-2-3-6 4 2 3 1 0zM351 360l6-2 0-1-3-4-5 3zM350 361l2 2 1 1 6-4-2-2-6 2zM334 308l1-1-2-2-1-1-5 5 3 3zM333 319l1 0 6-3-2-3-7 3z"/><path id="pLC" d="M266 647l-2-2-2-1-4 4 0 1 1 2 7-3zM265 633l-2-3-2-1-4 3 1 5zM258 637l2 3 1 0 6-3-1-1-1-3zM262 644l2 1 4-5-1-3-6 3zM272 645l0-2-4-3-4 5 2 2zM270 655l2 3 1 1 4-5-2-2zM267 637l1 3 7-4-1-2-2-1-6 3zM275 636l-7 4 4 3 4-3zM234 545l-6 3 2 3 5-3zM238 551l-5 5 1 2 1 1 6-2 0-3-2-2zM235 559l1 3 2 1 5-4-2-2zM243 559l-5 4 2 4 5-4 0-2-1-1zM222 512l0-1-3-2-5 2 0 2 2 3 1 0zM212 483l1 2 1 1 6-3-3-4-5 3zM220 483l-6 3 1 4 3 1 4-6zM229 481l-2-2-2-1-5 5 2 2 1 1 6-3zM290 488l0 1 2 3 1 0 6-3 0-1-2-2-1-1zM283 452l4 4 4-5-1-3zM291 451l2 1 6-3-3-5-6 4zM391 359l6-3-2-4-5 4 0 2zM401 359l-2 0-5 5 1 2 8-3zM404 368l0-3-1-2-8 3 0 1 3 4z"/><path id="pML" d="M143 439l0-1-2 1-1 2zM282 661l7-2 0-1-2-3-1 0-5 4zM289 659l-7 2 0 1 3 4 0 1 5-5zM220 549l6-3 0-2-3-2-5 2zM225 555l5-2 0-2-2-3-5 5 1 1zM277 640l6-3 0-1-1-2-1-1-6 3 1 4zM280 644l5-5-2-2-6 3 2 4zM281 648l2 3 6-3-1-4-7 2zM230 537l-7 2 0 3 3 2 5-3zM288 644l1 4 2 1 5-7-2-1zM229 521l-2-2-6 4 2 3 6-3zM233 529l-2-3-6 3 0 1 1 2 2 1 5-3zM239 527l0-1-2-4-1-1-5 5 2 3zM242 530l0-1-3-2-6 2 0 1 2 4zM242 529l5-4-1-3-1 0-6 4 0 1zM318 640l-6 2 0 2 3 3 4-6zM313 618l5-4-2-4-5 4zM315 620l6-2-2-4-1 0-5 4zM313 603l2 3 5-3-2-4-1 0zM322 607l0-2-2-2-5 3 0 2 1 2zM277 493l6-4-3-3-1-1-4 5zM286 482l-6 4 3 3 5-4zM292 438l0-1-2-3-1-1-6 5 2 2zM291 424l0-1-3-4-5 5 1 2zM285 427l1 3 7-3-2-3-7 2zM288 419l3 4 5-4-2-3zM298 422l-1-3-1 0-5 4 0 1 2 3zM391 386l2 2 1 0 5-2-1-4-1 0-6 3zM401 388l-1-2-1 0-5 2 2 5zM403 378l-5 4 1 4 1 0 5-4-2-3z"/><path id="pLL" d="M199 542l1 3 1 0 7-3-4-4zM201 545l2 4 6-5-1-2zM209 544l-6 5 3 2 5-2zM204 538l4 4 4-5-1-3-7 3zM209 544l7-1 0-3-2-3-2 0-4 5zM224 554l-1-1-1 0-6 2 0 1 2 3 1 1zM221 562l1 0 4-2 1-1-2-4-1-1-5 6zM212 537l2 0 5-3 0-1-2-3-6 4zM232 556l-2-3-5 2 2 4zM229 562l5-4-1-2-1 0-5 3-1 1zM274 634l1 2 6-3-2-4-2-1zM216 516l-6 3 2 4 5-5 0-2zM220 522l-1-2-2-2-5 5 2 3 1 1zM223 526l-2-3-1-1-5 5 1 2zM217 530l2 3 6-3 0-1-2-3-7 3zM235 548l-5 3 0 2 2 3 1 0 5-5-2-2zM400 375l-5 3 2 4 1 0 5-4-2-3zM416 293l7-3 0-1-2-3-1 0-5 4 1 2z"/><path id="pCY" d="M224 570l-4 4 1 3 7-2 0-2-2-2zM230 578l-2-3-7 2 0 1 3 3zM231 578l-1 0-6 3 2 5 1 0 5-6zM232 580l-5 6 2 2 6-2-2-5zM236 574l-3-4-5 3 0 2 2 3 1 0zM239 579l0-1-3-4-5 4 1 2 1 1zM241 595l0 1 3 3 5-4-1-2zM244 600l2 3 1 0 5-3 0-1-3-4-5 4zM247 603l1 3 7-2-3-4zM257 622l6-3 0-1-1-3-1 0-6 2 0 1zM195 508l2 3 6-4-1-2-2-1-5 3zM197 512l2 3 7-4-2-3-1-1-6 4zM241 582l5-4-1-4-6 4 0 1 1 2zM250 585l0-1-1-2-6 3 2 4 1 0zM248 593l5-4 0-1-3-3-4 4zM248 593l1 2 7-2 0-1-3-3zM262 615l1 3 7-2 0-2-2-3-1 0zM202 505l1 2 1 1 5-4-3-4zM204 508l2 3 0 1 6-4-3-4zM208 515l6-2 0-2-2-3-6 4zM214 501l-5 3 3 4 6-4-2-3zM248 566l3 4 5-4-1-3-2-1zM256 566l-5 4 0 1 1 2 6-2zM251 558l6-3-1-3-1 0-6 3zM253 562l2 1 4-4 0-1-1-2-1-1-6 3 0 2zM255 563l1 3 7-2-4-5zM263 564l-7 2 2 5 1 0 5-5zM251 544l0 1 6-4-3-3-5 2 0 1zM234 504l2 3 6-3-2-3-1-1zM262 537l-2-4-6 3 0 2 3 3zM262 537l-5 4 1 2 7-1 0-2zM240 501l5-5-2-2-6 3 0 1 2 2zM259 530l1 2 7-2-1 0-2-4zM268 532l-1-2-7 2 0 1 2 4 6-4zM296 444l3 5 4-5-1-2zM303 444l-4 5 2 2 0 1 6-4-2-2zM303 455l6-2 0-1-2-4-6 4zM308 438l-3-4-5 4 2 3zM297 409l-5 3 2 4 6-4zM296 419l1 0 5-3-2-4-6 4zM316 397l6-4-3-3-6 3zM322 381l-5 5 2 3 6-4-1-3zM326 386l-1-1-6 4 0 1 3 3 6-4 0-1zM329 378l-2-2-7 2 2 3 2 1zM333 386l-5 2 0 1 2 4 1 0 5-4zM385 375l-1-1-2-3-6 3 0 1 2 3zM381 381l5-3-1-3-7 3zM380 353l1 3 2 0 5-3 0-1-3-3zM383 358l7 0 0-2-2-3-5 3zM386 363l5-4-1-1-7 0 0 2zM389 370l1 0 5-3 0-1-1-2-1-1-6 3zM395 352l0-1-2-2-5 3 0 1 2 3zM385 323l2 4 2 0 4-5-2-2zM394 323l-1-1-4 5 2 3 5-3 0-2zM400 293l2 3 6-3-2-3-1-1zM405 300l6-3-3-4-6 3 0 1 2 3zM410 283l-6 3 1 3 1 1 6-4 0-1zM408 293l6-4-2-3-6 4zM412 285l6-2 0-1-3-4-5 5z"/><path id="pGy" d="M248 620l7-2 0-1-2-3-6 3zM215 262l0-1-1-2-2 1-2 3zM300 397l-1-1-5 4 0 1 1 2 6-2 0-1zM295 403l1 3 1 2 6-4-2-3zM220 258l-1-3-1-1-1 0 2 4-5 1 1 2zM222 261l0-1-2-2-5 3 0 1 1 3 1 1zM308 371l0-1-2-3-1 0-6 3 0 1 2 3 1 0zM304 378l5-4-1-3-6 3zM304 378l3 4 5-4-2-4-1 0zM316 371l-6 3 2 4 6-3zM348 341l-2-3-2-1-4 5 1 2zM349 331l-6 4 1 2 2 1 5-4zM348 341l6-3-1-1-2-3-5 4zM391 318l-2-3-6 4 2 4 6-3z"/><path id="pMD" d="M143 439l2 3 6-3 0-1-8 0zM148 421l0-1-2-2-2 3 1 2zM150 424l-2-3-3 2 2 3zM153 428l-3-4-3 2 1 3 1 0zM148 421l2 3 6-4-2-4-6 4zM156 420l-6 4 3 4 5-5zM153 428l1 2 2 0 5-3-3-4zM162 427l-1 0-5 3 1 4 7-3zM160 438l5-4-1-3-7 3 1 2 1 1zM162 442l6-3 0-1-2-4-1 0-5 4zM158 423l6-3-2-4-6 4zM165 420l-1 0-6 3 3 4 1 0 5-4zM167 423l-5 4 2 4 6-4zM164 431l1 3 1 0 5-3 0-2-1-2zM166 434l2 4 6-3-3-4zM304 643l0 1 3 4 5-4 0-2-2-2-1 0zM312 644l-5 4 1 2 1 1 5-3 1-1zM207 459l5-2-2-5-5 5zM326 641l-2 0 3 1zM331 647l-1-3-1 4zM332 647l-1 0-2 1 0 4 1 1 3-1 0-2zM208 449l0 1 2 2 5-2-1-5-1 0zM229 470l-1-2-1 0-5 3 2 3 6-1zM233 475l1 3 6-4-3-3zM236 481l6-2 0-1-1-3-1-1-6 4 0 1zM238 485l1 1 5-4-2-3-6 2 0 1zM203 401l6-3-3-5-5 5zM255 485l2 1 4-5-2-2-6 3 0 1zM261 481l-4 5 0 2 7-1 0-1zM260 493l5-3-1-3-7 1 0 1zM266 490l-1 0-5 3 0 1 1 3 2 1 4-6zM206 393l6-3-2-4-1 0-5 4 0 1zM210 398l4-5-2-3-6 3 3 5zM259 479l2 2 6-3-2-3-1-1-6 3zM271 486l0-1-2-3-5 4 0 1 1 3 1 0zM274 490l-3-4-5 4 1 2 2 1zM210 360l-11 13 14-8 0-1-2-3zM235 413l5-5-2-2-6 2 2 4zM238 418l2 2 5-5-2-2-6 2 0 1zM238 390l-2-1-5 5 2 3 6-4 0-1zM235 400l7-2 0-1-3-4-6 4zM243 400l-1-2-7 2 0 1 3 4zM240 408l6-2 0-1-2-4-1-1-5 5 0 1zM243 413l5-4-2-3-6 2zM250 409l-2 0-5 4 2 2 7-2-1-1zM252 413l-7 2 2 5 1 0 5-5zM253 415l-5 5 1 2 6-2 0-1zM242 397l0 1 1 2 1 1 6-3 0-1-2-3-2 0zM250 398l-6 3 2 4 6-3 0-1zM255 405l-2-1-3 5 1 3 6-4zM261 415l-1-2-1 0-6 2 2 4 7-2zM262 417l-7 2 0 1 1 2 1 1 6-4zM283 424l-1-1-6 3 1 4 1 0 7-3-1-1z"/><path id="pGO" d="M253 614l6-4-2-3-1 0-5 4zM255 617l6-2-2-5-6 4zM300 412l6-4-3-3 0-1-6 4 0 1zM302 389l-1-4-7 5 2 2 1 1zM305 393l-2-3-1-1-5 4 2 3 1 1zM305 393l-5 4 1 3 7-2 0-1zM308 398l-7 2 0 1 2 3 0 1 7-4 0-1zM303 405l3 3 1 1 4-5-1-3zM219 255l1 3 6-5-6 0zM298 381l0 1 3 3 6-3-3-4zM307 382l-6 3 1 4 1 1 6-3 0-2zM303 390l2 3 6-3 0-1-2-2zM311 390l-6 3 3 4 4-5zM315 382l-3-4-5 4 2 3zM309 387l2 2 6-3-2-4-6 3zM318 375l-6 3 3 4 5-4-1-2zM324 397l2 3 7-3-1-1-1-3-1 0zM330 408l6-3 0-2-1-2-6 3 0 1zM333 411l1 0 4-3-2-3-6 3zM341 412l-2-4-1 0-4 3 1 4zM323 368l-7 2 0 1 2 4 1 1 5-7zM336 389l-5 4 1 3 6-4zM372 381l-2-2-6 2 0 1 3 4zM368 374l6-4-2-3-1 0-5 3 0 1 2 2zM376 375l0-1-2-4-6 4 2 3zM374 382l4-4-2-3-6 2 0 2 2 2zM384 348l1 1 3 3 5-3 0-1-2-3zM378 311l1 1 6-3 0-1-2-3-6 4zM386 311l-1-2-6 3 2 5 6-5zM381 317l1 2 1 0 6-4-2-3zM391 304l2 3 6-2-3-5zM395 312l1 0 5-5-2-2-6 2 0 1zM415 277l0 1 3 4 5-4-1-2zM431 263l0 2 2 2 1 1 1-2-1-4zM437 270l-2-4-1 2 1 2z"/><path id="pLG" d="M271 629l-3-3-5 4 2 3zM238 563l-2-1-4 4 2 3 6-2zM240 567l-6 2-1 1 3 4 6-3zM272 633l2 1 3-6-1-2-5 3zM279 629l2 4 1 1 5-5-3-3zM238 551l1 1 5-5-1-3-1 0-6 5zM241 554l6-1 0-2-1-3-2-1-5 5zM282 623l2 2 6-4-2-3-1 0-5 4zM231 526l5-5 0-2-7 2 0 2zM238 537l3 4 5-4-3-4zM243 544l6-3 0-1-2-3-1 0-5 4 0 1 1 2zM244 547l2 1 5-4-2-3-6 3zM247 551l6-2 0-1-2-3 0-1-5 4zM233 515l2 3 5-3 0-1-1-2zM251 519l-1-1-4 4 1 3 1 0 5-3zM246 511l1 1 5-5-1-2-1-1-5 4zM253 496l7-2 0-1-3-4-5 3zM256 500l5-3-1-3-7 2 0 1zM264 499l-1-1-2-1-5 3 3 4 5-3zM317 585l-6 3 0 1 2 3 1 0 4-5zM322 592l-4-5-4 5 1 3zM318 599l6-3-2-4-7 3 2 4zM325 585l-2-5 0-1-6 5 0 1 1 2zM327 588l-1-3-1 0-7 2 4 5zM287 471l-5 3 2 4 6-3 0-1-2-3zM294 480l-1-1-1 0-6 3 2 3 6-3zM288 485l2 3 6-3-2-3zM301 479l0-1-3-4-1 0-4 5 1 1zM300 423l-2-1-5 5 2 3 6-4zM305 418l-2-2-1 0-5 3 1 3 2 1zM307 422l-2-4-5 5 1 3zM303 431l2 3 6-4 0-1-1-2-7 1zM373 409l0 1 7-1 0-2-3-3-4 4zM376 401l5-6-1-1-6 2 0 2zM377 389l3 4 5-4 0-1-1-2-1 0zM388 381l2 1 5-4-3-3-6 3zM398 371l-6 3 0 1 3 3 5-3z"/><path id="pCy" d="M243 585l6-3-1-1-2-3-5 4zM245 574l1 4 6-4 0-1-1-2-7 3zM258 584l-1-2-1 0-6 2 0 1 3 3zM256 592l5-4-1-2-2-2-5 4 0 1zM264 593l-2-5-1 0-5 4 0 1 1 2zM265 607l2 4 1 0 5-4-2-3zM253 548l0 1 2 3 1 0 4-4-1-3zM261 548l-1 0-4 4 1 3 1 1 5-5zM303 416l5-6-1-1-1-1-6 4 2 4zM305 418l6-3-2-4-1-1-5 6zM307 422l1 1 5-4-2-4-6 3zM329 445l2 3 6-4-2-2-1-1-5 3zM358 453l0-3-1-2-2 0-4 4 2 3zM352 456l2 3 1 1 5-4-2-3-5 2zM393 322l1 1 4-5 0-1-7 1 0 2z"/><path id="pLY" d="M242 571l6-5-3-3-5 4zM242 571l2 3 7-3 0-1-3-4zM247 553l-6 1 0 3 2 2 1 1 4-6zM244 560l1 1 6-1 0-2-2-3-1-1zM245 561l0 2 3 3 5-4-2-2zM258 571l-6 2 0 1 3 3 5-3-1-3zM273 607l7-3-3-4-6 4zM278 614l5-4-1-3-7 3 0 2 2 2zM215 490l-1-4-1-1-5 4 0 1 2 3zM287 602l-1-2-1-1-5 5 2 3 5-3zM282 607l1 3 7-2 0-1-3-3zM291 611l-1-3-7 2 3 4zM264 566l6-3 0-1-2-4-1 0-4 6zM248 525l2 3 6-2-2-4-1 0zM252 533l2 3 6-3 0-1-1-2-2-1zM252 507l-5 5 1 2 7-2zM259 519l-5 3 2 4 0 1 6-4 0-1zM256 527l1 2 2 1 5-4 0-1-2-2zM259 504l-3-4-5 5 1 2 7-2zM260 507l-1-2-7 2 3 5zM255 512l2 3 1 0 5-4-1-3-2-1zM267 504l-3-3-5 3 0 1 1 2 2 1zM263 511l1 1 5-4-2-4-5 4zM266 515l5-3 0-1-2-3-5 4zM267 504l5-4-1-3-7 2 0 2zM271 511l7-2 0-1-3-4-6 4zM282 515l-3-4 0-1-5 6 2 2zM295 457l-6 2-1 1 2 3 1 1 6-5zM295 441l-3-1-4 5 1 1 1 2 6-4zM299 449l-6 3 2 4 6-5zM328 496l-1-3-7 2 0 1 3 4zM302 441l-2-3-1-1-4 4 1 3 6-2zM295 430l3 3 5-2 0-3-2-2zM301 426l2 2 7-1 0-1-2-3-1-1zM364 407l6-3-2-4-1-1-5 6zM380 419l-4-4 0-1-5 4 2 4zM373 410l3 4 0 1 5-4-1-2zM384 386l4-5-2-3-5 3 0 1 2 4zM385 388l6-2 0-1-1-3-2-1-4 5zM387 366l6-3-2-4-5 4 0 1zM398 371l-3-4-5 3 2 4zM393 363l1 1 5-5-1-3-1 0-6 3zM393 349l2 2 7-2 0-1-2-3-1 0-6 3zM406 305l-1-5-1 0-5 5 2 2zM401 307l2 5 6-4-1-3-2 0zM415 290l-1-1-6 4 3 4 5-5zM411 297l1 2 2 1 5-3-3-4 0-1z"/><path id="pLO" d="M255 577l-3-3-6 4 2 3zM260 574l-5 3 1 5 1 0 6-4-1-2-1-1zM271 604l6-4-2-3-6 2zM266 569l-2-3-5 5 1 3 1 1zM267 570l-1-1-5 6 1 1 7-2zM275 585l0-1-1-2-6 2 0 1 2 3 1 1zM272 592l6-4-3-3-4 4zM278 588l-6 4 3 2 6-1 0-1-2-4zM275 597l2 3 5-4 0-1-1-2-6 1zM273 567l-3-4-6 3 2 3 1 1zM275 570l-2-3-6 3 2 4zM275 584l0 1 3 3 1 0 4-3-2-3zM281 593l1 2 6-3 1-1-2-3-6 4zM275 558l-1-3-1 0-5 3 2 4 5-3zM270 562l0 1 3 4 5-5-3-3zM248 514l0 1 2 3 1 1 6-4-2-3zM258 515l-1 0-6 4 2 3 1 0 5-3 0-1zM274 555l5-4-1-2-1-1-6 3 0 1 2 3zM274 555l1 3 7-3-3-4zM278 562l6-3-2-4-7 3 0 1zM282 555l5-4-1-3-7 3zM291 556l-2-4-2-1-5 4 2 4zM301 584l0 2 1 2 1 0 5-3-2-4zM313 592l-2-3-5 3 1 3zM268 519l5-4-2-3-5 3-1 1 2 3zM270 522l6-4-2-2-1-1-5 4zM283 530l-3-4-5 4 1 3 1 1zM317 584l-2-3-6 4 2 3 6-3zM283 530l5-6-2-1-6 3zM288 525l0-1-5 6 2 2 6-3zM291 529l-6 3 0 1 2 4 1 0 5-4zM312 577l2 3 6-3-1-4-1 0zM293 518l-1-1-6 5 0 1 2 1 0 1 6-3zM297 526l-3-4-6 3 3 4zM320 577l2 1 5-5-1-2-2-1-5 3zM296 511l-3-4-5 4 2 4 1 0zM298 500l-6 3 0 1 1 2 7-1 0-2zM293 507l3 4 5-4-1-2-7 1zM290 475l2 4 1 0 4-5-1-2-6 2zM293 467l6-5-2-3-6 5zM296 470l6-3-3-4 0-1-6 5zM296 472l1 2 1 0 5-3-1-4-6 3zM299 463l3 4 6-3 0-1-2-3zM302 467l1 4 2 1 4-5-1-3zM318 493l4-5-2-3-5 4 0 1 2 3zM324 489l-2-1-4 5 2 2 7-2zM329 484l-1-2-1 0-6 2-1 1 2 3 2 1 5-4zM327 493l5-5-3-3-5 4zM328 496l7-3 0-1-2-3-1-1-5 5zM334 506l0 1 3 4 1 0 4-6-1-1zM342 493l-5 3 2 4 6-3 0-2zM341 504l6-4-2-3-6 3zM322 458l6-2-3-4-5 3 0 1zM325 437l-1-1-5 6 2 2 5-3 1-2zM329 456l4-5-2-2-6 2 0 1 3 4zM331 459l5-3 0-1-3-4-4 5 1 3zM335 467l5-4 0-1-1-2-7 2 0 1zM340 463l-5 4 1 2 7-1 0-2zM345 470l-2-2-7 1 0 1 3 4 6-3zM345 471l-6 3 0 2 2 2 1 1 5-5zM348 475l-1-1-5 5 1 2 1 1 5-4 1-2zM336 455l5-3-2-3 0-1-6 3zM339 460l4-5-1-3-1 0-5 3 0 1zM347 460l-7 2 0 1 3 3 5-4zM355 485l2 4 6-4 0-1-2-2zM324 422l0 2 1 2 6-3-1-3zM331 423l-6 3 4 4 4-5 0-1zM339 448l0 1 7-3-1-2-1-3-6 4zM348 448l-2-2-7 3 2 3 1 0 6-3zM342 452l1 3 2 1 4-5-1-2zM347 433l-2-2-6 2-1 1 3 3 1 1zM343 425l5-3-2-3 0-1-6 3 0 2zM343 425l0 1 2 3 5-3-2-4zM367 425l-1-1-7 1 0 3 1 1 2 1 5-4zM366 437l5-4-1-3-1 0-6 3zM353 404l3 4 5-4-2-3zM361 404l-5 4 2 3 6-3 0-1-2-2zM358 411l2 3 1 1 5-4 0-1-2-2zM367 425l0 1 2 4 1 0 5-4-2-3zM359 401l2 3 1 1 5-6-1-1-7 2zM366 397l5-4-2-4-6 4z"/><path id="pLy" d="M248 581l1 1 1 2 6-2-1-5zM268 611l2 3 5-2 0-2-2-3zM272 619l5-5-2-2-5 2 0 2zM279 617l-1-3-1 0-5 5 2 3 1 1zM280 618l-1-1-4 6 1 1 6-1 0-1zM257 582l1 2 2 2 5-5-2-3zM260 586l1 2 1 0 6-3 0-1-2-3-1 0zM273 607l2 3 7-3-2-3zM286 615l0-1-3-4-5 4 1 3 1 1zM287 618l-1-3-6 3 2 4zM269 574l-7 2 1 2 2 3 1 0 4-4zM270 577l-4 4 2 3 6-2 0-2-2-3zM280 604l5-5-3-3-5 4zM269 574l1 3 2 0 5-4-2-3zM274 580l6-3 0-1-2-3-1 0-5 4zM275 570l5-4-2-4-5 5zM278 573l5-3 0-1-1-2-2-1-5 4 2 3zM280 566l2 1 4-4-2-4-6 3zM283 569l0 1 3 4 4-5-1-2zM306 474l-1-2-2-1-5 3 3 4zM320 456l0-1-2-2-6 2 2 5zM320 469l0 2 2 3 1 0 5-3 0-2-2-2zM325 478l6-4-3-3-5 3 1 3zM325 478l2 4 1 0 5-5-2-3zM320 455l5-3 0-1-2-3-5 5zM330 459l-1-3-1 0-6 2 0 2 3 3zM326 467l6-4 0-1-1-3-1 0-5 4zM326 467l2 2 7-2-3-4zM310 426l5-5-1-1-1-1-5 4zM321 445l2 3 6-3 0-1-3-3-5 3zM325 451l6-2 0-1-2-3-6 3zM331 459l1 3 7-2-3-4zM333 451l6-3-1-3-1-1-6 4 0 1zM354 459l-5 4 2 3 6-3-2-3zM354 470l4-5-1-2-6 3 0 1 1 2zM362 471l-2-5-2-1-4 5 2 3zM368 467l-3-4-5 3 2 5z"/><path id="pMG" d="M279 629l5-3 0-1-2-2-6 1 0 2 1 2zM287 629l-5 5 1 2 7-3zM291 621l-1 0-6 4 0 1 3 3 5-4zM287 629l3 4 4-5-2-3zM288 618l6-4-3-3-5 3 0 1 1 3zM297 618l-3-4-6 4 2 3 1 0zM299 622l0-1-2-3-6 3 1 4zM292 625l2 3 2 0 4-3-1-3zM237 522l6-3 0-1-3-3-5 3 1 1 0 2zM237 522l2 4 6-4-2-3zM250 530l0-2-2-3-1 0-5 4 0 1 1 2zM246 537l1 0 4-5-1-2-7 2 0 1zM249 540l5-2 0-2-2-3-1-1-4 5zM252 533l5-4-1-2 0-1-6 2 0 2 1 2zM320 603l5-4-1-3-6 3zM336 573l-7 3 0 2 1 1 2 1 5-2 0-2zM340 581l-3-3-5 2 1 5zM336 588l1 1 4-5-1-3-7 4zM336 573l1 3 7-2-2-4-2-1zM292 479l-2-4-6 3 0 1 2 3zM288 471l2 3 6-2 0-2-3-3zM375 426l3 3 5-3 0-1-2-3 0-1zM384 401l0-1-3-5-5 6 1 1zM380 393l0 1 1 1 7-1 0-1-3-4zM390 396l-1-1-1-1-7 1 3 5zM384 401l1 3 1 0 6-4-2-4-6 4zM388 393l5-5-2-2-6 2 0 1zM400 345l2 3 5-3 0-2-1-2-2-1zM404 327l0-1-2-3-1 0-5 2 0 2 2 2zM401 335l4-6-1-2-6 2 0 2 2 3zM404 340l2 1 5-4-2-3-7 3zM396 312l2 3 5-2 0-1-2-5zM400 319l5-3-2-3-5 2 0 2 0 1zM407 319l-2-3-5 3 1 4 1 0zM405 329l2 0 5-3-2-4-6 4 0 1z"/><path id="pMO" d="M282 580l-2-3-6 3 0 2 1 2 6-2zM293 600l-2-4-1-1-4 5 1 2zM294 600l-1 0-6 2 0 2 3 3 5-4 0-1zM290 607l0 1 1 3 7-4-3-4zM294 614l5-4-1-3-7 4zM297 618l5-4-1-3-2-1-5 4zM299 621l6-2 0-2-2-3-1 0-5 4zM248 514l-1-2-1-1-6 3 0 1 3 3 5-3zM243 518l0 1 2 3 1 0 4-4-2-3zM282 580l6-3-2-3-6 2 0 1zM302 614l1 0 5-3 0-2-1-2-6 4zM307 621l6-3-2-4-6 3 0 2zM307 596l0-1-1-3-2-1-4 4 1 3zM316 610l-1-2-7 1 0 2 3 3zM304 591l2 1 5-3 0-1-2-3-1 0-5 3zM309 598l0 1 6-4-1-3-1 0-6 3 0 1zM323 579l-1-1-2-1-6 3 1 1 2 3zM308 530l1 3 1 0 5-3-2-4-5 3zM320 537l-2-3-6 4 2 2 1 1zM317 518l-3-4-4 6 0 1 1 0 6-2zM311 521l2 5 7-3-3-4zM313 526l2 4 3 1 4-3 1-4-3-1zM312 510l6-3-2-5-6 5 1 1zM314 514l3 4 5-4-1-2zM322 514l-5 4 0 1 3 4 3 1 2-2 0-4-1-3zM315 490l-6 3 3 4 5-4zM312 497l1 3 2 1 5-5 0-1-2-2-1 0zM316 502l7-1 0-1-3-4-5 5zM324 503l-1-2-7 1 2 5 1 0zM327 507l-2-3-1-1-5 4 2 4zM321 512l1 2 2 1 4-4-1-4-6 4zM325 518l7-4-2-3-2 0-4 4zM319 483l-7 1 1 2 2 3 5-4 1-1zM328 511l2 0 4-4 0-1-1-2-6 3zM331 500l6-4-2-3-7 3zM333 503l6-3-2-4-6 4zM336 482l-3-4 0-1-5 5 1 2zM337 496l5-3 0-1-2-3-5 3 0 1zM339 474l-3-4-5 4 2 3 0 1 6-2zM355 499l-5 4 0 1 1 2 1 0 5-3 0-1-1-2zM357 503l-5 3 2 4 4-2 0-4zM355 514l4-1 0-1-1-4-4 2 0 2zM355 514l0 1 2 2 2-4zM350 493l2 3 1 0 6-3 0-1-2-3zM361 495l-2-2-6 3 2 3 1 1 5-4zM361 496l-5 4 1 2 1 0zM357 502l0 1 1 1 0-1 0-1zM368 441l0-1-2-2-6 2 1 3 1 1zM366 452l6-4-3-4-5 3 0 2zM375 451l-2-3-1 0-6 4 2 3 2 1zM380 394l0-1-3-4-5 4 2 3z"/><path id="pLR" d="M279 588l2 4 6-4-3-3-1 0zM290 595l-2-3-6 3 0 1 3 3 1 1zM283 585l1 0 6-4-2-4-6 3-1 2zM290 581l-6 4 3 3 6-4-2-3zM287 588l2 3 6-2 0-2-2-3zM296 591l-1-2-6 2-1 1 2 3 1 1 6-4zM299 595l-2-3-6 4 2 4 1 0zM301 599l0-1-1-3-1 0-5 5 1 2zM300 595l4-4-1-3-1 0-6 3 1 1 2 3zM276 544l6-3 0-1-3-3-6 4zM279 551l7-3 0-1-1-3-1 0-6 5zM298 581l3 3 5-3-2-4-1 0-5 3zM287 537l-2-4-6 4 3 3zM289 539l-1-2-1 0-5 3 0 1 2 3 1 0 4-4zM285 544l1 3 6-2 0-2-3-3zM286 547l0 1 1 3 2 1 5-4-2-3zM294 548l-5 4 2 4 5-5zM297 566l0 1 6-5-2-3-5 3-1 1zM306 567l-1-1-6 3 0 1 3 3 5-4zM302 573l0 1 1 3 1 0 6-4-2-3-1-1zM306 581l6-4-2-4-6 4zM308 585l1 0 6-4-1-1-2-3-6 4zM286 523l0-1-2-3-6 4 2 3zM293 533l-5 4 1 2 7-1 0-1-2-4zM292 543l5-3-1-2-7 1 0 1zM308 570l2 3 6-3 0-1-2-3zM310 573l2 4 6-4-2-3zM279 511l3 4 0 1 5-5-2-2zM282 516l2 2 6-3-2-4-1 0zM291 515l-1 0-6 3 0 1 2 3 6-5zM297 526l-6 3 2 4 1 0 5-4zM299 529l-5 4 2 4 5-4 0-1-1-3zM322 578l1 1 0 1 6-2 0-2-1-3-1 0zM291 515l1 2 1 1 5-2 0-2-2-3zM301 519l-3-3-5 2 1 4zM317 558l6-2 0-1-2-4-5 5zM317 558l2 4 1 0 5-3-2-3zM320 562l2 4 6-2 0-2-2-3-1 0zM298 500l-2-3-2-1-4 3 0 2 2 2zM301 507l-5 4 2 3 6-3-2-4zM325 559l1 0 5-5-1-2-7 3 0 1zM326 559l2 3 6-3-2-5-1 0zM328 562l0 2 2 1 7-3-3-3zM299 489l-6 3 1 4 2 1 5-5zM304 497l-3-5-5 5 2 3zM306 499l-2-2-6 3 2 3 6-3zM300 503l0 2 1 2 1 0 5-3-1-4zM302 507l2 4 7-3-1-1-3-3zM330 540l-4 4 1 3 7-2zM331 554l1 0 6-2 0-2-3-3-5 5zM340 555l-2-3-6 2 2 5zM296 485l1 1 4-6 0-1-7 1 0 2zM297 486l2 2 6-3-2-3-2-2zM299 488l0 1 2 3 6-2-2-5zM308 492l-1-2-6 2 3 5zM309 493l-1-1-4 5 2 2 6-2zM307 504l6-4-1-3-6 2 0 1zM340 555l5-5-2-2-5 2 0 2zM303 482l6-4-1-1-2-3-5 4 0 1 0 1zM307 490l6-4-1-2-1-2-6 3zM343 547l0 1 2 2 2 1 2-2 0-5zM348 555l2 4 0-5zM316 478l-5 3 0 1 1 2 7-1 0-2-2-3zM312 455l-2 0-4 5 2 3 6-3zM308 463l0 1 1 3 2 0 4-4-1-3zM314 474l2 4 1 0 5-4-2-3zM319 481l5-4-1-3-1 0-5 4zM319 483l2 1 6-2-2-4-1-1-5 4zM339 500l-6 3 0 1 1 2 7-2zM339 513l6-3-2-4-1-1-4 6zM342 505l1 1 7-2 0-1-2-3-1 0-6 4zM346 511l5-5-1-2-7 2 2 4zM305 434l3 4 6-4-3-4zM316 437l-2-3-6 4 1 2 2 1 5-3zM318 441l-2-3-5 3 1 4 1 0zM340 488l0 1 2 3 6-4-2-3-1 0zM348 488l-6 4 0 1 3 2 5-2zM353 496l-1 0-4 4 2 3 5-4zM314 434l5-4-2-3-6 2 0 1zM316 437l6-3 0-1-1-2-2-1-5 4zM345 485l1 0 6-4-3-3-5 4zM352 481l-6 4 2 3 7-3-2-3zM315 408l-6 3 2 4 6-3 0-1zM318 414l-1-2-6 3 2 4 1 1zM315 421l1 1 6-3-4-5-4 6zM319 430l2 1 4-5-1-2-6 2-1 1zM321 431l1 2 7-3-4-4zM331 433l-2-3-7 3 0 1 2 2 1 1zM339 460l1 2 7-2 0-2-2-2-2-1zM348 462l-5 4 0 2 2 2 6-3 0-1-2-3zM351 467l-6 3 0 1 2 3 1 1 4-6zM356 473l-2-3-2-1-4 6 2 1 5-1zM350 476l-1 2 3 3 1 1 4-4-2-3zM360 480l-1-1-2-1-4 4 2 3 6-3zM321 404l-1 0-5 4 2 3 5-4zM330 418l-2-2-2-1-4 4 2 3 6-2zM351 452l-2-1-4 5 2 2 5-2 1-1zM347 458l0 2 1 2 1 1 5-4-2-3zM357 478l2 1 4-6-1-2-6 2-1 2zM366 478l0-1-2-4-1 0-4 6 1 1zM344 441l5-4-2-4-5 5zM345 444l7-2 0-1-3-4-5 4zM353 445l-1-3-7 2 1 2 2 2zM353 445l-5 3 0 1 1 2 2 1 4-4zM352 427l-2-1-5 3 0 2 2 2 6-3 0-1zM353 430l3 4 4-5-1-1-6 1zM373 422l-2-4-1-1-5 5 1 2 1 1 6-2z"/><path id="pDG" d="M300 625l2 0 5-4-2-2-6 2 0 1zM339 596l0-2-1-2-6 3 2 4zM334 599l1 2 4-5zM370 430l1 3 1 0 6-4-3-3zM378 429l-6 4 2 4 6-4zM380 434l0-1-6 4 2 4 6-4 0-1zM382 437l-6 4 2 3 3 1 1-5 1-2zM386 430l-3-4-5 3 2 4 0 1zM384 435l2-5-6 4 2 2zM382 436l0 1 1 1 1-3zM377 404l3 3 5-3-1-3-7 1zM381 411l2 1 4-6-1-2-1 0-5 3 0 2zM388 394l1 1 7-2-2-5-1 0-5 5zM396 393l-7 2 1 1 2 4 6-4z"/><path id="pDY" d="M309 625l-5 4 2 3 6-3zM269 508l6-4-2-4-1 0-5 4zM273 515l1 1 5-6-1-1-7 2 0 1zM334 599l-2-4-6 4 2 4zM277 493l-2-3-1 0-5 3 2 4zM275 504l6-3-2-4-6 3zM275 504l3 4 5-5-2-2zM283 503l-5 5 0 1 1 1 0 1 6-2 0-2zM281 501l2 2 7-2 0-2-3-3-1 0z"/><path id="pBY" d="M312 629l-6 3 0 1 1 3 1 0 6-3 0-1zM308 636l1 4 1 0 6-5-2-2zM320 603l2 2 6-2-2-4-1 0z"/><path id="pMR" d="M286 574l-3-4-5 3 2 3zM301 599l-6 3 0 1 3 4 6-4zM298 607l1 3 2 1 6-4 0-1-3-3zM311 614l-3-3-5 3 2 3zM304 603l3 3 5-3-3-4 0-1zM315 608l0-2-2-3-1 0-5 3 0 1 1 2zM292 558l-1-2-7 3 2 4 2 1zM295 563l1-1-4-4-4 6 1 1zM289 567l1 2 1 0 6-3-2-3-6 2zM296 551l-5 5 1 2 6-3zM298 555l-6 3 4 4 5-3zM299 569l6-3-2-4-6 5zM304 551l0-1-1-1-7 2 2 4zM329 578l-6 2 2 5 1 0 4-6zM306 514l-2-3-6 3 0 2 3 3zM307 515l-1-1-5 5 1 2 8-1zM302 521l0 1 4 4 4-5 0-1zM310 521l-4 5 2 3 5-3-2-5zM311 537l1 1 6-4 0-3-3-1-5 3zM322 541l0-2-1-2-1 0-5 4 1 2zM324 544l-2-3-6 2 1 2 2 3zM312 510l-1-2-7 3 2 3 1 1 6-3zM314 514l-1-2-6 3 3 5zM321 537l5-4-4-5-4 3 0 3 2 3zM329 538l0-1-3-4-5 4 1 2zM330 540l0-1-1-1-7 1 0 2 2 3 2 0zM313 500l-6 4 3 3 6-5-1-1zM319 507l-1 0-6 3 1 2 1 2 7-2 0-1zM326 533l5-4-1-3-5-4-2 2-1 4zM333 530l-2-1-5 4 3 4 5-5zM337 536l-2-3-1-1-5 5 0 1 1 1 7-1zM338 539l-1-1-7 1 0 1 4 5zM343 548l0-1-2-4-6 4 3 3zM315 489l-2-3-6 4 1 2 1 1 6-3zM325 522l9-3 0-2-2-3-7 4zM325 522l5 4 6-3 0-1-2-3zM338 525l-2-2-6 3 1 3 2 1zM340 528l-2-3-5 5 1 2 1 1 6-3zM348 541l-7 2 2 4 6-3 0-1zM330 511l2 3 5-3-3-4zM351 533l-5 3 2 4 2-1zM348 540l0 1 1 2 1-4zM332 488l1 1 4-4-1-3-7 2 0 1zM333 489l2 3 5-3 0-1-3-3zM354 512l0-2-2-4-1 0-5 5 1 3zM343 481l-1-2-1-1-5 4 1 3zM340 488l5-3-1-3-1-1-6 4zM345 495l0 2 2 3 1 0 4-4-2-3zM355 485l-7 3 2 5 7-4zM357 448l4-5-1-3-7 5 2 3zM369 444l-1-3-6 3 2 3zM369 430l-2-4-5 4 1 3z"/><path id="pMy" d="M288 564l-2-1-4 4 1 2 6-2 0-2zM309 598l-2-2-6 2 0 1 3 4zM315 595l-6 4 3 4 1 0 4-4zM337 589l1 2 2-1 0-1 1-5zM328 469l0 2 3 3 5-4 0-1-1-2zM341 478l-2-2-6 2 3 4zM357 463l5-4-2-3-5 4zM363 460l-1-1-5 4 1 2 2 1 5-3 0-1zM370 471l0-2-2-2-6 4 1 2 1 0zM360 456l6-4-2-3-6 1 0 3zM368 455l-2-3-6 4 2 3 1 1zM371 459l0-1-1-2-2-1-5 5 2 2z"/><path id="pCR" d="M286 574l2 3 6-3-3-5-1 0zM288 577l2 4 1 0 5-4-2-3zM291 581l2 3 5-3 0-1-2-3zM295 587l6-1 0-2-3-3-5 3zM296 591l6-3-1-2-6 1 0 2zM278 549l6-5-2-3-6 3 1 4zM294 574l5-4 0-1-2-2 0-1-6 3zM296 577l6-3 0-1-3-3-5 4zM303 577l-1-3-6 3 2 3zM271 525l1 0 6-2-2-5-6 4 0 1zM306 567l1 2 1 1 6-4-2-3-1-1zM312 563l5-5-1-2-1 0-6 2 0 2 2 2zM309 453l-6 2-1 1 4 4 4-5zM308 438l-6 3 0 1 1 2 2 2 4-6zM311 441l-2-1-4 6 2 2 5-3zM312 445l-5 3 2 4 5-4-1-3zM314 448l2 1 5-4 0-1-2-2-1-1-5 4zM311 429l6-2 1-1-2-4-1-1-5 5 0 1zM319 442l5-6-2-2-6 3 0 1 2 3zM324 422l-2-3-6 3 2 4 6-2zM320 404l-2-3-5 3 2 4zM322 407l-5 4 0 1 1 2 7-2zM326 400l-2-3 0-1-6 5 2 3 1 0zM329 405l0-1-3-4-5 4 1 3zM347 433l2 4 7-3-3-4zM358 437l-2-3-7 3 3 4zM353 445l7-5-2-3-6 4 0 1zM358 450l6-1 0-2-2-3-1-1-4 5zM359 428l0-3-2-3-5 5 1 2zM345 404l2 3 1 1 5-4-2-3zM358 411l-2-3-6 3 0 1 1 3 1 0zM366 424l-1-2-3-3-5 3 2 3zM366 411l-5 4 1 3 6-3zM361 389l-1-1-5 5 3 3 5-3zM363 393l-5 3 0 2 1 2 7-2 0-1zM385 334l-1 0-6 3 2 3 0 1 6-3 0-1zM377 323l5-4-1-2-6 1 0 2 1 3zM385 323l-2-4-1 0-5 4 3 3zM382 329l1 1 4-3-2-4-5 3 0 1z"/><path id="pMY" d="M271 497l-2-4-2-1-4 6 1 1zM324 596l6-4-3-4-5 4zM325 599l1 0 6-4-2-3-6 4zM332 580l-2-1-4 6 1 3 6-3zM330 592l2 3 6-3 0-1-1-2-1-1zM166 324l0 1 2 7 13-4 1-11-6 1zM285 467l0-1-6 4 0 1 2 3 1 0 5-3zM288 460l-6 2 0 1 3 3 0 1 5-4zM291 464l-1-1-5 4 2 4 1 0 5-4zM331 500l-3-4-5 4 0 1 1 2 1 1zM333 503l-2-3-6 4 2 3 6-3zM295 430l-5 4 2 3 6-4zM298 433l-6 4 0 1 0 2 3 1 4-4zM303 431l-5 2 1 4 1 1 5-4zM374 437l-2-4-1 0-5 4 0 1 2 2zM364 408l2 2 7-1 0-1-3-4-6 3zM368 400l2 4 6-3-2-3zM370 404l3 4 4-4 0-2-1-1zM380 419l5-5-2-2-2-1-5 4zM381 421l0 1 7-4-3-4-5 5zM397 382l-2-4-5 4 1 3z"/><path id="pLX" d="M298 540l-1 0-5 3 0 2 2 3 5-4zM303 549l-3-5-1 0-5 4 2 3zM306 555l-2-4-6 4 3 4zM309 558l-2-2-1-1-5 4 2 3 6-2zM309 560l-6 2 2 4 1 1 5-5zM298 540l1 4 1 0 6-3 0-1-2-3zM300 544l3 5 5-5-2-3zM311 547l-1-2-2-1-5 5 1 1 7-1zM304 550l0 1 2 4 1 1 5-5-1-2zM315 556l-2-5-1 0-5 5 2 2zM316 570l2 3 1 0 5-3-2-3-6 2zM319 548l-2-3-6 2 0 2 1 2 1 0zM328 564l-6 2 0 1 2 3 2 1 4-6zM326 571l1 2 1 0 5-3 0-1-3-4zM321 551l6-3 0-1-1-3-2 0-5 4zM323 555l7-3-3-4-6 3zM330 565l3 4 5-4-1-2 0-1zM335 547l-1-2-7 2 0 1 3 4zM337 562l0 1 5-4 0-2-2-2-6 4zM334 545l1 2 6-4-1-3-2-1zM345 550l-5 5 2 2 6-2-1-4zM348 555l-6 2 0 2 2 3 6-3zM311 482l0-1-2-3-6 4 2 3zM347 551l1 4 2-1-1-5zM311 467l-2 0-4 5 1 2 6-3 0-2zM306 474l2 3 6-3-2-3zM309 478l2 3 5-3-2-4-6 3zM336 523l2 2 6-3 0-1-2-3-6 4zM338 525l2 3 6-2 1-1-3-3zM347 529l-1-3-6 2 1 2 2 3zM315 463l-4 4 1 2 6-2 0-1-1-2zM312 469l0 2 2 3 6-3 0-2-2-2zM340 515l2 3 5-4-1-3-1-1-6 3zM350 518l-3-4-5 4 2 3zM350 518l-6 3 0 1 3 3 5-3zM352 522l-5 3-1 1 1 3 2 0 5-4zM322 460l0-2-2-2-6 4 1 3 2 1zM318 466l7-3-3-3-5 4zM318 467l2 2 6-2-1-4-7 3zM348 422l7-2-1-2-2-3-1 0-5 4z"/><path id="pDR" d="M296 537l0 1 1 2 1 0 6-3 0-1-3-3zM286 496l-2-3-5 3 0 1 2 4zM284 493l2 3 1 0 5-4-2-3-6 3zM293 492l-1 0-5 4 3 3 4-3z"/><path id="pCX" d="M314 566l5-4-2-4-5 5zM316 569l6-2 0-1-2-4-1 0-5 4zM348 422l2 4 2 1 5-5-2-2zM363 433l-1-3-2-1-4 5 2 3z"/><path id="pDy" d="M333 585l-6 3 3 4 6-4zM338 591l0 1 1 2 1-4zM368 482l-5 2 0 1 1 3 1 0 5-6zM366 477l6-3-2-3-6 2zM366 478l2 4 2 0 2-2 2-4-2-2-6 3zM365 463l3 4 5-5-2-3-6 3zM373 462l-5 5 2 2 4-1 2-3zM372 474l3-2-2-4 1 0-4 1 0 2zM372 474l2 2 1-3 0-1zM373 462l3 3 1-2 0-4zM376 452l1 2 1 0 2-6z"/><path id="pMX" d="M302 522l0-1-1-2-7 3 3 4zM306 526l-4-4-5 4 2 3 1 0zM316 543l-1-2-1-1-4 5 1 2 6-2zM321 551l-2-3-6 3 2 5 1 0zM328 573l1 3 7-3-3-3zM336 573l4-4-1-3-1-1-5 4 0 1zM341 530l-6 3 2 3 6-3zM338 539l2 1 5-4-2-3-6 3 0 2zM346 536l-1 0-5 4 1 3 7-2 0-1zM332 514l2 3 6-2-1-2-1-2-1 0zM334 519l2 3 6-4-2-3-6 2zM347 529l-4 4 2 3 1 0 5-3 0-1-2-3zM349 529l2 3 1 0 0-2 2-5zM351 532l0 1 1-1zM355 514l-1-2-7 2 3 4 5-3zM356 519l1-2-2-2-5 3 2 4zM354 525l2-6-4 3zM360 440l6-2 0-1-3-4-5 4z"/><path id="pBG" d="M345 575l-1-1-7 2 0 2 3 3 4-3 1-2zM341 584l1-3 2-3-4 3zM345 563l-6 3 1 3 2 1 4-3-1-2 1 0zM342 570l2 4 3-3 1-1-2-3zM344 574l1 1 2-4zM344 562l1 1 1 2 4-5 0-1zM375 426l6-5-1-2-7 3 0 1zM388 418l-7 4 2 3 7-2 0-1zM383 425l0 1 3 4 0-1 5-4-1-2zM390 422l0 1 1 2 2-1 1-4z"/><path id="pBX" d="M338 565l1 1 6-3-1-1-2-3-5 4z"/><path id="pOB" d="M204 305l8-7-1-3-1 0-3 1-3 3zM212 285l-1 5 3-3-2-3zM210 295l1 0 5-5-2-3-3 3 0 2-2 1zM220 283l-2-3-6 4 2 3 6-3zM218 279l0 1 2 3 6-3-3-3z"/><path id="pyO" d="M247 339l-1 0-6 3 0 1 2 3 1 0 6-4zM280 379l1 3 7-3-2-4-6 3zM290 367l-2 0-4 5 2 2 5-2zM288 379l6-4-3-3-5 2 0 1zM288 379l2 3 6-3-2-4zM395 286l-6 3 0 2 2 2 2 1 4-5 0-1zM397 274l-1 0-5 4 1 2 1 2 5-4zM391 264l1 3 6-3 0-1-1-3-2 0zM392 267l0 1 2 2 0 1 6-4-2-3zM401 267l-1 0-6 4 2 3 1 0 5-2zM411 271l0-1-1-2-2-1-5 5 2 2zM408 278l5-3-2-4-6 3 0 1zM408 280l2 3 5-5 0-1-2-2-5 3zM413 275l6-4-2-3-6 2 0 1zM422 275l-2-4-1 0-6 4 2 2 7-1zM428 271l-3-3-5 3 2 4 6-3z"/><path id="pRy" d="M235 320l5-5-1-2-7 3zM235 321l2 2 6-3-2-4-1-1-5 5zM219 268l1 0 5-3-3-4-5 5zM268 268l6-3-2-4-6 2 0 3zM276 268l-2-3-6 3 2 4 1 0zM276 253l2 4 6-3 0-1-2-3 0-1zM281 247l5-6-3-2-6 4 2 3zM282 250l6-4 0-5-2 0-5 6 1 2zM290 250l0-1-2-3-6 4 2 3zM284 254l2 3 6-3-2-4-6 3zM294 256l-1-2-1 0-6 3 0 1 2 2 2 1zM292 264l6-3-1 0-3-5-4 5zM342 252l0 2 2 3 6-3-2-3zM344 257l0 1 2 3 1 0 5-4-2-3zM346 246l1 0 5-4-3-3-5 4zM358 252l-1-2-7 4 2 3 6-3zM355 235l-2-4-6 3 2 4zM359 228l-6 3 2 4 1 1 5-6z"/><path id="pYR" d="M325 412l-7 2 4 5 4-4zM335 415l-1-4-1 0-5 5 2 2 5-2zM360 414l-2-3-6 4 2 3zM357 422l5-3 0-1-1-3-1-1-6 4 1 2zM343 386l5-3-1-2-2-2-5 3 1 3zM344 389l6-3-2-3-5 3zM350 386l-6 3 3 4 5-4zM350 386l6-5-2-2 0-1-7 3 1 2zM359 386l0-1-3-4-6 5 2 3zM354 378l0 1 5-5-1-2-6 2 0 1zM363 378l-1 0-6 3 3 4 5-3 0-1zM359 374l1 1 6-4 0-1-2-2-6 3 0 1zM368 373l-2-2-6 4 2 3 1 0zM361 363l3 5 4-6-1-1zM366 370l5-3-2-4-1-1-4 6zM368 362l1 1 6-3-2-4 0-1-6 4 0 2zM372 367l5-4-1-3-1 0-6 3 2 4zM372 341l-5 4 2 3 6-3zM375 345l-6 3 0 1 1 3 1 0 6-4zM373 356l6-3-2-5-6 4 2 3zM375 360l1 0 5-4-1-3-1 0-6 3zM377 363l1 0 5-3 0-2 0-2-2 0-5 4zM380 340l-2-3-6 4 3 4zM377 348l2 5 1 0 5-4-1-1-1-2z"/><path id="pGR" d="M326 415l2 1 5-5-3-3-5 4zM343 414l-1-1-1-1-6 3 0 1 2 3 1 0 5-4zM338 419l2 2 6-3-3-3zM343 401l-3-5-6 4 1 1 1 2zM338 408l1 0 6-4-2-3-7 2 0 2zM348 408l2 3 6-3-3-4zM352 389l3 4 5-5-1-2zM356 381l6-3-2-3-1-1-5 5zM367 386l-3-4-5 3 0 1 1 2 1 1zM369 389l0-1-2-2-6 3 2 4zM377 348l6-2 0-1-3-4 0-1-5 5zM386 338l-6 3 3 4 5-4 0-1zM388 341l-5 4 0 1 1 2 7-3z"/><path id="pRR" d="M245 257l2 4 1 1 5-4-6-11-2 6zM257 262l-3-4-1 0-5 4 2 2zM258 264l-1-2-7 2 0 1 2 3zM364 341l2 4 1 0 5-4-2-3-1-1zM365 330l7-3-3-4-6 4zM365 290l6-4-2-3-1 0-5 4 1 3zM373 290l0-1-1-2-1-1-6 4 3 3zM375 295l0-2-2-3-5 3 0 1 1 2zM370 300l3 1 3-4-1-2-6 1 0 1zM377 309l6-4 0-1-3-2 0-1-5 3 1 4zM371 273l0-1-4-4 0-1-4 5 1 3zM367 279l5-3 0-1-1-2-7 2 1 4zM368 283l1 0 6-4-3-3-5 3zM375 280l0-1-6 4 2 3 1 1 4-5 0-1zM379 287l0-1-3-4-4 5 1 2zM375 293l5-3-1-3-6 2 0 1zM376 297l2 0 5-3-2-4-1 0-5 3 0 2zM365 265l2 2 0 1 7-3-3-4-5 3zM374 265l-7 3 4 4 5-5zM376 267l-5 5 0 1 1 2 6-3 0-1zM378 272l-6 3 0 1 3 3 0 1 5-5zM380 275l-5 5 1 1 7-2 0-1-2-3zM379 259l-1-1-7 2 0 1 3 4 5-5zM374 265l2 2 6-2 0-2-3-3zM384 267l-2-2-6 2 2 4 6-2zM378 271l0 1 2 3 1 0 4-5-1-1zM385 257l-6 2 0 1 3 3 5-4-1-1zM385 270l1 1 6-3 0-1-1-3-1 0-6 3 0 2zM391 252l-5 6 1 1 7-2 0-2-2-2zM394 255l5-2-2-4-5 4zM399 253l-5 2 0 2 1 3 2 0 5-4zM397 260l1 3 7-2 0-1-3-4zM401 267l1 5 1 0 5-5-2-3zM403 245l-6 4 2 4 6-4zM407 253l-2-4-6 4 3 3zM405 260l0 1 1 2 6-2 0-2-1-3-2-1zM406 263l0 1 2 3 2 1 4-5-2-2zM415 263l-1 0-4 5 1 2 6-2zM411 246l-2-4-6 3 2 4zM407 253l1 1 5-6-2-2-6 3zM411 256l5-4-3-4-5 6 1 1zM412 259l6-2-2-4 0-1-5 4zM412 261l2 2 1 0 5-3-2-3-6 2zM423 264l-2-3-1-1-5 3 2 5zM417 239l-3-5-1 0-5 5 1 2zM411 246l7-6 0-1-1 0-8 2 0 1zM418 240l-7 6 2 2 6-3zM416 253l8-5-5-3-6 3 3 4zM424 253l0-5-8 5 2 4zM426 256l-2-3-6 4 2 3 1 1zM426 256l-5 5 2 3 6-4zM418 239l4-2 0-3-3-5-5 5 3 5zM424 248l2-1 0-1 0-7-4-2-4 2 0 1 1 5zM419 229l3 5 6-3 0-1-4-3-2-1zM429 237l0-4-1-2-6 3 0 3 4 2zM426 246l8-4 0-3-5-2-3 2zM426 247l6 3 2-1 2-4-2-3-8 4zM413 202l0 11 5-2-1-8zM431 233l-3-3 0 1 1 2zM435 238l-2-4-2-1-2 0 0 4 5 2zM434 239l0 3 2 3 1-2-2-5zM391 139l13-4-2-5-10-1-7 0 5 10z"/><path id="pGX" d="M332 396l1 1 1 3 6-4-1-3-1-1zM347 407l-2-3-6 4 2 4 1 1zM350 412l0-1-2-3-1-1-5 6 1 1zM346 418l0 1 5-4-1-3-7 2 0 1zM351 400l-1-3-2-1-5 5 2 3 6-3zM347 393l0 1 1 2 2 1 5-4-3-4zM358 396l-3-3-5 4 1 3 7-2z"/><path id="pYX" d="M340 396l7-2 0-1-3-4-5 4zM343 401l5-5-1-2-7 2zM344 364l-5 3 2 4 5-3zM345 378l7-3 0-1-2-3-1 0-5 5zM354 378l-2-3-7 3 0 1 2 2zM358 372l0-1-2-3-1 0-5 3 2 3z"/><path id="pOR" d="M359 361l0-1-6 4 2 4 1 0 5-5zM356 368l2 3 6-3-3-5zM367 361l0-2-3-3-5 5 2 2zM371 352l-1 0-6 3 0 1 3 3 6-4zM372 327l-7 3 2 3 1 1 6-3 0-1zM374 331l-6 3 1 3 1 1 6-4zM370 338l2 3 6-4-2-3zM367 318l0 1 2 3 6-2 0-2-2-2-1-1zM375 320l-6 2 0 1 3 4 4-4zM380 326l-3-3-1 0-4 4 2 3 6-3zM374 330l0 1 2 3 6-5-2-2zM376 334l2 3 6-3-1-4-1-1zM385 296l-2-2-5 3 2 4 0 1zM383 304l5-4-2-2-1-2-5 6zM393 308l0-1-2-3-6 4 0 1 1 2zM376 281l0 1 3 4 5-3 0-2-1-2zM381 290l6-4-3-3-5 3 0 1 1 3zM381 275l2 3 5-3-2-4-1-1z"/><path id="pRX" d="M371 311l-1-1-5 6 2 2 5-3zM366 304l2 4 6-5-1-2-3-1zM375 304l-1-1-6 5 2 2 1 1 5-3zM374 303l1 1 5-3-2-4-2 0-3 4zM401 109l1-1-1 0-1-1z"/><path id="pXX" d="M363 301l3 3 4-4-1-3zM348 203l-4-1 0 4 5-2zM345 215l7 1 1 0 4-5-8-7-5 2-1 8zM361 231l2 3 6-2-2-5zM371 233l-2-1-6 2 0 1 2 4 1 1zM375 240l-4-7-5 7 2 2 2 1zM364 209l1 0 0-18-6-1-6 0-4 2-1 11 1 1 8 7zM365 209l-1 0 1 15 2 3 10-4 0-7-5-5zM367 227l2 5 2 1 7-6-1-4zM392 217l1-1-16 0 0 7 1 4 2 2 3 0zM386 230l6-3 0-10-9 12zM372 211l5 5 16 0 3-2-7-13-3-2zM380 111l1-4 0-3-5-7-4 2-2 1zM381 104l2-6 0-3-1-2-6 4zM383 95l0 3 2 0zM383 98l-2 6 0 3 5-2 3-3-1-1-3-3zM386 105l6-2-3-1zM386 105l-5 2-1 4 0 3 0 1 7-1 10-8-5-3z"/><path id="pyX" d="M378 180l-1-1 0 3-2 0-10 9 0 18 7 2 14-12z"/><path id="ml" d="M275.1 266.9 L291.0 279.3 L310.0 293.3 L317.0 294.5 L318.8 302.9 L320.6 320.5 L322.5 333.0 L326.0 351.1 L332.2 370.5 L341.0 386.4 L344.5 395.2 L337.5 404.0 L328.7 418.1 L318.1 432.2 L312.8 446.3 L311.1 463.9 L310.5 490.0 L308.6 499.0 L301.5 520.0 L283.9 535.8 L264.5 560.5 L238.1 572.8 L202.9 578.1 L167.6 574.6 L130.0 573.0 M246.7 346.7 L265.2 358.2 L289.9 372.3 L304.0 386.4 L318.1 402.2 L332.2 412.8 L342.8 423.4 L348.1 428.7 M335.7 412.8 L351.6 405.8 M380.0 236.0 L377.8 250.0 L371.7 290.0 L364.6 329.3 L360.4 356.4 L356.0 382.9 L351.6 405.8 L348.1 428.7 L344.5 449.8 L339.3 471.0 L335.7 490.0 L332.9 515.7 L325.9 536.9 L317.0 551.0 L310.0 560.0 L291.0 583.4 L273.3 599.3 L246.9 609.8 L224.0 615.1 L218.7 620.4 L215.2 631.0 L217.0 639.8 L220.5 650.0 L224.0 655.3 L225.8 701.0 M124.0 507.6 L153.0 483.0 L167.6 500.6 L255.7 509.4 L283.9 535.8 L310.0 558.7 L320.6 563.3 L332.9 559.8 M188.8 631.0 L209.9 625.7 L215.2 629.2"/><path id="b0" d="M256 714l-3 19 3 16 24 1-2-25-4-19-8-9-16 1z"/><path id="b1" d="M303 828l5 1 3-5-3-4-6 3z"/><path id="b2" d="M274 209l3 5-5 4-6 10 0 1 4 3 12 8 21-22-1-2-9-14-8-3-7 6z"/><path id="b3" d="M282 240l3 6 29-2 0-11-11-15z"/><path id="b4" d="M229 254l11 2 16 1 1-12-3-9-14 1-14 2-1 5z"/><path id="b5" d="M119 412l6 0 16-5 1-5 3-4 5-5-2-4-23 6-7 7-2 6z"/><path id="b6" d="M153 328l6 4-2 5-4 6-7 4-10 2-10 4-10 2-2 4 2 1 12 1 12-1 18 2 27 18 15 12 8-9 20 4 1-6-51-44 0-19-9-6-8 2-6 2-3 6z"/><path id="b7" d="M178 318l0 8 10 4 14 5 4-12 7-12-4-11-6 0-11 0-7 4-4 1-3 2-9 5z"/><path id="b8" d="M372 99l-7 4 33 19 0-16-10-5-5-7z"/><path id="b9" d="M364 115l-9 0-2 18 8 4 1 1 1 0 23 5 0 1 0 9 12 0 0-31-33-19z"/><path id="b10" d="M398 149l12 0 2-3 21 2 13 3 7-2-2-5-18-3 18-1 11-2-6-6-23-3-17 3-8-2 1-7 9-4 1-6-3-1-15-4-3-1 0-1z"/><path id="b11" d="M335 185l3-5-3-1zM392 200l0-47-6-1 0 2-4-2-21-1 0 9 10 0 0 11 6 0 0 11-23 0-12 4-4 6 5 2 1 5 0 1z"/><path id="b12" d="M392 192l24 0-2-14-6-9 2-9 0-11-18 0z"/><path id="b13" d="M392 200l17 0 1 24 7 0 1-11-1-10-1-11-24 0z"/><path id="b14" d="M343 225l41 0 0-25-40 0-1 17z"/><path id="b15" d="M384 225l26 0-1-25-25 0z"/><path id="b16" d="M305 173l29 14 4-7-33-14z"/><path id="b17" d="M323 293l17 6 21-6-3-22-18 0-17 4z"/><path id="b18" d="M199 709l4 15 0 15-9 3 2 4-6 9-15 12-4 9 1 7 6 3 0 5 14 2 9-3 7-5 9-4 0-8-5-10 1-25 4-18 2-26-11-2-12 2z"/><path id="b19" d="M17 513l1 9 3 6 7 2 2-2 6-6 2-6-3-7-2-6-14 3z"/><path id="b20" d="M70 470l10 2 10 2 7-3 1-11-10-3-11-4-9 11z"/><path id="b21" d="M109 629l1 11 0 10 1 11 14 0 11-7 0-10 0-7-6-4-4-9-17 0z"/></defs>
<rect width="989" height="908" fill="#fff"/>
<g stroke="#62676b" stroke-width="0.8" stroke-linejoin="round"><use href="#pRC" fill="#e4550f"/><use href="#pRD" fill="#e4550f"/><use href="#pRG" fill="#e4550f"/><use href="#pyM" fill="#f5c32d"/><use href="#pyD" fill="#f5c32d"/><use href="#pOD" fill="#f08c28"/><use href="#pOL" fill="#f08c28"/><use href="#pOM" fill="#f08c28"/><use href="#pYL" fill="#faf55a"/><use href="#pBC" fill="#0a0af5"/><use href="#pCD" fill="#8cf0e6"/><use href="#pYD" fill="#faf55a"/><use href="#pRL" fill="#e4550f"/><use href="#pOC" fill="#f08c28"/><use href="#pyC" fill="#f5c32d"/><use href="#pGM" fill="#d2f68e"/><use href="#pYM" fill="#faf55a"/><use href="#pGL" fill="#d2f68e"/><use href="#pCB" fill="#8cf0e6"/><use href="#pRM" fill="#e4550f"/><use href="#pGD" fill="#d2f68e"/><use href="#pCM" fill="#8cf0e6"/><use href="#pXG" fill="#e10000"/><use href="#pXC" fill="#e10000"/><use href="#pRB" fill="#e4550f"/><use href="#pyL" fill="#f5c32d"/><use href="#pCC" fill="#8cf0e6"/><use href="#pXy" fill="#e10000"/><use href="#pYG" fill="#faf55a"/><use href="#pGC" fill="#d2f68e"/><use href="#pXO" fill="#e10000"/><use href="#pXY" fill="#e10000"/><use href="#pRY" fill="#e4550f"/><use href="#pOY" fill="#f08c28"/><use href="#pYC" fill="#faf55a"/><use href="#pGB" fill="#d2f68e"/><use href="#pRO" fill="#e4550f"/><use href="#pOG" fill="#f08c28"/><use href="#pCL" fill="#8cf0e6"/><use href="#pXB" fill="#e10000"/><use href="#pXR" fill="#e10000"/><use href="#pXL" fill="#e10000"/><use href="#pGG" fill="#d2f68e"/><use href="#pOO" fill="#f08c28"/><use href="#pMB" fill="#5577f0"/><use href="#pYY" fill="#faf55a"/><use href="#pCO" fill="#8cf0e6"/><use href="#pLB" fill="#69a5f5"/><use href="#pDB" fill="#3640f2"/><use href="#pLD" fill="#69a5f5"/><use href="#pLM" fill="#69a5f5"/><use href="#pGY" fill="#d2f68e"/><use href="#pyY" fill="#f5c32d"/><use href="#pyG" fill="#f5c32d"/><use href="#pBB" fill="#0a0af5"/><use href="#pBM" fill="#0a0af5"/><use href="#pOy" fill="#f08c28"/><use href="#pMC" fill="#5577f0"/><use href="#pDC" fill="#3640f2"/><use href="#pDO" fill="#3640f2"/><use href="#pDM" fill="#3640f2"/><use href="#pXM" fill="#e10000"/><use href="#pDD" fill="#3640f2"/><use href="#pBD" fill="#0a0af5"/><use href="#pCG" fill="#8cf0e6"/><use href="#pYO" fill="#faf55a"/><use href="#pyy" fill="#f5c32d"/><use href="#pMM" fill="#5577f0"/><use href="#pDL" fill="#3640f2"/><use href="#pBL" fill="#0a0af5"/><use href="#pYy" fill="#faf55a"/><use href="#pLC" fill="#69a5f5"/><use href="#pML" fill="#5577f0"/><use href="#pLL" fill="#69a5f5"/><use href="#pCY" fill="#8cf0e6"/><use href="#pGy" fill="#d2f68e"/><use href="#pMD" fill="#5577f0"/><use href="#pGO" fill="#d2f68e"/><use href="#pLG" fill="#69a5f5"/><use href="#pCy" fill="#8cf0e6"/><use href="#pLY" fill="#69a5f5"/><use href="#pLO" fill="#69a5f5"/><use href="#pLy" fill="#69a5f5"/><use href="#pMG" fill="#5577f0"/><use href="#pMO" fill="#5577f0"/><use href="#pLR" fill="#69a5f5"/><use href="#pDG" fill="#3640f2"/><use href="#pDY" fill="#3640f2"/><use href="#pBY" fill="#0a0af5"/><use href="#pMR" fill="#5577f0"/><use href="#pMy" fill="#5577f0"/><use href="#pCR" fill="#8cf0e6"/><use href="#pMY" fill="#5577f0"/><use href="#pLX" fill="#69a5f5"/><use href="#pDR" fill="#3640f2"/><use href="#pCX" fill="#8cf0e6"/><use href="#pDy" fill="#3640f2"/><use href="#pMX" fill="#5577f0"/><use href="#pBG" fill="#0a0af5"/><use href="#pBX" fill="#0a0af5"/><use href="#pOB" fill="#f08c28"/><use href="#pyO" fill="#f5c32d"/><use href="#pRy" fill="#e4550f"/><use href="#pYR" fill="#faf55a"/><use href="#pGR" fill="#d2f68e"/><use href="#pRR" fill="#e4550f"/><use href="#pGX" fill="#d2f68e"/><use href="#pYX" fill="#faf55a"/><use href="#pOR" fill="#f08c28"/><use href="#pRX" fill="#e4550f"/><use href="#pXX" fill="#e10000"/><use href="#pyX" fill="#f5c32d"/><use href="#b0" fill="#e10000"/><use href="#b1" fill="#d2f68e"/><use href="#b2" fill="#e10000"/><use href="#b3" fill="#e4550f"/><use href="#b4" fill="#e10000"/><use href="#b5" fill="#0a0af5"/><use href="#b6" fill="#3640f2"/><use href="#b7" fill="#f08c28"/><use href="#b8" fill="#e10000"/><use href="#b9" fill="#e10000"/><use href="#b10" fill="#e4550f"/><use href="#b11" fill="#f5c32d"/><use href="#b12" fill="#f08c28"/><use href="#b13" fill="#e4550f"/><use href="#b14" fill="#e10000"/><use href="#b15" fill="#e10000"/><use href="#b16" fill="#f08c28"/><use href="#b17" fill="#d2f68e"/><use href="#b18" fill="#e4550f"/><use href="#b19" fill="#f5c32d"/><use href="#b20" fill="#f5c32d"/><use href="#b21" fill="#faf55a"/></g>
<g transform="translate(520.7 5.9) scale(0.984)"><g stroke="#62676b" stroke-width="0.8" stroke-linejoin="round"><use href="#pRC" fill="#8cf0e6"/><use href="#pRD" fill="#3640f2"/><use href="#pRG" fill="#d2f68e"/><use href="#pyM" fill="#5577f0"/><use href="#pyD" fill="#3640f2"/><use href="#pOD" fill="#3640f2"/><use href="#pOL" fill="#69a5f5"/><use href="#pOM" fill="#5577f0"/><use href="#pYL" fill="#69a5f5"/><use href="#pBC" fill="#8cf0e6"/><use href="#pCD" fill="#3640f2"/><use href="#pYD" fill="#3640f2"/><use href="#pRL" fill="#69a5f5"/><use href="#pOC" fill="#8cf0e6"/><use href="#pyC" fill="#8cf0e6"/><use href="#pGM" fill="#5577f0"/><use href="#pYM" fill="#5577f0"/><use href="#pGL" fill="#69a5f5"/><use href="#pCB" fill="#0a0af5"/><use href="#pRM" fill="#5577f0"/><use href="#pGD" fill="#3640f2"/><use href="#pCM" fill="#5577f0"/><use href="#pXG" fill="#d2f68e"/><use href="#pXC" fill="#8cf0e6"/><use href="#pRB" fill="#0a0af5"/><use href="#pyL" fill="#69a5f5"/><use href="#pCC" fill="#8cf0e6"/><use href="#pXy" fill="#f5c32d"/><use href="#pYG" fill="#d2f68e"/><use href="#pGC" fill="#8cf0e6"/><use href="#pXO" fill="#f08c28"/><use href="#pXY" fill="#faf55a"/><use href="#pRY" fill="#faf55a"/><use href="#pOY" fill="#faf55a"/><use href="#pYC" fill="#8cf0e6"/><use href="#pGB" fill="#0a0af5"/><use href="#pRO" fill="#f08c28"/><use href="#pOG" fill="#d2f68e"/><use href="#pCL" fill="#69a5f5"/><use href="#pXB" fill="#0a0af5"/><use href="#pXR" fill="#e4550f"/><use href="#pXL" fill="#69a5f5"/><use href="#pGG" fill="#d2f68e"/><use href="#pOO" fill="#f08c28"/><use href="#pMB" fill="#0a0af5"/><use href="#pYY" fill="#faf55a"/><use href="#pCO" fill="#f08c28"/><use href="#pLB" fill="#0a0af5"/><use href="#pDB" fill="#0a0af5"/><use href="#pLD" fill="#3640f2"/><use href="#pLM" fill="#5577f0"/><use href="#pGY" fill="#faf55a"/><use href="#pyY" fill="#faf55a"/><use href="#pyG" fill="#d2f68e"/><use href="#pBB" fill="#0a0af5"/><use href="#pBM" fill="#5577f0"/><use href="#pOy" fill="#f5c32d"/><use href="#pMC" fill="#8cf0e6"/><use href="#pDC" fill="#8cf0e6"/><use href="#pDO" fill="#f08c28"/><use href="#pDM" fill="#5577f0"/><use href="#pXM" fill="#5577f0"/><use href="#pDD" fill="#3640f2"/><use href="#pBD" fill="#3640f2"/><use href="#pCG" fill="#d2f68e"/><use href="#pYO" fill="#f08c28"/><use href="#pyy" fill="#f5c32d"/><use href="#pMM" fill="#5577f0"/><use href="#pDL" fill="#69a5f5"/><use href="#pBL" fill="#69a5f5"/><use href="#pYy" fill="#f5c32d"/><use href="#pLC" fill="#8cf0e6"/><use href="#pML" fill="#69a5f5"/><use href="#pLL" fill="#69a5f5"/><use href="#pCY" fill="#faf55a"/><use href="#pGy" fill="#f5c32d"/><use href="#pMD" fill="#3640f2"/><use href="#pGO" fill="#f08c28"/><use href="#pLG" fill="#d2f68e"/><use href="#pCy" fill="#f5c32d"/><use href="#pLY" fill="#faf55a"/><use href="#pLO" fill="#f08c28"/><use href="#pLy" fill="#f5c32d"/><use href="#pMG" fill="#d2f68e"/><use href="#pMO" fill="#f08c28"/><use href="#pLR" fill="#e4550f"/><use href="#pDG" fill="#d2f68e"/><use href="#pDY" fill="#faf55a"/><use href="#pBY" fill="#faf55a"/><use href="#pMR" fill="#e4550f"/><use href="#pMy" fill="#f5c32d"/><use href="#pCR" fill="#e4550f"/><use href="#pMY" fill="#faf55a"/><use href="#pLX" fill="#e10000"/><use href="#pDR" fill="#e4550f"/><use href="#pCX" fill="#e10000"/><use href="#pDy" fill="#f5c32d"/><use href="#pMX" fill="#e10000"/><use href="#pBG" fill="#d2f68e"/><use href="#pBX" fill="#e10000"/><use href="#pOB" fill="#0a0af5"/><use href="#pyO" fill="#f08c28"/><use href="#pRy" fill="#f5c32d"/><use href="#pYR" fill="#e4550f"/><use href="#pGR" fill="#e4550f"/><use href="#pRR" fill="#e4550f"/><use href="#pGX" fill="#e10000"/><use href="#pYX" fill="#e10000"/><use href="#pOR" fill="#e4550f"/><use href="#pRX" fill="#e10000"/><use href="#pXX" fill="#e10000"/><use href="#pyX" fill="#e10000"/><use href="#b0" fill="#ecac2a"/><use href="#b1" fill="#5577f0"/><use href="#b2" fill="#f5c32d"/><use href="#b3" fill="#faf55a"/><use href="#b4" fill="#f08c28"/><use href="#b5" fill="#0a0af5"/><use href="#b6" fill="#0a0af5"/><use href="#b7" fill="#faf55a"/><use href="#b8" fill="#e10000"/><use href="#b9" fill="#e4550f"/><use href="#b10" fill="#f08c28"/><use href="#b11" fill="#d2f68e"/><use href="#b12" fill="#faf55a"/><use href="#b13" fill="#f08c28"/><use href="#b14" fill="#e10000"/><use href="#b15" fill="#e4550f"/><use href="#b16" fill="#8cf0e6"/><use href="#b17" fill="#5577f0"/><use href="#b18" fill="#8cf0e6"/><use href="#b19" fill="#5577f0"/><use href="#b20" fill="#3640f2"/><use href="#b21" fill="#69a5f5"/></g><path d="M167 749L172 746 176 750 180 752 179 757 174 756 172 761 169 757 166 753Z" fill="#fff" stroke="#fff" stroke-width="2.5"/></g>
<use href="#ml" fill="none" stroke="#000" stroke-width="5.6" stroke-linecap="round" stroke-linejoin="round"/><use href="#ml" fill="none" stroke="#5a6e9e" stroke-width="1.8" stroke-linecap="round" stroke-dasharray="0 6.5"/>
<g transform="translate(520.7 5.9) scale(0.984)"><use href="#ml" fill="none" stroke="#000" stroke-width="5.6" stroke-linecap="round" stroke-linejoin="round"/><use href="#ml" fill="none" stroke="#5a6e9e" stroke-width="1.8" stroke-linecap="round" stroke-dasharray="0 6.5"/></g>
<g stroke="#111" stroke-width="0.45">
<text x="117.3" y="27.3" font-size="31" textLength="259.5" lengthAdjust="spacingAndGlyphs">Change in Resident</text>
<text x="73.6" y="59.7" font-size="31" textLength="346" lengthAdjust="spacingAndGlyphs">Commuter Market Access</text>
<text x="662.6" y="27.3" font-size="31" textLength="207.4" lengthAdjust="spacingAndGlyphs">Change in Firm</text>
<text x="593.2" y="59.7" font-size="31" textLength="345.5" lengthAdjust="spacingAndGlyphs">Commuter Market Access</text>
</g>
<text x="12.4" y="897.9" font-size="21.3" stroke="#111" stroke-width="0.25" textLength="879.5" lengthAdjust="spacingAndGlyphs">Note: Figures show deciles of change in CMA, with warmer colors representing larger increases</text>
</svg>
</body></html>
